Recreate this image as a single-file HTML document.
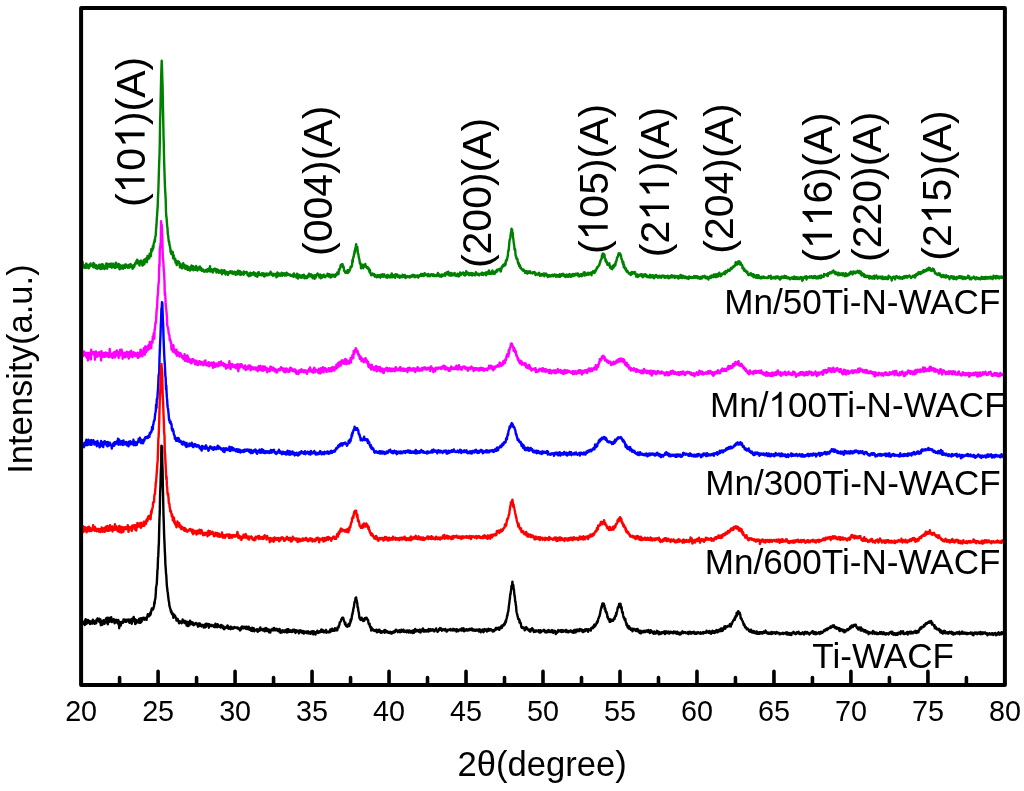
<!DOCTYPE html>
<html lang="en"><head><meta charset="utf-8"><title>XRD patterns</title>
<style>
html,body{margin:0;padding:0;background:#fff;}
body{width:1024px;height:791px;overflow:hidden;}
svg{display:block;will-change:transform;}
text{font-family:"Liberation Sans",sans-serif;fill:#000;}
.tk{font-size:30.4px;text-anchor:middle;}
.ax{font-size:34.6px;}
.lb{font-size:35.1px;}
.pk{font-size:41px;font-kerning:none;}
.cv{fill:none;stroke-width:2.4;stroke-linejoin:round;stroke-linecap:round;}
</style></head><body>
<svg width="1024" height="791" viewBox="0 0 1024 791">
<rect x="0" y="0" width="1024" height="791" fill="#fff"/>
<g>
<path class="cv" stroke="#008000" d="M81.7 267.3L82 264.9L82.3 265.1L82.6 261.9L82.9 266.6L83.2 266.6L83.5 266.6L83.9 267.6L84.2 267.7L84.5 265.4L84.8 265.7L85.1 266.2L85.4 267.7L85.7 266.5L86 263.8L86.3 263.5L86.6 266.6L86.9 267.7L87.2 266L87.5 264.9L87.9 267.7L88.2 265L88.5 267.2L88.8 268.3L89.1 266.8L89.4 265.6L89.7 266.7L90 264.1L90.3 264.9L90.6 263.5L90.9 264.8L91.2 264.6L91.5 264.9L91.9 265.3L92.2 266.1L92.5 266.1L92.8 266L93.1 266.9L93.4 262.9L93.7 267.3L94 264.9L94.3 263.8L94.6 265.7L94.9 265.7L95.2 267.6L95.5 265.4L95.9 268.1L96.2 268.4L96.5 265.3L96.8 265.7L97.1 267.7L97.4 267.4L97.7 268.7L98 267.9L98.3 267.2L98.6 267L98.9 268.1L99.2 264.6L99.5 265.9L99.9 267.4L100.2 265.1L100.5 269.1L100.8 265.8L101.1 266.3L101.4 268.9L101.7 264.1L102 265.5L102.3 268.6L102.6 264.5L102.9 264.5L103.2 266.1L103.5 266.2L103.8 267.1L104.2 267.2L104.5 269.1L104.8 268.3L105.1 267.8L105.4 266L105.7 266L106 263.8L106.3 267.4L106.6 263.5L106.9 267.5L107.2 268.7L107.5 264L107.8 264.6L108.2 264.6L108.5 266.6L108.8 264.3L109.1 265L109.4 264.6L109.7 264.5L110 266.9L110.3 263.8L110.6 265L110.9 265.2L111.2 266.3L111.5 263.7L111.8 267.7L112.2 266.4L112.5 267.1L112.8 266.5L113.1 263.6L113.4 264.6L113.7 267.1L114 265.9L114.3 265L114.6 267.6L114.9 267.9L115.2 265.3L115.5 267.7L115.8 262.6L116.2 263.1L116.5 267.3L116.8 264.9L117.1 266.6L117.4 266.5L117.7 266.3L118 267.1L118.3 266.5L118.6 264L118.9 266.3L119.2 266.4L119.5 269.3L119.8 264.7L120.2 266.3L120.5 265.6L120.8 266.2L121.1 268.5L121.4 267L121.7 265.8L122 266.1L122.3 267.5L122.6 265.5L122.9 266.8L123.2 268.7L123.5 267.9L123.8 266.3L124.2 265.5L124.5 265.8L124.8 264.6L125.1 267.9L125.4 266.7L125.7 266.2L126 264.5L126.3 264.7L126.6 266.9L126.9 266.7L127.2 265.7L127.5 267L127.8 267.8L128.2 265.5L128.5 265.6L128.8 265.4L129.1 264.8L129.4 267.6L129.7 267.3L130 267.1L130.3 264.6L130.6 264.1L130.9 266L131.2 265.2L131.5 265.9L131.8 265.3L132.2 267.1L132.5 268.8L132.8 268.4L133.1 268.4L133.4 266L133.7 266.5L134 264.9L134.3 266.7L134.6 264.9L134.9 264L135.2 263.1L135.5 264L135.8 263.3L136.2 262.8L136.5 260.6L136.8 261.9L137.1 259.8L137.4 263.3L137.7 261.5L138 262.6L138.3 263L138.6 261L138.9 261.6L139.2 263.8L139.5 265.6L139.8 261.7L140.2 262.7L140.5 263.7L140.8 260.8L141.1 260.6L141.4 261.8L141.7 262.7L142 262.5L142.3 265.6L142.6 263.2L142.9 263.7L143.2 265L143.5 265L143.8 259.9L144.2 261.7L144.5 263.8L144.8 259.8L145.1 260.1L145.4 258.9L145.7 258.7L146 258.5L146.3 260L146.6 261.7L146.9 262.2L147.2 259.3L147.5 255.9L147.8 258.6L148.1 258L148.5 259L148.8 258.3L149.1 255.5L149.4 257.8L149.7 253.6L150 255.3L150.3 255.9L150.6 254.9L150.9 256.2L151.2 249.1L151.5 251.6L151.8 251.3L152.1 249.2L152.5 250.1L152.8 246.3L153.1 248.5L153.4 247.4L153.7 243.7L154 242.6L154.3 242.4L154.6 240L154.9 241.5L155.2 236.9L155.5 236.7L155.8 234.3L156.1 228.9L156.5 224.7L156.8 218.8L157.1 215L157.4 210.1L157.7 206.2L158 197L158.3 191.3L158.6 182.3L158.9 171.8L159.2 161.9L159.5 155.3L159.8 143L160.1 121.4L160.5 108.4L160.8 93.1L161.1 78.2L161.4 69.4L161.7 60.6L162 66.8L162.3 78.4L162.6 87.1L162.9 103.2L163.2 118.4L163.5 134.5L163.8 144.9L164.1 160.4L164.5 172.6L164.8 181.9L165.1 189.6L165.4 194.3L165.7 199.4L166 211.7L166.3 216.5L166.6 218.1L166.9 222.4L167.2 226.4L167.5 227.7L167.8 234.4L168.1 235.1L168.5 238.8L168.8 241.9L169.1 241.5L169.4 244.3L169.7 245.9L170 246.7L170.3 248.6L170.6 252.2L170.9 250.4L171.2 254L171.5 251L171.8 254.2L172.1 254.3L172.5 254L172.8 252.1L173.1 258.4L173.4 255.1L173.7 255.4L174 257.3L174.3 258.5L174.6 259.8L174.9 260.1L175.2 258.7L175.5 262.6L175.8 260.5L176.1 263.1L176.5 264L176.8 265.1L177.1 262.8L177.4 262.5L177.7 262.7L178 261.1L178.3 262.3L178.6 262.3L178.9 261.8L179.2 263.8L179.5 263.8L179.8 266.8L180.1 267.5L180.5 263.7L180.8 266.3L181.1 265.3L181.4 267.5L181.7 267.6L182 268.4L182.3 267.1L182.6 267.5L182.9 265.8L183.2 263.2L183.5 264.8L183.8 265.4L184.1 265.7L184.5 264.9L184.8 268.5L185.1 266.8L185.4 268.5L185.7 266.9L186 268.9L186.3 265.6L186.6 268.2L186.9 266L187.2 268.1L187.5 269.8L187.8 266.4L188.1 267.8L188.4 269L188.8 269.1L189.1 267.8L189.4 270.3L189.7 269.1L190 270.5L190.3 269L190.6 266.6L190.9 267.1L191.2 269.6L191.5 265.5L191.8 266.7L192.1 268.3L192.4 268.9L192.8 268.8L193.1 266.1L193.4 270.4L193.7 268.2L194 268.6L194.3 269.2L194.6 268.5L194.9 267.3L195.2 267.7L195.5 269.8L195.8 267.1L196.1 266L196.4 269.2L196.8 268.3L197.1 268.7L197.4 270.5L197.7 267.7L198 268.8L198.3 268.7L198.6 269.4L198.9 269.2L199.2 266.8L199.5 266.7L199.8 267.8L200.1 266.6L200.4 269.9L200.8 268.5L201.1 268.5L201.4 268.3L201.7 270.9L202 269.9L202.3 269.4L202.6 270.8L202.9 269.5L203.2 270.7L203.5 271.4L203.8 270.2L204.1 270.8L204.4 270.5L204.8 271.7L205.1 270.9L205.4 270.6L205.7 270.2L206 271L206.3 269.7L206.6 271.4L206.9 270.8L207.2 271.7L207.5 269.8L207.8 269.5L208.1 268.9L208.4 271L208.8 269.3L209.1 269.5L209.4 268.1L209.7 269.9L210 266.3L210.3 271.6L210.6 269.6L210.9 270.3L211.2 269.1L211.5 269.7L211.8 271.4L212.1 270.5L212.4 271.7L212.8 272.4L213.1 271.9L213.4 269.3L213.7 270.2L214 269.9L214.3 270L214.6 268.9L214.9 268.6L215.2 269.7L215.5 269.8L215.8 271.2L216.1 270.4L216.4 272.5L216.8 269.3L217.1 269.4L217.4 270.9L217.7 270.8L218 269.8L218.3 271.9L218.6 272.3L218.9 272.8L219.2 270.7L219.5 270.9L219.8 271.6L220.1 271.6L220.4 272.4L220.8 271L221.1 272L221.4 269.9L221.7 273L222 274.2L222.3 272.4L222.6 273.4L222.9 270.8L223.2 272.2L223.5 270.8L223.8 272.9L224.1 272.5L224.4 270.2L224.8 271.2L225.1 271.3L225.4 274.5L225.7 271.5L226 272L226.3 272.6L226.6 272.9L226.9 272.8L227.2 272L227.5 272.1L227.8 275L228.1 273.6L228.4 273.4L228.7 272.1L229.1 273.4L229.4 272.7L229.7 271.7L230 272.9L230.3 271.1L230.6 271.7L230.9 272.8L231.2 271.9L231.5 273.3L231.8 271.4L232.1 271.5L232.4 272.3L232.7 272.5L233.1 273.9L233.4 272.8L233.7 272.2L234 272.8L234.3 273L234.6 271.6L234.9 273.1L235.2 273.2L235.5 274.7L235.8 272.6L236.1 274.1L236.4 272L236.7 273.3L237.1 274.4L237.4 273.2L237.7 274.1L238 270.8L238.3 273.1L238.6 273.6L238.9 273.7L239.2 272.1L239.5 274.4L239.8 271L240.1 274.7L240.4 274.1L240.7 274.9L241.1 273.4L241.4 272.2L241.7 272.8L242 272.9L242.3 274L242.6 273.3L242.9 273.6L243.2 273.7L243.5 274.8L243.8 271.5L244.1 273L244.4 273.5L244.7 273.4L245.1 272.2L245.4 272.6L245.7 272.6L246 272.9L246.3 271.9L246.6 272L246.9 272.1L247.2 273.1L247.5 275.1L247.8 273.2L248.1 274.7L248.4 275.7L248.7 273.9L249.1 276.4L249.4 273.7L249.7 275.2L250 273.9L250.3 272.6L250.6 274L250.9 275.5L251.2 273.4L251.5 274.7L251.8 273.3L252.1 273.3L252.4 274.5L252.7 273.4L253.1 274.4L253.4 274.6L253.7 272.3L254 272.5L254.3 273.2L254.6 275.3L254.9 273.1L255.2 273.1L255.5 274.7L255.8 276.1L256.1 273.8L256.4 273.9L256.7 274.6L257.1 275L257.4 276.7L257.7 273.1L258 272.4L258.3 274.1L258.6 274.8L258.9 272.1L259.2 274L259.5 275L259.8 273.8L260.1 274.5L260.4 274.4L260.7 275.1L261.1 274.7L261.4 274.2L261.7 275.2L262 273.3L262.3 274.3L262.6 275.3L262.9 273.8L263.2 273.9L263.5 273.5L263.8 273.3L264.1 276.5L264.4 274.9L264.7 276.3L265.1 275L265.4 274.3L265.7 273.8L266 274.5L266.3 274.1L266.6 275.3L266.9 273.5L267.2 274.8L267.5 275.2L267.8 274.9L268.1 274.2L268.4 274.9L268.7 275L269.1 274.4L269.4 274L269.7 272.9L270 273.8L270.3 273.3L270.6 271.7L270.9 273.6L271.2 274.6L271.5 274.4L271.8 273.4L272.1 275.1L272.4 275.2L272.7 275.2L273 275.9L273.4 274L273.7 274.7L274 273.9L274.3 275.3L274.6 275.1L274.9 274.7L275.2 275.1L275.5 274.1L275.8 275.5L276.1 273.8L276.4 277.3L276.7 276.4L277 273.7L277.4 272.5L277.7 276.4L278 274.4L278.3 275.4L278.6 273.5L278.9 275.3L279.2 273.8L279.5 275L279.8 273.8L280.1 275.9L280.4 273.9L280.7 275.6L281 274.3L281.4 274.7L281.7 272.6L282 273L282.3 275.8L282.6 274.2L282.9 274.7L283.2 274.1L283.5 273.6L283.8 274.7L284.1 273.3L284.4 273.5L284.7 275.5L285 273.4L285.4 274.5L285.7 274.7L286 275.6L286.3 274.7L286.6 272.6L286.9 274L287.2 273.8L287.5 275L287.8 274.6L288.1 273.8L288.4 274.8L288.7 274.3L289 274.9L289.4 274.4L289.7 275.2L290 274.8L290.3 275.7L290.6 274.8L290.9 275.8L291.2 275L291.5 275.9L291.8 276L292.1 275.9L292.4 275.6L292.7 275.5L293 276.4L293.4 273.9L293.7 276.9L294 273.5L294.3 275.6L294.6 275L294.9 276.1L295.2 275.9L295.5 275.8L295.8 275.6L296.1 276.1L296.4 277.5L296.7 275.8L297 273.6L297.4 275.2L297.7 275.7L298 278.6L298.3 274.8L298.6 275.4L298.9 276.7L299.2 276.3L299.5 274.9L299.8 277L300.1 275.4L300.4 276.6L300.7 277.6L301 275.7L301.4 276.3L301.7 277.8L302 276.1L302.3 275.3L302.6 275.9L302.9 277L303.2 274.9L303.5 275.8L303.8 274.7L304.1 275.6L304.4 278.3L304.7 277L305 277.2L305.4 277.9L305.7 276.9L306 276.3L306.3 278.1L306.6 278.2L306.9 276.2L307.2 277.2L307.5 277.8L307.8 276.6L308.1 276.5L308.4 274.6L308.7 275.3L309 273.8L309.4 276.2L309.7 275L310 276.4L310.3 275L310.6 276.4L310.9 274.2L311.2 275.5L311.5 276.7L311.8 276.7L312.1 276.6L312.4 275.2L312.7 278.2L313 277.2L313.3 277.3L313.7 277.3L314 275.8L314.3 276.8L314.6 278.8L314.9 275.3L315.2 276.3L315.5 275.2L315.8 277.4L316.1 276.1L316.4 274.9L316.7 275.3L317 274.3L317.3 273.7L317.7 273.4L318 275L318.3 274.5L318.6 275.8L318.9 275L319.2 275.9L319.5 277.4L319.8 275.1L320.1 274.6L320.4 276.6L320.7 278.3L321 275.9L321.3 275.2L321.7 276.6L322 276.5L322.3 277.5L322.6 275.6L322.9 276.5L323.2 276.6L323.5 275L323.8 274.6L324.1 276.5L324.4 276.6L324.7 275.3L325 277.2L325.3 276.5L325.7 276.2L326 276L326.3 275.8L326.6 276.2L326.9 276.1L327.2 275.3L327.5 273.7L327.8 275.5L328.1 275L328.4 274.7L328.7 276.5L329 274.3L329.3 276.4L329.7 275L330 274.6L330.3 274.9L330.6 277.5L330.9 276.8L331.2 274.9L331.5 276L331.8 276.9L332.1 274.7L332.4 275.2L332.7 275.9L333 275.3L333.3 274.8L333.7 276.3L334 275.4L334.3 275.3L334.6 276.7L334.9 274.7L335.2 276.7L335.5 274.4L335.8 274.2L336.1 274.4L336.4 275.3L336.7 274.9L337 274.7L337.3 272.5L337.7 272.9L338 273.2L338.3 274.1L338.6 273.8L338.9 269.4L339.2 270.6L339.5 269.2L339.8 268.9L340.1 268.3L340.4 266.4L340.7 265L341 266.5L341.3 265.9L341.7 264.1L342 264.6L342.3 264.7L342.6 264.3L342.9 267.1L343.2 266L343.5 266.4L343.8 267.8L344.1 270.8L344.4 270.6L344.7 271.1L345 271.6L345.3 272.6L345.7 272.8L346 271.6L346.3 272.4L346.6 272.1L346.9 272.8L347.2 272.4L347.5 270.3L347.8 273L348.1 271.8L348.4 270L348.7 272.2L349 271L349.3 271.1L349.7 270.3L350 269.7L350.3 268.5L350.6 266.8L350.9 267.5L351.2 267.3L351.5 266.2L351.8 266.3L352.1 264L352.4 260L352.7 262.4L353 259.4L353.3 257.2L353.7 256.8L354 253.9L354.3 254.3L354.6 250.7L354.9 252.6L355.2 249.3L355.5 247.5L355.8 246.5L356.1 244.1L356.4 245.6L356.7 246.5L357 248.1L357.3 246.8L357.6 251L358 253.9L358.3 253.8L358.6 255.9L358.9 258.1L359.2 258.6L359.5 260.2L359.8 263L360.1 263.7L360.4 263.2L360.7 263.7L361 268.3L361.3 267L361.6 265.5L362 266.9L362.3 267.5L362.6 266.7L362.9 264.7L363.2 268.3L363.5 267L363.8 265.7L364.1 266.6L364.4 265.8L364.7 265.5L365 266.5L365.3 263.9L365.6 266.6L366 266.3L366.3 266.3L366.6 267.2L366.9 268L367.2 267.9L367.5 267.9L367.8 267.3L368.1 268.7L368.4 268.4L368.7 268.2L369 270.6L369.3 271L369.6 272.3L370 270L370.3 273.2L370.6 273.9L370.9 273.8L371.2 275.4L371.5 273.6L371.8 274.6L372.1 274.1L372.4 274.5L372.7 273.6L373 274.6L373.3 275L373.6 274.7L374 274.8L374.3 274.1L374.6 276.5L374.9 274.9L375.2 275.4L375.5 276.3L375.8 275.4L376.1 276.7L376.4 276L376.7 277.3L377 276.3L377.3 276.3L377.6 275.1L378 276.6L378.3 276.9L378.6 276.7L378.9 275.3L379.2 275.8L379.5 276.2L379.8 276.5L380.1 275L380.4 277.7L380.7 275.6L381 275.5L381.3 274.8L381.6 275L382 276.5L382.3 274.4L382.6 274.6L382.9 274.3L383.2 274.9L383.5 276.8L383.8 275.4L384.1 275.7L384.4 274.5L384.7 276L385 276.4L385.3 276.4L385.6 276.6L386 277.3L386.3 277.4L386.6 276.5L386.9 275.9L387.2 275.1L387.5 277.7L387.8 274.9L388.1 276.6L388.4 275.9L388.7 275.5L389 276.8L389.3 275.8L389.6 277.4L390 275.8L390.3 277L390.6 277.3L390.9 274.8L391.2 277.2L391.5 276.2L391.8 273.5L392.1 276.7L392.4 277.3L392.7 275.8L393 275.9L393.3 276.7L393.6 275.1L394 276.5L394.3 277.2L394.6 276L394.9 277.1L395.2 277.8L395.5 274.1L395.8 274.2L396.1 274.8L396.4 275.9L396.7 275.9L397 274.8L397.3 274.6L397.6 274.9L397.9 277L398.3 275.3L398.6 275.6L398.9 277L399.2 276.3L399.5 275.8L399.8 277.8L400.1 277.2L400.4 276L400.7 276.3L401 276.9L401.3 275.9L401.6 276.6L401.9 277L402.3 277.1L402.6 274.8L402.9 275.5L403.2 276.1L403.5 276.4L403.8 276.9L404.1 277L404.4 275.6L404.7 274.9L405 276L405.3 275.9L405.6 278L405.9 276.6L406.3 276.5L406.6 277.1L406.9 276L407.2 276.2L407.5 276.7L407.8 277.1L408.1 277.2L408.4 276.9L408.7 276.9L409 276.2L409.3 276.8L409.6 276.2L409.9 277.6L410.3 276L410.6 276.5L410.9 276.6L411.2 276.7L411.5 275.7L411.8 276L412.1 275.4L412.4 274.9L412.7 276.6L413 276.2L413.3 274.8L413.6 275.3L413.9 276.5L414.3 275.7L414.6 275.2L414.9 277.2L415.2 275.8L415.5 276.1L415.8 276.7L416.1 275.7L416.4 276.2L416.7 276.4L417 276.6L417.3 275.5L417.6 277.1L417.9 276.6L418.3 277.7L418.6 276.1L418.9 275.4L419.2 275.5L419.5 275.2L419.8 276L420.1 275.6L420.4 276L420.7 275.1L421 274L421.3 275.7L421.6 274.7L421.9 275L422.3 275.7L422.6 275.5L422.9 273.9L423.2 274.8L423.5 275.9L423.8 276L424.1 275.6L424.4 275.5L424.7 273.1L425 274.6L425.3 273.6L425.6 274.2L425.9 274.4L426.3 275.2L426.6 275.2L426.9 275L427.2 274.9L427.5 274.5L427.8 276.3L428.1 275.4L428.4 273.9L428.7 275.3L429 275.4L429.3 274.8L429.6 275.5L429.9 276.3L430.3 275.1L430.6 274.9L430.9 275L431.2 274.2L431.5 274.3L431.8 274.5L432.1 274.7L432.4 274.4L432.7 275.9L433 275L433.3 275.7L433.6 274.3L433.9 275.4L434.3 276.1L434.6 275.9L434.9 275.3L435.2 276L435.5 275.9L435.8 275.3L436.1 275.4L436.4 276.1L436.7 274.8L437 274.4L437.3 275.4L437.6 275.6L437.9 273L438.2 276L438.6 275.1L438.9 275.4L439.2 274.4L439.5 274.9L439.8 276.4L440.1 276.2L440.4 275.6L440.7 275.1L441 275.5L441.3 276.8L441.6 274.9L441.9 274.6L442.2 275.1L442.6 275.9L442.9 274.5L443.2 275.5L443.5 275.3L443.8 275L444.1 274.4L444.4 275.4L444.7 274.8L445 273.3L445.3 275.7L445.6 274.9L445.9 274.4L446.2 273.9L446.6 273.9L446.9 272.2L447.2 273.7L447.5 274.4L447.8 274.2L448.1 273.2L448.4 271.7L448.7 272.9L449 273.9L449.3 275.4L449.6 273.2L449.9 274.8L450.2 275.6L450.6 275.7L450.9 275.3L451.2 273L451.5 275.6L451.8 275L452.1 275.1L452.4 273.8L452.7 273.8L453 275.2L453.3 274.1L453.6 273.9L453.9 273.6L454.2 275.3L454.6 273L454.9 273.8L455.2 274.6L455.5 274.7L455.8 275.6L456.1 275L456.4 275.9L456.7 274.5L457 274.6L457.3 275.1L457.6 273.6L457.9 276.2L458.2 274.3L458.6 276.1L458.9 276.4L459.2 276L459.5 275L459.8 273.9L460.1 272.5L460.4 274.6L460.7 273.9L461 275.1L461.3 273.5L461.6 274.1L461.9 273.2L462.2 274.1L462.6 273.8L462.9 273.8L463.2 272.5L463.5 273.5L463.8 274.1L464.1 275L464.4 274.3L464.7 273.1L465 275.5L465.3 274.4L465.6 275L465.9 273.3L466.2 271.3L466.6 273.3L466.9 273L467.2 274.3L467.5 272.8L467.8 273.3L468.1 272.8L468.4 273.9L468.7 273.1L469 275.2L469.3 274.6L469.6 274.9L469.9 273.6L470.2 274.2L470.6 274.5L470.9 273L471.2 274.7L471.5 273.5L471.8 274.4L472.1 275.5L472.4 274.9L472.7 273.2L473 275L473.3 273.8L473.6 274.2L473.9 274.7L474.2 273.9L474.6 275L474.9 274.1L475.2 275.4L475.5 274.4L475.8 272.2L476.1 273.3L476.4 273.4L476.7 273.5L477 273.5L477.3 274.4L477.6 274.2L477.9 273.6L478.2 275L478.6 275.1L478.9 274.6L479.2 275.4L479.5 274.7L479.8 273.9L480.1 273.8L480.4 273.7L480.7 273.8L481 273.5L481.3 274.2L481.6 274.7L481.9 272.6L482.2 272.7L482.5 273.7L482.9 274.4L483.2 275.1L483.5 274.6L483.8 274.3L484.1 273.2L484.4 273.8L484.7 273.3L485 273.7L485.3 274.1L485.6 272.5L485.9 272.9L486.2 275.4L486.5 272.7L486.9 272.8L487.2 272.5L487.5 272L487.8 273.9L488.1 272.4L488.4 272.4L488.7 272.1L489 270.4L489.3 273.7L489.6 272.8L489.9 272.9L490.2 273.8L490.5 272.9L490.9 273.3L491.2 273.2L491.5 274L491.8 271.4L492.1 271.9L492.4 270.4L492.7 272.2L493 272.9L493.3 272L493.6 273.9L493.9 273L494.2 273.8L494.5 272.4L494.9 273.5L495.2 271.4L495.5 271.9L495.8 271.3L496.1 270.8L496.4 272L496.7 271.8L497 269.6L497.3 270.8L497.6 269.8L497.9 269.7L498.2 270.2L498.5 269.6L498.9 270L499.2 269.9L499.5 268.8L499.8 269.2L500.1 270.1L500.4 269.5L500.7 271.5L501 271.1L501.3 268L501.6 268.6L501.9 266.5L502.2 267.3L502.5 266.5L502.9 266.2L503.2 264.7L503.5 266.3L503.8 265.8L504.1 264.5L504.4 264.8L504.7 265.1L505 265.4L505.3 262.8L505.6 264.6L505.9 260.5L506.2 260.5L506.5 259.7L506.9 260.4L507.2 258.4L507.5 256.9L507.8 255.9L508.1 252.6L508.4 250.2L508.7 250.4L509 246.3L509.3 243L509.6 240L509.9 239.6L510.2 238.9L510.5 235.8L510.9 232.6L511.2 232.6L511.5 228.7L511.8 230.5L512.1 229.6L512.4 233.6L512.7 232.6L513 237.1L513.3 238.9L513.6 241.3L513.9 244.1L514.2 245.4L514.5 249.5L514.9 250L515.2 249.2L515.5 254.8L515.8 255.9L516.1 256.5L516.4 258.2L516.7 259L517 258.6L517.3 258.7L517.6 260.3L517.9 262.4L518.2 263.8L518.5 262.7L518.9 263.4L519.2 266.4L519.5 264.9L519.8 265.5L520.1 265.4L520.4 268.1L520.7 267.5L521 267.9L521.3 268.9L521.6 268.8L521.9 269.6L522.2 269.2L522.5 269.8L522.8 270.2L523.2 270.8L523.5 269.5L523.8 270.4L524.1 270.7L524.4 270.6L524.7 271.2L525 272.9L525.3 272.4L525.6 271.7L525.9 271.8L526.2 272.7L526.5 270.9L526.8 272.4L527.2 273.4L527.5 273.7L527.8 272.9L528.1 272.9L528.4 271.4L528.7 272.3L529 272.9L529.3 272.8L529.6 272.9L529.9 271.1L530.2 272.6L530.5 273.1L530.8 272.3L531.2 272.5L531.5 273.1L531.8 273L532.1 273.1L532.4 273.4L532.7 273.2L533 272.2L533.3 272.2L533.6 272.2L533.9 272.6L534.2 273.1L534.5 271.9L534.8 272.9L535.2 273.3L535.5 275L535.8 274.3L536.1 273.5L536.4 274.4L536.7 273.8L537 273.9L537.3 274.7L537.6 273.7L537.9 274L538.2 274.5L538.5 273.7L538.8 274.3L539.2 272.8L539.5 274.3L539.8 275.8L540.1 274.4L540.4 274.9L540.7 274.6L541 274.5L541.3 275.5L541.6 274.6L541.9 275.6L542.2 273.9L542.5 274.5L542.8 274.2L543.2 274.1L543.5 275.3L543.8 273.5L544.1 273.5L544.4 276.3L544.7 274.2L545 274.3L545.3 275L545.6 273.7L545.9 274.9L546.2 273.6L546.5 274.3L546.8 274.7L547.2 276.2L547.5 275.9L547.8 277L548.1 276.6L548.4 275.3L548.7 275.8L549 275.4L549.3 275.1L549.6 276.3L549.9 276.6L550.2 275.5L550.5 275.7L550.8 275.9L551.2 275.5L551.5 275.9L551.8 275L552.1 276.2L552.4 275.1L552.7 274.7L553 275.6L553.3 276L553.6 276.2L553.9 276L554.2 275.7L554.5 274.5L554.8 275.6L555.2 275.7L555.5 275.8L555.8 274.7L556.1 276.7L556.4 276.3L556.7 276.2L557 276L557.3 275.8L557.6 276.6L557.9 275L558.2 275.7L558.5 276L558.8 276.6L559.2 275.6L559.5 276.8L559.8 274.2L560.1 276.9L560.4 275.9L560.7 276.2L561 274.8L561.3 275.9L561.6 274.5L561.9 275L562.2 273.9L562.5 275.6L562.8 275.3L563.2 273.8L563.5 275L563.8 275L564.1 275.9L564.4 274.9L564.7 275.6L565 276.6L565.3 274.9L565.6 277L565.9 275.9L566.2 275.6L566.5 274.8L566.8 274.6L567.1 276.6L567.5 275.7L567.8 275.6L568.1 276.9L568.4 276.6L568.7 276.1L569 274.5L569.3 274L569.6 276.1L569.9 275.4L570.2 275.1L570.5 276.7L570.8 274.8L571.1 275.6L571.5 276.6L571.8 275.7L572.1 275L572.4 274.3L572.7 276.1L573 273.9L573.3 275.2L573.6 276L573.9 274.3L574.2 275.2L574.5 274.6L574.8 275.5L575.1 274.8L575.5 273.8L575.8 274.8L576.1 274.8L576.4 274L576.7 274.6L577 273.8L577.3 274.3L577.6 275.4L577.9 273.4L578.2 275.4L578.5 275.1L578.8 274.8L579.1 276.5L579.5 275.8L579.8 274.8L580.1 275.2L580.4 276L580.7 274.2L581 275.2L581.3 274.9L581.6 275.1L581.9 276.2L582.2 273.9L582.5 274.3L582.8 273.9L583.1 274.8L583.5 275.1L583.8 272.5L584.1 275.4L584.4 275.6L584.7 272.3L585 273.3L585.3 274.7L585.6 274.2L585.9 274.9L586.2 274L586.5 275.1L586.8 273.4L587.1 274.5L587.5 273.7L587.8 273.9L588.1 272.7L588.4 273.6L588.7 274.8L589 273.3L589.3 273.7L589.6 273.9L589.9 273L590.2 273.9L590.5 274.1L590.8 273.8L591.1 272.4L591.5 275.2L591.8 273.6L592.1 273.1L592.4 272.6L592.7 272L593 271.2L593.3 272L593.6 271.9L593.9 272.7L594.2 273.1L594.5 271L594.8 272.8L595.1 271.6L595.5 271.6L595.8 269.7L596.1 270.2L596.4 268.9L596.7 269.2L597 267.1L597.3 268L597.6 267.2L597.9 266.7L598.2 266.5L598.5 266.1L598.8 265.3L599.1 265.3L599.5 264.6L599.8 262.7L600.1 262.9L600.4 260.6L600.7 260.7L601 259.7L601.3 259L601.6 259L601.9 255.6L602.2 257.8L602.5 253.8L602.8 256.2L603.1 256L603.5 253.8L603.8 255.7L604.1 255L604.4 254.3L604.7 257.6L605 258.4L605.3 258.9L605.6 261.4L605.9 260L606.2 260.6L606.5 262.5L606.8 261.8L607.1 264L607.4 264.7L607.8 264.3L608.1 264.6L608.4 265.1L608.7 265.3L609 264.9L609.3 263.2L609.6 265.9L609.9 265.3L610.2 267.9L610.5 267.1L610.8 268L611.1 268.5L611.4 268.7L611.8 266.7L612.1 269.2L612.4 268L612.7 267.4L613 265.6L613.3 267.9L613.6 266.5L613.9 266.1L614.2 264.8L614.5 266.3L614.8 265.5L615.1 263.6L615.4 265L615.8 261.6L616.1 262.2L616.4 260.7L616.7 259.9L617 257.7L617.3 257.1L617.6 257.2L617.9 256.6L618.2 254.8L618.5 254L618.8 253.2L619.1 255.2L619.4 254.1L619.8 253.8L620.1 253.4L620.4 254.3L620.7 255.5L621 255.5L621.3 257.9L621.6 259.3L621.9 259.3L622.2 261L622.5 262.4L622.8 261.3L623.1 264.5L623.4 262.2L623.8 267.3L624.1 264.9L624.4 267.1L624.7 267.5L625 268.6L625.3 267.9L625.6 269.6L625.9 268.4L626.2 270.9L626.5 270.5L626.8 271.4L627.1 272L627.4 270.6L627.8 271.8L628.1 272L628.4 272.9L628.7 273.4L629 273.7L629.3 273.2L629.6 273.2L629.9 273.9L630.2 274.5L630.5 274.3L630.8 275.1L631.1 272.8L631.4 273.3L631.8 271.9L632.1 272.2L632.4 273.3L632.7 273.8L633 272.1L633.3 272.8L633.6 272.7L633.9 273.1L634.2 273.3L634.5 273.3L634.8 271.9L635.1 272.7L635.4 274.4L635.8 274.6L636.1 276.5L636.4 275.1L636.7 276.1L637 274.5L637.3 274.4L637.6 276.1L637.9 277L638.2 276L638.5 275.1L638.8 275.6L639.1 276.1L639.4 275.7L639.8 275.2L640.1 274.4L640.4 274.4L640.7 274.8L641 275L641.3 274.2L641.6 276.4L641.9 275.1L642.2 274.5L642.5 275.7L642.8 277.3L643.1 275.7L643.4 275.7L643.8 276.3L644.1 274.5L644.4 275L644.7 275L645 276.1L645.3 274.1L645.6 275.4L645.9 274.7L646.2 275.2L646.5 275.2L646.8 277L647.1 276L647.4 275.8L647.8 277L648.1 276.5L648.4 277.3L648.7 277L649 276.9L649.3 276.8L649.6 275.6L649.9 274.8L650.2 277.6L650.5 275.3L650.8 276.5L651.1 275.3L651.4 276L651.7 276L652.1 277.3L652.4 275.9L652.7 275.2L653 275.6L653.3 276.8L653.6 277.2L653.9 278.2L654.2 278.2L654.5 275.7L654.8 276.6L655.1 275.8L655.4 276.5L655.7 276.9L656.1 274.9L656.4 276.8L656.7 276.6L657 276.2L657.3 276L657.6 277.6L657.9 276.4L658.2 276L658.5 277L658.8 277.6L659.1 277.5L659.4 275.8L659.7 276L660.1 276.5L660.4 277.3L660.7 277.1L661 276.2L661.3 277.7L661.6 277.3L661.9 275.8L662.2 275.9L662.5 276.5L662.8 275.6L663.1 276.3L663.4 276.3L663.7 275.7L664.1 276.5L664.4 277.7L664.7 276L665 277.1L665.3 276.2L665.6 277.7L665.9 277.7L666.2 276.9L666.5 276.5L666.8 277.3L667.1 276.6L667.4 275.6L667.7 275.6L668.1 276.5L668.4 278.3L668.7 277.5L669 277.7L669.3 277.5L669.6 278L669.9 277.9L670.2 276L670.5 277.4L670.8 277.4L671.1 277.1L671.4 277.2L671.7 275.1L672.1 277L672.4 275.7L672.7 277.4L673 276.4L673.3 276.8L673.6 276.9L673.9 275.6L674.2 276.9L674.5 276.1L674.8 278L675.1 276.7L675.4 276.1L675.7 277.6L676.1 276.6L676.4 276.3L676.7 277L677 276.9L677.3 277.1L677.6 275.9L677.9 278L678.2 277.5L678.5 278.6L678.8 277.7L679.1 276.5L679.4 277.6L679.7 276.5L680.1 276.6L680.4 275L680.7 275.7L681 277.8L681.3 277.7L681.6 275.4L681.9 277L682.2 277.2L682.5 278.1L682.8 276.6L683.1 275.8L683.4 277.4L683.7 276.5L684.1 276.5L684.4 276.6L684.7 278.1L685 276.5L685.3 277.6L685.6 277.4L685.9 276.8L686.2 278L686.5 278.3L686.8 277.5L687.1 277L687.4 277.8L687.7 277.2L688.1 278.4L688.4 279L688.7 277.1L689 276.4L689.3 278.2L689.6 277.3L689.9 277.5L690.2 277.8L690.5 277L690.8 277.7L691.1 276.9L691.4 277.2L691.7 277.7L692 278.1L692.4 277.1L692.7 277.6L693 277.6L693.3 277.4L693.6 276.9L693.9 277.9L694.2 275.9L694.5 277.3L694.8 277.4L695.1 277.3L695.4 276.3L695.7 277.9L696 277.5L696.4 276.2L696.7 276.6L697 276.2L697.3 277.5L697.6 278.2L697.9 278.3L698.2 276.9L698.5 276.7L698.8 277.3L699.1 277.4L699.4 278L699.7 277.4L700 278.7L700.4 277.5L700.7 278.7L701 276.8L701.3 277.4L701.6 277.6L701.9 278.2L702.2 278.2L702.5 276.8L702.8 276.3L703.1 277.1L703.4 276.5L703.7 276.2L704 276.6L704.4 275.8L704.7 277.1L705 277.6L705.3 276.5L705.6 276.6L705.9 278.4L706.2 278.4L706.5 277L706.8 277.2L707.1 276.7L707.4 278.4L707.7 278.2L708 277.9L708.4 279.5L708.7 277.5L709 277.4L709.3 277.5L709.6 276.9L709.9 277.4L710.2 276.3L710.5 276.5L710.8 278L711.1 275.8L711.4 275.4L711.7 276.6L712 276.1L712.4 275.9L712.7 276.7L713 277.2L713.3 275.1L713.6 275.8L713.9 274.4L714.2 276.4L714.5 274.7L714.8 276L715.1 277L715.4 276.5L715.7 275.9L716 274.1L716.4 277.1L716.7 275.3L717 276.2L717.3 275.3L717.6 275.3L717.9 276.6L718.2 273.7L718.5 273.8L718.8 274.6L719.1 275.6L719.4 272.8L719.7 275.6L720 273.9L720.4 274.7L720.7 276.3L721 274.8L721.3 275.1L721.6 275.4L721.9 273.8L722.2 273.9L722.5 273.5L722.8 274L723.1 273.4L723.4 273.4L723.7 273.1L724 274.1L724.4 272L724.7 272.8L725 274L725.3 271.8L725.6 271.1L725.9 272.9L726.2 271.3L726.5 271.4L726.8 272.3L727.1 271.8L727.4 271L727.7 271.1L728 269.7L728.4 270.5L728.7 270.6L729 270.8L729.3 270.1L729.6 270.8L729.9 269.4L730.2 270.2L730.5 269.4L730.8 268L731.1 268.8L731.4 268.5L731.7 268.8L732 268.5L732.3 268.3L732.7 266.8L733 266.9L733.3 266.4L733.6 267L733.9 266.6L734.2 265.8L734.5 265.5L734.8 266.1L735.1 264.3L735.4 263.6L735.7 262.2L736 263.9L736.3 263.8L736.7 263L737 264.7L737.3 262.3L737.6 262.2L737.9 262.6L738.2 261.4L738.5 263.8L738.8 262.2L739.1 261.8L739.4 261.3L739.7 263.8L740 264.4L740.3 262.8L740.7 262.8L741 264L741.3 264.6L741.6 264.5L741.9 265.7L742.2 265L742.5 268.3L742.8 267.3L743.1 268.2L743.4 267.6L743.7 269.3L744 270.4L744.3 268.9L744.7 269.9L745 271.1L745.3 271.2L745.6 270.6L745.9 270.9L746.2 272L746.5 272.2L746.8 271.7L747.1 272.9L747.4 271.7L747.7 273.6L748 274.4L748.3 274.9L748.7 274.5L749 275L749.3 274.8L749.6 274.5L749.9 273.7L750.2 273.5L750.5 274.4L750.8 273.8L751.1 273.2L751.4 275.6L751.7 274L752 274.9L752.3 275.2L752.7 274.6L753 275.9L753.3 274.3L753.6 277.3L753.9 274.7L754.2 275.4L754.5 275.7L754.8 276L755.1 276.1L755.4 276.8L755.7 277.1L756 277.9L756.3 275.2L756.7 277.1L757 276.6L757.3 276.3L757.6 275.3L757.9 278.1L758.2 277.4L758.5 275.2L758.8 277.9L759.1 277.2L759.4 277.1L759.7 278.1L760 277.1L760.3 277.6L760.7 278.3L761 277L761.3 277.1L761.6 276.7L761.9 278.3L762.2 276.9L762.5 276.9L762.8 276.8L763.1 277.6L763.4 277.6L763.7 276.6L764 278L764.3 277.4L764.7 277.7L765 277.4L765.3 277.6L765.6 277.5L765.9 277.8L766.2 277.9L766.5 278L766.8 277.5L767.1 277.6L767.4 277.9L767.7 278L768 278L768.3 277.1L768.7 276.1L769 277.4L769.3 277.4L769.6 277.2L769.9 277.4L770.2 277.1L770.5 277.6L770.8 275.8L771.1 278.8L771.4 277.6L771.7 277.3L772 277.8L772.3 277.5L772.7 277.4L773 278.3L773.3 277.6L773.6 277.1L773.9 278.1L774.2 277.5L774.5 277.8L774.8 277.4L775.1 278.5L775.4 276.7L775.7 278L776 278.4L776.3 276.6L776.6 277.5L777 276.5L777.3 277.6L777.6 276.4L777.9 276.5L778.2 277.6L778.5 278.4L778.8 278.3L779.1 277.8L779.4 277.5L779.7 277.9L780 279.6L780.3 279.1L780.6 276.9L781 277.6L781.3 277.1L781.6 278.3L781.9 277.7L782.2 276.6L782.5 277.7L782.8 277.3L783.1 276.8L783.4 277.5L783.7 278L784 276.4L784.3 276.8L784.6 275.8L785 276.7L785.3 277.8L785.6 277.4L785.9 276.1L786.2 276.1L786.5 277.8L786.8 277.3L787.1 277.2L787.4 278.4L787.7 277.4L788 277.4L788.3 278.4L788.6 277.3L789 278.1L789.3 277.7L789.6 278L789.9 277.9L790.2 279.4L790.5 278.7L790.8 278L791.1 278.3L791.4 277.6L791.7 277.8L792 278.3L792.3 278.3L792.6 278.7L793 278.1L793.3 277L793.6 277.8L793.9 276.7L794.2 279.1L794.5 276.6L794.8 278.1L795.1 278.4L795.4 277.6L795.7 277.9L796 279L796.3 277.3L796.6 278.9L797 278.1L797.3 277.5L797.6 279.1L797.9 278.5L798.2 278.3L798.5 277.6L798.8 278.1L799.1 277.8L799.4 279L799.7 277.8L800 277.5L800.3 277.8L800.6 278.5L801 277.1L801.3 278L801.6 277.4L801.9 277.2L802.2 280.9L802.5 279.1L802.8 280.1L803.1 278.9L803.4 278.5L803.7 277.6L804 278.1L804.3 277.9L804.6 276.6L805 277.6L805.3 277.8L805.6 277.5L805.9 277.6L806.2 276.2L806.5 279.6L806.8 278.2L807.1 276.9L807.4 277L807.7 277.3L808 277.2L808.3 277.6L808.6 276.9L809 277.6L809.3 277L809.6 277.1L809.9 276.3L810.2 277.3L810.5 277.6L810.8 276.9L811.1 276.4L811.4 277.5L811.7 276.2L812 276.7L812.3 277.6L812.6 278.1L813 276.9L813.3 277.4L813.6 278L813.9 276.2L814.2 276.5L814.5 277.1L814.8 277.8L815.1 276L815.4 276.3L815.7 278L816 278.2L816.3 276.8L816.6 277.7L816.9 278.4L817.3 277.5L817.6 276.6L817.9 278L818.2 278.3L818.5 276.5L818.8 278.2L819.1 276.9L819.4 275.9L819.7 277.1L820 275.8L820.3 277.6L820.6 277L820.9 278.1L821.3 275.4L821.6 276.3L821.9 277.4L822.2 277L822.5 276.7L822.8 276.2L823.1 276.4L823.4 276.6L823.7 276.8L824 273.9L824.3 274.5L824.6 274.7L824.9 274.9L825.3 274.9L825.6 274.4L825.9 274.9L826.2 275.1L826.5 275.5L826.8 274.1L827.1 274.4L827.4 274.3L827.7 276.1L828 273.2L828.3 273.6L828.6 273.3L828.9 272.9L829.3 273.9L829.6 272.9L829.9 272.3L830.2 273L830.5 273L830.8 272.4L831.1 272.2L831.4 273.2L831.7 271.8L832 272.7L832.3 272.1L832.6 271.6L832.9 271.2L833.3 270.6L833.6 272.4L833.9 272.6L834.2 271.8L834.5 271.4L834.8 272.1L835.1 272.9L835.4 274.1L835.7 273.1L836 272.3L836.3 274.1L836.6 273.8L836.9 273.5L837.3 272.8L837.6 274.7L837.9 275.3L838.2 273.4L838.5 272.8L838.8 274.3L839.1 274.5L839.4 275L839.7 274.9L840 273.5L840.3 274.9L840.6 274.8L840.9 274.4L841.3 274.9L841.6 273.5L841.9 274.1L842.2 273.4L842.5 274.6L842.8 275.4L843.1 273.3L843.4 274.7L843.7 275L844 274.6L844.3 275.5L844.6 274.8L844.9 276.4L845.3 274.3L845.6 273.1L845.9 274.1L846.2 273.8L846.5 275.2L846.8 276L847.1 275.7L847.4 274.6L847.7 274.4L848 274.3L848.3 273.9L848.6 275.2L848.9 273.5L849.3 274.2L849.6 274.2L849.9 274.2L850.2 272.3L850.5 272L850.8 271.7L851.1 273.2L851.4 271.8L851.7 272L852 273L852.3 273.4L852.6 274.4L852.9 273L853.3 273.7L853.6 271.5L853.9 273.1L854.2 273L854.5 272.7L854.8 271.9L855.1 273.2L855.4 273.2L855.7 272L856 271.7L856.3 271.9L856.6 272.1L856.9 272.4L857.3 271.4L857.6 270.8L857.9 271.8L858.2 271.6L858.5 272.8L858.8 272.3L859.1 271.7L859.4 270.9L859.7 271.8L860 271.5L860.3 271.4L860.6 274.4L860.9 271.6L861.2 274.2L861.6 275.5L861.9 273.2L862.2 273.2L862.5 274.7L862.8 273.8L863.1 274.7L863.4 275.2L863.7 273.9L864 276.6L864.3 275.6L864.6 275.9L864.9 277L865.2 275.3L865.6 275.4L865.9 276.7L866.2 276.9L866.5 276.2L866.8 276.8L867.1 276.9L867.4 276.2L867.7 275.7L868 275.9L868.3 276.7L868.6 277.2L868.9 276L869.2 278.6L869.6 278.6L869.9 276.8L870.2 276.3L870.5 276.9L870.8 277.7L871.1 277L871.4 278.3L871.7 276.7L872 277.7L872.3 277.3L872.6 278.6L872.9 277.5L873.2 277.4L873.6 276.1L873.9 276.7L874.2 275.7L874.5 278.8L874.8 276.2L875.1 276.2L875.4 276.6L875.7 276.6L876 277L876.3 275.5L876.6 277.5L876.9 277.1L877.2 277.5L877.6 278.7L877.9 277.6L878.2 276.7L878.5 276.9L878.8 278L879.1 277.4L879.4 277.9L879.7 276.7L880 277.4L880.3 276.8L880.6 276.7L880.9 278.4L881.2 277.7L881.6 277.2L881.9 278.4L882.2 278.9L882.5 276.5L882.8 278.6L883.1 278.1L883.4 277.8L883.7 279L884 278.3L884.3 277.6L884.6 278.8L884.9 277.6L885.2 277.8L885.6 276.9L885.9 278.3L886.2 278.9L886.5 278L886.8 278.4L887.1 279.1L887.4 278L887.7 277.6L888 279.1L888.3 277.3L888.6 275.8L888.9 276.4L889.2 277.3L889.6 276.6L889.9 276.7L890.2 277.1L890.5 277.7L890.8 277.6L891.1 277.7L891.4 278.5L891.7 280.5L892 278.8L892.3 278.1L892.6 277.2L892.9 277.6L893.2 276.8L893.6 277.6L893.9 276.8L894.2 278L894.5 278.5L894.8 277.9L895.1 279.4L895.4 276.6L895.7 277.8L896 276.8L896.3 276.8L896.6 276.1L896.9 277.1L897.2 277.2L897.6 276.7L897.9 277.9L898.2 277.5L898.5 278.2L898.8 277L899.1 277.2L899.4 276.8L899.7 278.2L900 278.6L900.3 277.6L900.6 277.3L900.9 278L901.2 278.6L901.5 278.4L901.9 277.6L902.2 278.6L902.5 278.8L902.8 276.9L903.1 277.8L903.4 277.4L903.7 276.4L904 276.6L904.3 277.3L904.6 277.9L904.9 276.3L905.2 276.6L905.5 276.6L905.9 276.5L906.2 275.9L906.5 277.5L906.8 276.7L907.1 277.3L907.4 277.5L907.7 276.6L908 276.1L908.3 276.3L908.6 276.3L908.9 276.1L909.2 276.4L909.5 275.5L909.9 276.5L910.2 276.4L910.5 277L910.8 277.1L911.1 278L911.4 277.7L911.7 277.1L912 276.7L912.3 276.8L912.6 276.7L912.9 275.8L913.2 276.2L913.5 275.7L913.9 276.7L914.2 275.4L914.5 275.5L914.8 275.2L915.1 277.6L915.4 275.5L915.7 276.3L916 274.3L916.3 275.2L916.6 274.1L916.9 275.2L917.2 274.3L917.5 273.4L917.9 274.6L918.2 273.8L918.5 272.3L918.8 273L919.1 272.4L919.4 273.9L919.7 272.9L920 273.2L920.3 272.1L920.6 274L920.9 272.8L921.2 273.6L921.5 273.2L921.9 272.8L922.2 271.4L922.5 272.2L922.8 272.1L923.1 270.8L923.4 272.3L923.7 270.3L924 270.5L924.3 270.3L924.6 271.8L924.9 270.4L925.2 270.3L925.5 270.6L925.9 270.3L926.2 270.9L926.5 269.6L926.8 269L927.1 268.8L927.4 269.2L927.7 270.3L928 270.2L928.3 269.5L928.6 269.6L928.9 267.6L929.2 270L929.5 269.9L929.9 268.1L930.2 269.3L930.5 269.6L930.8 270.6L931.1 270L931.4 270.5L931.7 270.9L932 270.5L932.3 269.3L932.6 268.6L932.9 269.3L933.2 270.5L933.5 270.6L933.9 269.4L934.2 271.6L934.5 271L934.8 271.9L935.1 273.4L935.4 273.2L935.7 273L936 273.3L936.3 274.2L936.6 274.5L936.9 274.1L937.2 273.9L937.5 274.8L937.9 275L938.2 273.4L938.5 274.8L938.8 273.5L939.1 273.9L939.4 274.9L939.7 273.4L940 274.2L940.3 275.8L940.6 276L940.9 275L941.2 275.2L941.5 277.1L941.8 276.5L942.2 276.6L942.5 275.3L942.8 276.4L943.1 275L943.4 275.7L943.7 277.1L944 276.4L944.3 276.5L944.6 275.4L944.9 275.9L945.2 275.7L945.5 277.5L945.8 275.8L946.2 275.3L946.5 276.2L946.8 277.3L947.1 276.4L947.4 276.8L947.7 276L948 276.7L948.3 276.2L948.6 276.6L948.9 277.3L949.2 278L949.5 279.3L949.8 278.1L950.2 276.9L950.5 276.6L950.8 276.3L951.1 277.3L951.4 276.5L951.7 277.1L952 276.3L952.3 278.2L952.6 277.2L952.9 278L953.2 277.4L953.5 279.1L953.8 276.5L954.2 278.1L954.5 278.7L954.8 277.9L955.1 278.4L955.4 277.5L955.7 278.4L956 277.7L956.3 279.3L956.6 276.9L956.9 278.6L957.2 277.8L957.5 277.7L957.8 278.2L958.2 277.3L958.5 277.3L958.8 277.8L959.1 276.2L959.4 276.9L959.7 277.7L960 276.3L960.3 278L960.6 276.4L960.9 277.3L961.2 277.4L961.5 276.5L961.8 278.3L962.2 276.6L962.5 278.9L962.8 279L963.1 277.4L963.4 278.1L963.7 278.2L964 276.9L964.3 277.3L964.6 277.7L964.9 278L965.2 278.9L965.5 277.5L965.8 277.4L966.2 278.2L966.5 278.2L966.8 277.6L967.1 277.8L967.4 277.1L967.7 277.4L968 275.7L968.3 275.8L968.6 277.8L968.9 276.9L969.2 276.4L969.5 278L969.8 279.2L970.2 278.5L970.5 278.1L970.8 277.9L971.1 279.3L971.4 279.3L971.7 278L972 277.6L972.3 277.9L972.6 278.1L972.9 277.6L973.2 277.5L973.5 277.3L973.8 276.6L974.2 277.8L974.5 278.3L974.8 277.6L975.1 277.7L975.4 279.4L975.7 278L976 278.5L976.3 277.8L976.6 277.2L976.9 278.4L977.2 278.6L977.5 278L977.8 278L978.2 279.1L978.5 278L978.8 278L979.1 278.5L979.4 278.8L979.7 278.6L980 279.2L980.3 279.5L980.6 277.6L980.9 278L981.2 277.9L981.5 278.2L981.8 276.8L982.2 278.9L982.5 277.1L982.8 278.5L983.1 277.9L983.4 277.8L983.7 278.7L984 277.2L984.3 278.7L984.6 277.9L984.9 277.2L985.2 279L985.5 277L985.8 278.3L986.1 277.4L986.5 277L986.8 278.5L987.1 277.8L987.4 277.4L987.7 278L988 277.1L988.3 278.6L988.6 277.2L988.9 278L989.2 277.6L989.5 278.2L989.8 276.9L990.1 277.6L990.5 278.4L990.8 276.8L991.1 277.5L991.4 278.1L991.7 277.7L992 277.8L992.3 279L992.6 279.1L992.9 277.2L993.2 277.3L993.5 275.8L993.8 277.9L994.1 277.9L994.5 276.8L994.8 276.4L995.1 277.3L995.4 276.5L995.7 278.5L996 278.3L996.3 276L996.6 277.5L996.9 277.6L997.2 277.9L997.5 277.3L997.8 276.1L998.1 277L998.5 276.7L998.8 278.3L999.1 277.5L999.4 278.4L999.7 276.7L1000 277.5L1000.3 277.4L1000.6 276.9L1000.9 277.6L1001.2 276.4L1001.5 277.8L1001.8 277L1002.1 277.5L1002.5 277.9L1002.8 277L1003.1 276.7L1003.4 277.8L1003.7 277.7L1004 277.2L1004.3 278.1"/>
<path class="cv" stroke="#ff00ff" d="M81.7 355.4L82 351.8L82.3 356.6L82.6 354.2L82.9 353.4L83.2 352L83.5 355.8L83.9 351.5L84.2 355.2L84.5 352.8L84.8 354.5L85.1 353L85.4 354.8L85.7 355.2L86 352.7L86.3 356.8L86.6 356.2L86.9 357.4L87.2 358L87.5 353L87.9 360.5L88.2 352.9L88.5 355.3L88.8 356.2L89.1 358.2L89.4 357.7L89.7 356.3L90 357L90.3 352.4L90.6 354.1L90.9 359.5L91.2 349.8L91.5 353.8L91.9 353.7L92.2 352.1L92.5 353.6L92.8 353.6L93.1 353.6L93.4 354.1L93.7 352L94 355L94.3 353.6L94.6 353.2L94.9 359.8L95.2 354.7L95.5 355L95.9 351.5L96.2 356.2L96.5 353.6L96.8 353.9L97.1 356.8L97.4 356.4L97.7 352.7L98 355.3L98.3 355.2L98.6 354.6L98.9 353.3L99.2 355.6L99.5 352.1L99.9 355.9L100.2 355.2L100.5 353.9L100.8 353.9L101.1 360.5L101.4 351.2L101.7 355L102 355.4L102.3 356.7L102.6 356.1L102.9 356.7L103.2 355.9L103.5 355.3L103.8 352.9L104.2 355.8L104.5 356.8L104.8 355.4L105.1 356.7L105.4 353.9L105.7 352.5L106 353.8L106.3 354.1L106.6 356.2L106.9 355.9L107.2 356.1L107.5 353.3L107.8 354.8L108.2 356.9L108.5 356.2L108.8 357.2L109.1 353.6L109.4 355.4L109.7 349L110 353.2L110.3 354.2L110.6 354.3L110.9 356.5L111.2 355L111.5 354.6L111.8 355.9L112.2 353.8L112.5 358.1L112.8 354L113.1 355.4L113.4 354.1L113.7 352.5L114 353L114.3 354.3L114.6 352.7L114.9 357.5L115.2 351.7L115.5 353.3L115.8 355.5L116.2 353.8L116.5 355.3L116.8 350.4L117.1 352.6L117.4 353.8L117.7 355.7L118 351.9L118.3 353.9L118.6 358L118.9 355.4L119.2 355L119.5 354L119.8 355.6L120.2 349.6L120.5 351.4L120.8 352.2L121.1 353.4L121.4 352.8L121.7 349.8L122 353.7L122.3 351.9L122.6 358.8L122.9 353.6L123.2 356.3L123.5 353.5L123.8 353.9L124.2 353.3L124.5 356.1L124.8 357.3L125.1 352.8L125.4 356.1L125.7 356.3L126 357L126.3 353.6L126.6 356.6L126.9 351.8L127.2 354L127.5 352.4L127.8 352.8L128.2 355L128.5 354.4L128.8 358.6L129.1 353.3L129.4 352L129.7 355.1L130 354.3L130.3 353.3L130.6 356L130.9 356.3L131.2 350.7L131.5 352.8L131.8 355.2L132.2 352.5L132.5 357.3L132.8 353.1L133.1 354.7L133.4 354.7L133.7 352.3L134 354.1L134.3 353.4L134.6 354.4L134.9 355.9L135.2 354.7L135.5 353.2L135.8 353.7L136.2 356L136.5 354.2L136.8 353.5L137.1 355.7L137.4 352.8L137.7 352.7L138 358L138.3 352.9L138.6 354.9L138.9 354.7L139.2 353.1L139.5 356.8L139.8 356.2L140.2 353.6L140.5 349.8L140.8 354L141.1 349.9L141.4 354.2L141.7 355.6L142 354.1L142.3 356.2L142.6 354.5L142.9 352.3L143.2 352.8L143.5 354.4L143.8 348.3L144.2 351.8L144.5 348.1L144.8 354.8L145.1 347.4L145.4 346.3L145.7 352.4L146 352.4L146.3 348.9L146.6 349.3L146.9 347L147.2 348.9L147.5 350.5L147.8 349.4L148.1 346.9L148.5 345.1L148.8 347.9L149.1 349.2L149.4 348.1L149.7 342L150 344.9L150.3 342.3L150.6 342.8L150.9 344.5L151.2 348.1L151.5 342.6L151.8 342L152.1 341L152.5 342.6L152.8 336.5L153.1 339.9L153.4 338.8L153.7 333.2L154 338.4L154.3 338.6L154.6 329.5L154.9 329.6L155.2 325.1L155.5 322.5L155.8 323.2L156.1 319.9L156.5 312.9L156.8 308.1L157.1 308.5L157.4 299.1L157.7 295.7L158 292.9L158.3 286.5L158.6 283.3L158.9 281.4L159.2 264.9L159.5 266.6L159.8 249.6L160.1 248.1L160.5 244.5L160.8 241.7L161.1 221.2L161.4 231.1L161.7 224.8L162 229.8L162.3 237.9L162.6 250.2L162.9 259L163.2 259.7L163.5 265L163.8 270.5L164.1 273.4L164.5 281.8L164.8 295L165.1 292.8L165.4 297.9L165.7 304.7L166 307.4L166.3 309.8L166.6 313.3L166.9 316.7L167.2 325.3L167.5 326L167.8 327.1L168.1 328L168.5 331.3L168.8 334.2L169.1 334.3L169.4 335.1L169.7 340.1L170 339L170.3 339.6L170.6 341.8L170.9 343.2L171.2 343.2L171.5 349.5L171.8 347.2L172.1 348.1L172.5 350.3L172.8 351.5L173.1 349.9L173.4 345.3L173.7 348L174 349.7L174.3 350.2L174.6 352.6L174.9 351.1L175.2 349.8L175.5 352.2L175.8 350.2L176.1 354.1L176.5 349.6L176.8 355.7L177.1 352.8L177.4 355.3L177.7 353.9L178 352.1L178.3 354.3L178.6 354.9L178.9 355.6L179.2 356L179.5 356.5L179.8 354.8L180.1 352.9L180.5 354.8L180.8 353.7L181.1 356.1L181.4 356.3L181.7 357L182 355.9L182.3 357.6L182.6 357.8L182.9 358.5L183.2 358.3L183.5 359L183.8 359.3L184.1 357.7L184.5 354.2L184.8 357.2L185.1 360.9L185.4 355.5L185.7 359L186 357.4L186.3 360.7L186.6 358.6L186.9 358.2L187.2 358.5L187.5 355.5L187.8 361.7L188.1 359.5L188.4 357.5L188.8 358.8L189.1 360.7L189.4 359.7L189.7 359.3L190 362.3L190.3 361.4L190.6 362.4L190.9 363L191.2 360L191.5 363.4L191.8 362.4L192.1 359.3L192.4 359L192.8 360.4L193.1 360.9L193.4 359.4L193.7 360.2L194 360.6L194.3 360.6L194.6 362L194.9 363.5L195.2 364.3L195.5 360.6L195.8 361.6L196.1 360.7L196.4 361.9L196.8 361.8L197.1 364.6L197.4 363.8L197.7 361.8L198 365.1L198.3 362.2L198.6 363.2L198.9 363.7L199.2 362.2L199.5 361.2L199.8 362.6L200.1 363.2L200.4 361.9L200.8 364.6L201.1 363L201.4 361.8L201.7 363.5L202 362.2L202.3 363L202.6 363.4L202.9 363.6L203.2 365.2L203.5 363.6L203.8 364.4L204.1 363.1L204.4 361.3L204.8 363.3L205.1 364.2L205.4 360.5L205.7 364.7L206 364.9L206.3 365.3L206.6 363.9L206.9 365.3L207.2 364L207.5 363.2L207.8 365L208.1 362.7L208.4 365.9L208.8 362.3L209.1 366.3L209.4 364.3L209.7 363.9L210 363.3L210.3 364.9L210.6 365.1L210.9 363L211.2 363L211.5 365.1L211.8 362.9L212.1 365.7L212.4 365.8L212.8 363.8L213.1 367.9L213.4 363.6L213.7 362.3L214 366.1L214.3 364.6L214.6 364L214.9 363.7L215.2 366.8L215.5 366.7L215.8 364.8L216.1 363.4L216.4 363.9L216.8 365.7L217.1 364.3L217.4 364.1L217.7 364.9L218 366.4L218.3 364.3L218.6 364.7L218.9 362.1L219.2 365L219.5 362.8L219.8 364.3L220.1 365.4L220.4 364.3L220.8 365.1L221.1 361.4L221.4 363.7L221.7 364.6L222 364L222.3 364.4L222.6 363.1L222.9 365L223.2 363.3L223.5 363.7L223.8 365.8L224.1 366.3L224.4 366.2L224.8 364L225.1 365.4L225.4 365.1L225.7 366L226 368.6L226.3 368.1L226.6 365L226.9 367.2L227.2 366.7L227.5 365.2L227.8 364.9L228.1 367.5L228.4 366.2L228.7 365.5L229.1 364.5L229.4 361.1L229.7 365.9L230 366.8L230.3 368.4L230.6 369.1L230.9 364.3L231.2 365.4L231.5 364.7L231.8 366.2L232.1 364L232.4 366L232.7 366.8L233.1 366.7L233.4 366.4L233.7 367L234 365.1L234.3 365.7L234.6 366.1L234.9 366L235.2 367L235.5 367.9L235.8 366.3L236.1 364.6L236.4 365L236.7 368.3L237.1 368.1L237.4 368.3L237.7 364.1L238 368.8L238.3 371.2L238.6 367.2L238.9 366.9L239.2 368.5L239.5 365.1L239.8 364.4L240.1 367.1L240.4 364.4L240.7 366.5L241.1 365L241.4 365.5L241.7 364.3L242 366.5L242.3 366.5L242.6 366.7L242.9 366.8L243.2 366.7L243.5 368.3L243.8 368.1L244.1 368.4L244.4 366.2L244.7 368.4L245.1 365.4L245.4 369.3L245.7 369.9L246 369.4L246.3 368.9L246.6 368.7L246.9 367.8L247.2 367.1L247.5 369L247.8 369L248.1 367.2L248.4 365.7L248.7 366.7L249.1 366.8L249.4 366.7L249.7 365.5L250 365.7L250.3 367.7L250.6 370.4L250.9 366.2L251.2 367.8L251.5 367.3L251.8 367.8L252.1 367.8L252.4 369L252.7 367.7L253.1 367.2L253.4 368.1L253.7 368L254 369.3L254.3 369L254.6 369.1L254.9 367.9L255.2 367.6L255.5 367.5L255.8 367.8L256.1 369.6L256.4 370.1L256.7 367.6L257.1 368.4L257.4 368.9L257.7 371.2L258 368.2L258.3 369.5L258.6 366.1L258.9 369.8L259.2 367.9L259.5 369.1L259.8 369.8L260.1 366.6L260.4 365.8L260.7 368.8L261.1 368L261.4 369.8L261.7 370.6L262 367.3L262.3 367L262.6 367.8L262.9 366.5L263.2 368L263.5 370.7L263.8 367.6L264.1 366.6L264.4 368.7L264.7 369.9L265.1 366.6L265.4 369.3L265.7 369.5L266 369.9L266.3 368.3L266.6 369L266.9 368.2L267.2 372.3L267.5 370.3L267.8 370.5L268.1 370.4L268.4 369.1L268.7 370.2L269.1 369.4L269.4 371.3L269.7 369.4L270 370.8L270.3 366.8L270.6 367.9L270.9 367.8L271.2 366.8L271.5 368.6L271.8 368.4L272.1 368.1L272.4 370.2L272.7 368.4L273 369.6L273.4 367.7L273.7 369.5L274 368.6L274.3 368.9L274.6 371.4L274.9 370.8L275.2 369.2L275.5 369.5L275.8 371.6L276.1 369.6L276.4 370.7L276.7 372.6L277 372.1L277.4 370.2L277.7 370L278 370.3L278.3 369.3L278.6 369.3L278.9 370.5L279.2 369.5L279.5 369.3L279.8 369L280.1 370.3L280.4 368.3L280.7 369.2L281 367.3L281.4 368.3L281.7 368.9L282 368.3L282.3 369.4L282.6 368.8L282.9 368.3L283.2 370.8L283.5 370.7L283.8 370L284.1 371L284.4 372.2L284.7 369.2L285 368.8L285.4 372.2L285.7 370.5L286 370.7L286.3 368.4L286.6 370.7L286.9 371.1L287.2 369.2L287.5 371.5L287.8 369.9L288.1 370.3L288.4 371.7L288.7 371.4L289 369.8L289.4 371.7L289.7 369.1L290 370.8L290.3 367.7L290.6 369.7L290.9 369L291.2 368.1L291.5 369.6L291.8 369.7L292.1 370L292.4 371L292.7 369.5L293 369.9L293.4 371L293.7 370.1L294 371L294.3 369.5L294.6 371.6L294.9 369.5L295.2 371.8L295.5 372.1L295.8 370.3L296.1 372.2L296.4 373.7L296.7 371.6L297 372.5L297.4 371.4L297.7 373.5L298 372.8L298.3 374L298.6 373.2L298.9 371.6L299.2 370.4L299.5 372L299.8 372.4L300.1 370.3L300.4 371.6L300.7 370.7L301 369.9L301.4 369.3L301.7 370.5L302 371.9L302.3 370L302.6 370.5L302.9 371.1L303.2 371.1L303.5 370.6L303.8 371.6L304.1 372.4L304.4 371.5L304.7 370.3L305 371.8L305.4 371.7L305.7 372.2L306 370.5L306.3 372.9L306.6 371.9L306.9 373.7L307.2 371.7L307.5 371L307.8 370.9L308.1 371.4L308.4 371.1L308.7 371.6L309 368.9L309.4 369.3L309.7 369.9L310 367.5L310.3 369.8L310.6 371.4L310.9 370.5L311.2 371.4L311.5 370.7L311.8 371L312.1 369.7L312.4 372L312.7 371.9L313 371.5L313.3 372.7L313.7 371.6L314 370.4L314.3 367.8L314.6 369L314.9 371.5L315.2 372.1L315.5 370.2L315.8 371.3L316.1 369.9L316.4 370.2L316.7 370L317 371L317.3 370.9L317.7 371.4L318 370.2L318.3 372.9L318.6 371.6L318.9 368.7L319.2 369L319.5 373.4L319.8 369.2L320.1 371.1L320.4 369.1L320.7 373.2L321 368.3L321.3 371.9L321.7 370.5L322 369.3L322.3 369.1L322.6 368.6L322.9 367.2L323.2 370.7L323.5 372.4L323.8 369.4L324.1 370.2L324.4 370.5L324.7 368.1L325 369.2L325.3 368.1L325.7 370.9L326 368.9L326.3 371.7L326.6 371.3L326.9 369.6L327.2 371.5L327.5 370.8L327.8 370.1L328.1 370.5L328.4 370.8L328.7 368.2L329 371.3L329.3 369.3L329.7 368.8L330 370.3L330.3 368.3L330.6 371.2L330.9 370.3L331.2 369L331.5 370.7L331.8 371.2L332.1 368.8L332.4 366.9L332.7 366.9L333 368.1L333.3 369.5L333.7 369.1L334 368.1L334.3 370.6L334.6 367.7L334.9 369.1L335.2 367L335.5 367.7L335.8 368.3L336.1 368.6L336.4 364.7L336.7 368.6L337 365.1L337.3 367.5L337.7 365.3L338 363.2L338.3 363.6L338.6 366.6L338.9 364.6L339.2 363.7L339.5 361.9L339.8 362.2L340.1 364.5L340.4 364.6L340.7 365.5L341 363.1L341.3 361.9L341.7 360.4L342 363.5L342.3 361.5L342.6 360.3L342.9 361.5L343.2 361.5L343.5 363.1L343.8 361.7L344.1 363.8L344.4 363.2L344.7 362.6L345 359.3L345.3 359.1L345.7 362.2L346 363L346.3 364.1L346.6 359.8L346.9 362.9L347.2 363.1L347.5 362.8L347.8 361.8L348.1 361.6L348.4 361.8L348.7 362.5L349 363.5L349.3 360.7L349.7 361L350 360.3L350.3 361.7L350.6 358L350.9 362.6L351.2 359.8L351.5 357.7L351.8 358.3L352.1 357.1L352.4 355.3L352.7 354.8L353 358.3L353.3 358.3L353.7 350.9L354 353.8L354.3 353.3L354.6 350.1L354.9 351.1L355.2 350.7L355.5 351.2L355.8 348.3L356.1 348.4L356.4 351.4L356.7 351.3L357 351.7L357.3 352.4L357.6 351L358 354.1L358.3 353.4L358.6 355.5L358.9 354.4L359.2 356.5L359.5 355.6L359.8 358.9L360.1 357.1L360.4 358.1L360.7 356.7L361 359.9L361.3 359.8L361.6 361.2L362 358.4L362.3 360.3L362.6 360L362.9 360.1L363.2 360.8L363.5 359.9L363.8 362.3L364.1 359.3L364.4 359.8L364.7 359.7L365 361.1L365.3 359L365.6 358.2L366 360.6L366.3 362.2L366.6 360L366.9 361.9L367.2 361.6L367.5 362.7L367.8 363.9L368.1 361.7L368.4 366.7L368.7 364.9L369 366.7L369.3 366.9L369.6 364.8L370 367.9L370.3 365.9L370.6 366L370.9 367.5L371.2 369.5L371.5 369.3L371.8 364.8L372.1 367.2L372.4 367.8L372.7 367.2L373 367.1L373.3 367.5L373.6 367.1L374 370.4L374.3 368.8L374.6 367.5L374.9 368.7L375.2 370.1L375.5 367.9L375.8 369.2L376.1 366L376.4 367.9L376.7 371.4L377 368.5L377.3 367L377.6 370.5L378 368.4L378.3 369.9L378.6 368.9L378.9 367.1L379.2 370.5L379.5 368.5L379.8 367L380.1 369.9L380.4 368.7L380.7 371.6L381 370.6L381.3 370.2L381.6 368.6L382 368.5L382.3 370.3L382.6 368.8L382.9 371.2L383.2 372.8L383.5 371.8L383.8 372.9L384.1 371.6L384.4 370.6L384.7 369.3L385 368.9L385.3 369.1L385.6 368.6L386 369.9L386.3 368.5L386.6 367.8L386.9 367.9L387.2 368L387.5 368.3L387.8 371.3L388.1 370.9L388.4 370.3L388.7 370.5L389 369.5L389.3 368.8L389.6 368.3L390 369.9L390.3 370.7L390.6 371.3L390.9 369.4L391.2 370.7L391.5 368.8L391.8 370.6L392.1 370L392.4 371L392.7 368.6L393 370.4L393.3 369.9L393.6 369L394 370.5L394.3 370.4L394.6 370.6L394.9 371.2L395.2 368.1L395.5 370L395.8 367.2L396.1 369.2L396.4 368.3L396.7 369L397 369.8L397.3 370.2L397.6 370.1L397.9 370.3L398.3 370.3L398.6 369.2L398.9 369.7L399.2 368.9L399.5 367.8L399.8 370L400.1 368.8L400.4 367.3L400.7 368L401 370.7L401.3 370L401.6 369.8L401.9 370.1L402.3 369.5L402.6 369.7L402.9 368.7L403.2 370.4L403.5 371.1L403.8 368.5L404.1 369L404.4 369.9L404.7 370.2L405 370.7L405.3 369.4L405.6 370.1L405.9 369.4L406.3 370.6L406.6 368.9L406.9 370.1L407.2 368.7L407.5 372.2L407.8 368.3L408.1 369.5L408.4 370.3L408.7 368.9L409 369.4L409.3 367.8L409.6 370L409.9 370.4L410.3 370L410.6 368.5L410.9 370.2L411.2 369.8L411.5 369.5L411.8 368.9L412.1 370.5L412.4 370.2L412.7 368.8L413 368.6L413.3 369.3L413.6 368.1L413.9 370.5L414.3 370.1L414.6 370.5L414.9 368.8L415.2 372L415.5 369.6L415.8 370.8L416.1 370L416.4 370.6L416.7 368.4L417 370.6L417.3 368.3L417.6 367.2L417.9 368.9L418.3 370.3L418.6 370L418.9 369.7L419.2 368.6L419.5 370.9L419.8 370L420.1 369.4L420.4 370.6L420.7 369.2L421 369.2L421.3 369.9L421.6 370L421.9 368L422.3 370.6L422.6 368L422.9 368.9L423.2 368.2L423.5 368L423.8 368L424.1 367.4L424.4 368L424.7 368.7L425 367.4L425.3 369.4L425.6 369.4L425.9 368.3L426.3 369.1L426.6 369.1L426.9 369.6L427.2 368.6L427.5 367.9L427.8 367.8L428.1 368.3L428.4 368.1L428.7 368.8L429 367.8L429.3 367.9L429.6 368.3L429.9 370.2L430.3 371.1L430.6 367L430.9 366.4L431.2 366.6L431.5 368.1L431.8 368.4L432.1 368.8L432.4 368L432.7 368.6L433 369.2L433.3 372L433.6 369.3L433.9 369.8L434.3 369L434.6 369L434.9 368.7L435.2 371.4L435.5 368L435.8 368.7L436.1 368.1L436.4 369.2L436.7 368.9L437 367.6L437.3 369.1L437.6 369.1L437.9 368.3L438.2 367.7L438.6 368.5L438.9 367.9L439.2 368.1L439.5 368.1L439.8 367.5L440.1 367.9L440.4 368.2L440.7 367.6L441 369L441.3 367.3L441.6 368.8L441.9 367.1L442.2 366.7L442.6 367.1L442.9 367L443.2 367.5L443.5 365.8L443.8 365.9L444.1 367L444.4 368.7L444.7 366L445 368.5L445.3 369.5L445.6 366.8L445.9 369.3L446.2 368L446.6 367.5L446.9 367.8L447.2 368L447.5 368L447.8 368.8L448.1 368.5L448.4 370.7L448.7 369.8L449 368.4L449.3 368.3L449.6 369.2L449.9 370.9L450.2 369.3L450.6 368.4L450.9 369.3L451.2 366.5L451.5 366.8L451.8 368.9L452.1 367.6L452.4 368.6L452.7 367.9L453 368.5L453.3 369L453.6 368.4L453.9 367.8L454.2 369L454.6 367.9L454.9 368L455.2 367.6L455.5 367.3L455.8 366.8L456.1 369.1L456.4 365.8L456.7 367.1L457 366.6L457.3 366.5L457.6 367.1L457.9 369.6L458.2 368.5L458.6 366.8L458.9 365.3L459.2 367.3L459.5 367.4L459.8 367.1L460.1 368.8L460.4 367.5L460.7 367.2L461 369.5L461.3 368.5L461.6 367.5L461.9 369.5L462.2 368.1L462.6 367.1L462.9 367.4L463.2 367.3L463.5 367.2L463.8 366.5L464.1 367.4L464.4 366.7L464.7 366.5L465 368.4L465.3 368.7L465.6 367.8L465.9 367.3L466.2 368.7L466.6 367.9L466.9 367.7L467.2 367.9L467.5 369.1L467.8 370.8L468.1 369.3L468.4 368.3L468.7 367.7L469 368.7L469.3 369.2L469.6 367.8L469.9 369.1L470.2 369.2L470.6 368L470.9 368.2L471.2 367.1L471.5 366.5L471.8 368L472.1 368.1L472.4 367.8L472.7 367.8L473 369.5L473.3 368.4L473.6 371L473.9 369.3L474.2 369.8L474.6 368.3L474.9 368.5L475.2 368.3L475.5 368.1L475.8 370L476.1 369.7L476.4 368.3L476.7 369.1L477 369.1L477.3 368.4L477.6 369.3L477.9 368.4L478.2 369.5L478.6 370.4L478.9 369.5L479.2 370.6L479.5 370.1L479.8 368.3L480.1 369.7L480.4 369.2L480.7 368.7L481 367.8L481.3 369.7L481.6 368L481.9 369.5L482.2 369.6L482.5 369.9L482.9 368.5L483.2 370.2L483.5 368.4L483.8 370.8L484.1 369.5L484.4 369.2L484.7 369.9L485 370.1L485.3 368.9L485.6 369.9L485.9 369.3L486.2 369.6L486.5 368.7L486.9 369.6L487.2 370.2L487.5 368.4L487.8 368.8L488.1 369.1L488.4 368.3L488.7 368.5L489 365.8L489.3 365.9L489.6 366.6L489.9 367.5L490.2 365.7L490.5 367.5L490.9 366L491.2 368.6L491.5 366L491.8 368.6L492.1 366.9L492.4 367.3L492.7 367.1L493 367.8L493.3 370.3L493.6 368.6L493.9 367.5L494.2 367.6L494.5 368.8L494.9 366.4L495.2 367.6L495.5 367.5L495.8 366.8L496.1 366.9L496.4 366.5L496.7 366.6L497 365.9L497.3 366.7L497.6 365.2L497.9 366L498.2 365.6L498.5 364.8L498.9 364.9L499.2 366.5L499.5 363.2L499.8 362.5L500.1 365.3L500.4 365.5L500.7 365.7L501 365.8L501.3 364.3L501.6 364.3L501.9 363.6L502.2 364L502.5 365.4L502.9 363.9L503.2 362L503.5 360.9L503.8 363.5L504.1 360.7L504.4 360.6L504.7 360.3L505 362.9L505.3 359.9L505.6 359.1L505.9 360.3L506.2 359.2L506.5 356L506.9 356.9L507.2 354.1L507.5 356L507.8 356.3L508.1 354.8L508.4 356.5L508.7 350L509 353.8L509.3 350.2L509.6 349.9L509.9 347.9L510.2 347.6L510.5 346.8L510.9 343.8L511.2 344.3L511.5 343.8L511.8 343.6L512.1 345.6L512.4 345.2L512.7 346.7L513 346.4L513.3 347.6L513.6 350.9L513.9 349.8L514.2 348L514.5 348.7L514.9 351.1L515.2 352.4L515.5 351.1L515.8 351.2L516.1 353.3L516.4 355.8L516.7 355.6L517 355.7L517.3 357.4L517.6 357.8L517.9 359.9L518.2 358.2L518.5 360.1L518.9 361.6L519.2 361.1L519.5 362.3L519.8 362.8L520.1 363.6L520.4 361.4L520.7 360.7L521 361.2L521.3 363.1L521.6 361.5L521.9 364.7L522.2 363.3L522.5 362.8L522.8 363.2L523.2 364.3L523.5 363.6L523.8 364.4L524.1 363.6L524.4 364.5L524.7 365.3L525 363.2L525.3 364.7L525.6 363.4L525.9 365.2L526.2 367.3L526.5 366.6L526.8 367.6L527.2 366.3L527.5 365.5L527.8 367L528.1 368.3L528.4 366.5L528.7 365.9L529 365L529.3 367.1L529.6 368.5L529.9 366.2L530.2 367.2L530.5 367.9L530.8 369.6L531.2 368.5L531.5 370.5L531.8 368.8L532.1 369.4L532.4 369.6L532.7 369.3L533 369.4L533.3 368.9L533.6 369.2L533.9 368.7L534.2 368.8L534.5 368.6L534.8 369.7L535.2 370.2L535.5 368.2L535.8 370.9L536.1 372.1L536.4 370L536.7 370.7L537 371.6L537.3 370.9L537.6 370.6L537.9 371.7L538.2 370.1L538.5 370.6L538.8 371L539.2 369.2L539.5 370.2L539.8 368.6L540.1 369.2L540.4 370.1L540.7 369.6L541 369.2L541.3 369.1L541.6 368.8L541.9 370.2L542.2 371.4L542.5 369.6L542.8 368.2L543.2 369.6L543.5 369.6L543.8 371.2L544.1 371.1L544.4 369.8L544.7 370.9L545 369.3L545.3 370.9L545.6 371.8L545.9 369.3L546.2 371.1L546.5 370.1L546.8 369.9L547.2 370.9L547.5 371.3L547.8 370.2L548.1 370.4L548.4 370.6L548.7 371.7L549 373.1L549.3 372.5L549.6 369.9L549.9 372.1L550.2 369.9L550.5 373.1L550.8 372.7L551.2 373.2L551.5 372.7L551.8 371.9L552.1 371L552.4 372.4L552.7 370.9L553 371.8L553.3 370.4L553.6 370.8L553.9 372.3L554.2 371.6L554.5 371.7L554.8 373.1L555.2 370.2L555.5 370.8L555.8 371.8L556.1 373L556.4 372.1L556.7 371.6L557 370.7L557.3 371.4L557.6 370.2L557.9 369.1L558.2 369.8L558.5 372.4L558.8 370.6L559.2 370.7L559.5 371.2L559.8 371.5L560.1 370.9L560.4 371.1L560.7 370.1L561 372.9L561.3 371.5L561.6 371.6L561.9 371.6L562.2 371L562.5 372.9L562.8 373.7L563.2 370.9L563.5 371.9L563.8 373.7L564.1 372L564.4 370.4L564.7 370L565 372.5L565.3 371.7L565.6 373.1L565.9 370.8L566.2 372.7L566.5 371.8L566.8 370.4L567.1 372.8L567.5 372.2L567.8 370.5L568.1 372L568.4 371L568.7 371.5L569 371.7L569.3 371.3L569.6 372.1L569.9 371.4L570.2 371.5L570.5 372L570.8 372.7L571.1 373L571.5 371.9L571.8 372.3L572.1 371.8L572.4 371.2L572.7 372.9L573 374.2L573.3 372.7L573.6 372.6L573.9 371.2L574.2 372.2L574.5 373.7L574.8 372L575.1 371.8L575.5 371.3L575.8 373.4L576.1 373.1L576.4 372.9L576.7 373.9L577 372L577.3 371.6L577.6 372.1L577.9 372.6L578.2 373L578.5 370.5L578.8 370.2L579.1 372.8L579.5 372.2L579.8 372.6L580.1 372.9L580.4 370.1L580.7 372.3L581 371.9L581.3 371.6L581.6 371.4L581.9 374.5L582.2 371.8L582.5 370.9L582.8 372.7L583.1 372.1L583.5 372.7L583.8 371.2L584.1 372.4L584.4 370.4L584.7 372.3L585 370.5L585.3 371.2L585.6 370.2L585.9 370.2L586.2 371.1L586.5 370.7L586.8 370.1L587.1 373.1L587.5 371.4L587.8 370.4L588.1 369.4L588.4 371L588.7 371.1L589 368.5L589.3 370L589.6 370.4L589.9 369.7L590.2 369.7L590.5 371.2L590.8 369L591.1 368.4L591.5 369.4L591.8 370.1L592.1 370.9L592.4 370.9L592.7 368.6L593 369.6L593.3 368.7L593.6 368.5L593.9 369.6L594.2 367.7L594.5 368.6L594.8 368.1L595.1 368.6L595.5 366.6L595.8 365.1L596.1 368.6L596.4 369.6L596.7 368.5L597 367L597.3 366.4L597.6 365.4L597.9 364.9L598.2 366.7L598.5 364.1L598.8 364.2L599.1 362.1L599.5 362.4L599.8 359.3L600.1 359.5L600.4 359L600.7 360.1L601 360.2L601.3 358.4L601.6 358.6L601.9 357.2L602.2 356.8L602.5 355.9L602.8 358.3L603.1 355.9L603.5 355.8L603.8 356.9L604.1 357.1L604.4 357.5L604.7 357.2L605 360.6L605.3 359.2L605.6 360.2L605.9 360.1L606.2 359.6L606.5 360.8L606.8 360.6L607.1 361.9L607.4 362.2L607.8 360.7L608.1 362.2L608.4 361.4L608.7 363L609 361.8L609.3 362.2L609.6 361.9L609.9 361.5L610.2 362.3L610.5 362.6L610.8 362.9L611.1 365.1L611.4 364.1L611.8 362.9L612.1 364.4L612.4 363.3L612.7 362.4L613 362.5L613.3 364.3L613.6 361.8L613.9 362.5L614.2 362.3L614.5 362.4L614.8 363.8L615.1 362.9L615.4 363.4L615.8 361.9L616.1 362.8L616.4 360.8L616.7 362.2L617 360.9L617.3 362.2L617.6 362.5L617.9 359.7L618.2 360.2L618.5 361.4L618.8 361.1L619.1 359L619.4 359.5L619.8 360.1L620.1 361.4L620.4 358.8L620.7 358.6L621 359.9L621.3 359.1L621.6 358.8L621.9 360L622.2 359.7L622.5 361.5L622.8 358.9L623.1 361.1L623.4 361.8L623.8 362.2L624.1 359.7L624.4 362.7L624.7 361.4L625 364.6L625.3 364.8L625.6 364.1L625.9 363.6L626.2 365.5L626.5 365.3L626.8 362.9L627.1 366.4L627.4 365.5L627.8 364.7L628.1 366.9L628.4 364.9L628.7 367.1L629 368.6L629.3 368.9L629.6 368.2L629.9 367.4L630.2 369.2L630.5 369.2L630.8 370.6L631.1 368.3L631.4 369.7L631.8 369.4L632.1 369.5L632.4 369.8L632.7 370L633 369L633.3 370L633.6 370.5L633.9 368.3L634.2 370L634.5 369.6L634.8 369.9L635.1 370.7L635.4 369.6L635.8 369.2L636.1 371.8L636.4 370.5L636.7 369.2L637 371.5L637.3 371.4L637.6 370.2L637.9 371.4L638.2 371.6L638.5 370.1L638.8 371.5L639.1 371.1L639.4 371.2L639.8 372.1L640.1 371L640.4 370.8L640.7 372.3L641 371.9L641.3 373.2L641.6 370.9L641.9 370.5L642.2 373.1L642.5 371.7L642.8 371.5L643.1 372L643.4 373.2L643.8 370.1L644.1 368.9L644.4 370.3L644.7 370L645 372L645.3 371L645.6 371.8L645.9 371.7L646.2 370.7L646.5 373.1L646.8 372.4L647.1 373.2L647.4 372L647.8 370.8L648.1 372.1L648.4 372.8L648.7 371.6L649 370.9L649.3 371.5L649.6 373.2L649.9 373.8L650.2 371.7L650.5 372.1L650.8 370.6L651.1 372.6L651.4 372.7L651.7 375.5L652.1 372.3L652.4 373.5L652.7 371.9L653 371.1L653.3 372.5L653.6 373.4L653.9 370.9L654.2 372L654.5 372.9L654.8 371.5L655.1 372.6L655.4 372.2L655.7 372.7L656.1 374.2L656.4 372L656.7 372.1L657 373.6L657.3 372.9L657.6 372.3L657.9 371L658.2 372.7L658.5 372.6L658.8 372.6L659.1 372.1L659.4 371.9L659.7 372.2L660.1 373.6L660.4 372.9L660.7 373.1L661 373.1L661.3 373.2L661.6 371.4L661.9 373.2L662.2 372.8L662.5 373.1L662.8 372.4L663.1 373L663.4 373L663.7 372.8L664.1 372.7L664.4 374.2L664.7 375.2L665 374.5L665.3 372.9L665.6 374L665.9 374.4L666.2 374.1L666.5 372.9L666.8 372.1L667.1 373.8L667.4 373.1L667.7 375.2L668.1 373.3L668.4 373.6L668.7 372.5L669 373.9L669.3 375.1L669.6 373.6L669.9 373.4L670.2 372.4L670.5 373.7L670.8 371.2L671.1 373.6L671.4 373.8L671.7 371.9L672.1 372.3L672.4 372.6L672.7 370.6L673 371.1L673.3 372L673.6 371.7L673.9 373.8L674.2 373.7L674.5 372.8L674.8 373.5L675.1 371.9L675.4 373.8L675.7 373.6L676.1 373.8L676.4 373L676.7 373.5L677 374.5L677.3 373.4L677.6 372.4L677.9 373.2L678.2 372.7L678.5 372.3L678.8 374.1L679.1 375L679.4 374.6L679.7 373.8L680.1 373.8L680.4 372.1L680.7 372.6L681 374.4L681.3 372L681.6 372.5L681.9 374L682.2 371.8L682.5 373.1L682.8 373.7L683.1 372.2L683.4 371.5L683.7 372.2L684.1 373.4L684.4 373.3L684.7 374.8L685 375L685.3 373.2L685.6 374.2L685.9 373.5L686.2 373.3L686.5 372.1L686.8 371.9L687.1 371.9L687.4 372.9L687.7 371.8L688.1 372.2L688.4 372.8L688.7 372.5L689 372.2L689.3 371.9L689.6 373.2L689.9 373.8L690.2 373.5L690.5 373L690.8 374.4L691.1 372.7L691.4 374.3L691.7 374.9L692 374.5L692.4 374.7L692.7 374.6L693 373.8L693.3 373.3L693.6 375.2L693.9 375.5L694.2 373.4L694.5 376.3L694.8 374.9L695.1 374.5L695.4 373.8L695.7 373.8L696 374.1L696.4 373.5L696.7 372.1L697 373.5L697.3 374.1L697.6 373.3L697.9 375L698.2 374.3L698.5 373.8L698.8 373.6L699.1 374.3L699.4 370.7L699.7 371.4L700 372.5L700.4 371.9L700.7 372L701 372L701.3 371.4L701.6 373.9L701.9 374.1L702.2 373.2L702.5 371.8L702.8 372.4L703.1 374.6L703.4 372.9L703.7 374.2L704 373.5L704.4 373.8L704.7 373.2L705 372.8L705.3 373.1L705.6 372.4L705.9 372.5L706.2 373.3L706.5 372.5L706.8 373.7L707.1 372.7L707.4 373.4L707.7 373.6L708 371.3L708.4 373.2L708.7 372.7L709 373.6L709.3 372.6L709.6 372.3L709.9 371.6L710.2 370.8L710.5 372.6L710.8 372.3L711.1 371.7L711.4 373.6L711.7 372L712 372.3L712.4 374.8L712.7 372.8L713 372.3L713.3 375.8L713.6 374.3L713.9 375.2L714.2 372.8L714.5 373.5L714.8 374.2L715.1 372L715.4 372.1L715.7 371.9L716 373.3L716.4 371.8L716.7 371.8L717 371.2L717.3 371.7L717.6 373.2L717.9 370.3L718.2 372.2L718.5 372.3L718.8 371.7L719.1 371.2L719.4 371.7L719.7 373.4L720 373.1L720.4 372.1L720.7 371.8L721 370.7L721.3 369.7L721.6 370.7L721.9 370.8L722.2 370.4L722.5 368.5L722.8 368.8L723.1 369.1L723.4 371L723.7 370.2L724 370L724.4 368.9L724.7 370.9L725 370.1L725.3 369.3L725.6 369.1L725.9 369.3L726.2 371L726.5 369.2L726.8 368.5L727.1 369.2L727.4 369.4L727.7 367.9L728 369.3L728.4 366L728.7 369.1L729 368.9L729.3 366.3L729.6 367.2L729.9 367.6L730.2 368.3L730.5 367.3L730.8 366L731.1 367.1L731.4 366.3L731.7 366.1L732 367.9L732.3 367.3L732.7 366.6L733 363.9L733.3 364.1L733.6 363.7L733.9 366.2L734.2 365.2L734.5 364.8L734.8 365.3L735.1 363.4L735.4 361.9L735.7 363.1L736 364.3L736.3 363.7L736.7 363.4L737 364.2L737.3 362.5L737.6 364.6L737.9 361.6L738.2 362.3L738.5 361.2L738.8 363.4L739.1 365.3L739.4 364.5L739.7 364.3L740 365.9L740.3 365.1L740.7 364.8L741 364.5L741.3 363.8L741.6 366.1L741.9 364.5L742.2 365.4L742.5 366.3L742.8 366.4L743.1 367.7L743.4 366.4L743.7 366.9L744 368.9L744.3 368.2L744.7 368.6L745 369.8L745.3 369.1L745.6 368.6L745.9 371.1L746.2 370L746.5 370.9L746.8 370.7L747.1 371.7L747.4 372.7L747.7 372.9L748 371.9L748.3 372.6L748.7 372.1L749 374.3L749.3 373.3L749.6 373.9L749.9 370.4L750.2 372.9L750.5 372.6L750.8 373.1L751.1 371.9L751.4 372L751.7 372.3L752 372.3L752.3 372.3L752.7 373.3L753 373L753.3 374.1L753.6 371.1L753.9 371.3L754.2 372.9L754.5 371.5L754.8 371.3L755.1 372.1L755.4 372.3L755.7 370.8L756 373L756.3 371.1L756.7 372.9L757 372.9L757.3 371.2L757.6 371.9L757.9 371.9L758.2 372L758.5 371.2L758.8 371.3L759.1 372.9L759.4 372.2L759.7 370.8L760 371.9L760.3 371.9L760.7 372.6L761 373.1L761.3 370.5L761.6 373.4L761.9 372.7L762.2 373.1L762.5 373.5L762.8 372.4L763.1 372.7L763.4 374.5L763.7 374.2L764 374.2L764.3 374.4L764.7 373.1L765 372.9L765.3 373.9L765.6 374.3L765.9 375.7L766.2 372.9L766.5 371.9L766.8 373.6L767.1 374.5L767.4 373.1L767.7 375.7L768 374.8L768.3 372.9L768.7 373.8L769 373.3L769.3 374.7L769.6 374.3L769.9 375.9L770.2 374.6L770.5 373.5L770.8 374.7L771.1 375.2L771.4 376L771.7 374.7L772 373.3L772.3 372.5L772.7 375.9L773 373.4L773.3 373L773.6 373.6L773.9 374.4L774.2 374.8L774.5 375.1L774.8 373.9L775.1 372.7L775.4 374.8L775.7 372.3L776 374L776.3 375L776.6 374L777 371.5L777.3 373.7L777.6 373L777.9 370.5L778.2 372.3L778.5 372.7L778.8 372.5L779.1 372.7L779.4 374.5L779.7 373.9L780 374.1L780.3 372.2L780.6 374.2L781 375.8L781.3 374L781.6 373.3L781.9 373.1L782.2 374.2L782.5 372.6L782.8 374.5L783.1 373.7L783.4 374.3L783.7 373.8L784 373.6L784.3 372.6L784.6 374L785 371.8L785.3 373.3L785.6 373.5L785.9 374.9L786.2 375.2L786.5 373.7L786.8 374.8L787.1 373L787.4 372.8L787.7 372.7L788 373.6L788.3 373.3L788.6 371.7L789 374.3L789.3 373.9L789.6 373.8L789.9 374L790.2 373.2L790.5 374.6L790.8 373.9L791.1 374L791.4 373.7L791.7 375.1L792 373.8L792.3 375L792.6 373.9L793 371.7L793.3 373.5L793.6 374.1L793.9 373.1L794.2 372L794.5 374L794.8 373.4L795.1 372.8L795.4 374.9L795.7 375.2L796 376.7L796.3 374.6L796.6 375L797 374.6L797.3 375.6L797.6 374.5L797.9 374L798.2 374.3L798.5 373.7L798.8 375.2L799.1 374.6L799.4 374.9L799.7 372.7L800 374.5L800.3 373.5L800.6 372.2L801 374.6L801.3 372.9L801.6 373.9L801.9 374.7L802.2 372.2L802.5 372.1L802.8 374.3L803.1 372.4L803.4 374.6L803.7 372.8L804 373.1L804.3 375.6L804.6 375.5L805 374.2L805.3 374.6L805.6 372.8L805.9 373.6L806.2 371.9L806.5 374.9L806.8 373.8L807.1 372.1L807.4 373L807.7 375.1L808 373.8L808.3 374.2L808.6 373.6L809 372.6L809.3 371.4L809.6 373.5L809.9 373.1L810.2 373.3L810.5 372.6L810.8 372.7L811.1 371.9L811.4 372.1L811.7 373.2L812 375.3L812.3 372.7L812.6 374.1L813 375.1L813.3 372.9L813.6 373.9L813.9 373.8L814.2 373.7L814.5 374L814.8 373.5L815.1 373.8L815.4 371.5L815.7 373.7L816 374.8L816.3 374.4L816.6 375.4L816.9 376.2L817.3 375.1L817.6 372.6L817.9 374.5L818.2 374.8L818.5 372.8L818.8 372.4L819.1 373.2L819.4 374.6L819.7 373.1L820 373.6L820.3 372.4L820.6 372.4L820.9 372.4L821.3 373.3L821.6 372.3L821.9 371.8L822.2 371.6L822.5 373.1L822.8 374.8L823.1 373.9L823.4 372.4L823.7 370.1L824 372.5L824.3 370.7L824.6 370.2L824.9 370.1L825.3 371.4L825.6 370L825.9 371L826.2 372.7L826.5 373L826.8 371.3L827.1 370.2L827.4 370.5L827.7 371.9L828 371L828.3 371L828.6 368.1L828.9 370.4L829.3 371L829.6 370.1L829.9 369.1L830.2 369.9L830.5 369.5L830.8 368.4L831.1 372L831.4 369.3L831.7 370.8L832 369.5L832.3 369L832.6 371.6L832.9 369.2L833.3 367.7L833.6 370.8L833.9 371.5L834.2 371.7L834.5 371L834.8 371.8L835.1 369.8L835.4 370.9L835.7 370.4L836 368.7L836.3 370.5L836.6 370.5L836.9 369.1L837.3 368.1L837.6 370L837.9 370.1L838.2 369.6L838.5 370.7L838.8 370.9L839.1 371.7L839.4 371.5L839.7 372L840 369.1L840.3 371.2L840.6 370.5L840.9 369.1L841.3 371.7L841.6 371.4L841.9 371.3L842.2 373.5L842.5 373.9L842.8 374.3L843.1 373.8L843.4 372.4L843.7 372.6L844 369.8L844.3 372.1L844.6 371.3L844.9 373.9L845.3 370.3L845.6 371.9L845.9 371.7L846.2 374.5L846.5 371.3L846.8 371.8L847.1 370.9L847.4 371.6L847.7 370.8L848 372L848.3 370.8L848.6 373.7L848.9 372.7L849.3 373.3L849.6 373.3L849.9 372.9L850.2 372.2L850.5 371.6L850.8 372.4L851.1 370.9L851.4 372.4L851.7 371L852 370.5L852.3 370.4L852.6 370.4L852.9 373.2L853.3 370.7L853.6 371.5L853.9 371.7L854.2 371.9L854.5 372.3L854.8 370.4L855.1 370.5L855.4 371.2L855.7 371.6L856 370.6L856.3 372L856.6 372.3L856.9 371.9L857.3 370.8L857.6 371.9L857.9 371.4L858.2 368.6L858.5 372.2L858.8 370L859.1 372.2L859.4 369.9L859.7 369.8L860 368.4L860.3 370.9L860.6 370.3L860.9 370.7L861.2 369.6L861.6 369.9L861.9 370L862.2 369.6L862.5 370.9L862.8 372L863.1 372L863.4 370.4L863.7 371.2L864 371.4L864.3 370.3L864.6 372.4L864.9 371.8L865.2 370.4L865.6 372.5L865.9 369.9L866.2 372.3L866.5 372L866.8 370.3L867.1 372.4L867.4 373.2L867.7 371.2L868 372L868.3 372.4L868.6 371.9L868.9 372.9L869.2 372L869.6 372.7L869.9 372.9L870.2 371.2L870.5 372.8L870.8 372L871.1 371.6L871.4 373.3L871.7 372.2L872 372L872.3 372.9L872.6 373.4L872.9 374L873.2 372.8L873.6 373.5L873.9 374L874.2 372.2L874.5 376.4L874.8 374.3L875.1 376.4L875.4 374.7L875.7 372.5L876 374.1L876.3 375.3L876.6 373.7L876.9 373.8L877.2 373.6L877.6 374.1L877.9 373.7L878.2 375.4L878.5 373.4L878.8 372.8L879.1 373.1L879.4 372.9L879.7 373.9L880 374.3L880.3 373.6L880.6 374.6L880.9 374.2L881.2 374L881.6 375.3L881.9 373.2L882.2 373.9L882.5 374.4L882.8 374L883.1 375.4L883.4 375.7L883.7 374.6L884 373.2L884.3 374.4L884.6 372.9L884.9 373.3L885.2 372.9L885.6 372.2L885.9 372.6L886.2 374.8L886.5 374.6L886.8 372.9L887.1 374.4L887.4 374.4L887.7 375.1L888 374.7L888.3 374.9L888.6 374L888.9 375L889.2 374.7L889.6 372.3L889.9 372.5L890.2 373.9L890.5 374.3L890.8 373.5L891.1 372.9L891.4 374.2L891.7 372.5L892 373.4L892.3 372.9L892.6 373.4L892.9 371.4L893.2 372.8L893.6 373.6L893.9 372.8L894.2 372L894.5 375.2L894.8 372L895.1 370.9L895.4 371.1L895.7 371.7L896 372.4L896.3 370.9L896.6 373.1L896.9 374.6L897.2 373.1L897.6 374.7L897.9 375.3L898.2 374.3L898.5 374.5L898.8 375.3L899.1 373.8L899.4 374.1L899.7 375.2L900 372.3L900.3 373.4L900.6 373.3L900.9 374.9L901.2 374L901.5 372.9L901.9 373.3L902.2 371.5L902.5 373.4L902.8 372.5L903.1 373.8L903.4 373L903.7 374.8L904 376.1L904.3 375.6L904.6 374.3L904.9 372.8L905.2 375.5L905.5 374L905.9 372.6L906.2 372.9L906.5 374L906.8 374.1L907.1 372.6L907.4 371.8L907.7 371.9L908 371.8L908.3 370.4L908.6 370.8L908.9 371.2L909.2 372.1L909.5 373.2L909.9 371.1L910.2 373L910.5 373.7L910.8 371L911.1 372.6L911.4 371.9L911.7 372.8L912 372.4L912.3 371.7L912.6 374.2L912.9 371.5L913.2 372.2L913.5 372.8L913.9 373.1L914.2 371.5L914.5 374.3L914.8 373.1L915.1 371L915.4 370L915.7 373.9L916 371.9L916.3 372.1L916.6 372.4L916.9 371L917.2 372.4L917.5 369.8L917.9 371.3L918.2 369.9L918.5 370.1L918.8 371.3L919.1 370L919.4 371.6L919.7 370L920 372.1L920.3 369.4L920.6 369.9L920.9 371.7L921.2 370.7L921.5 369.9L921.9 370.7L922.2 369.7L922.5 369.8L922.8 369.6L923.1 367.5L923.4 369.8L923.7 371.7L924 370.3L924.3 368.9L924.6 371L924.9 367.7L925.2 368.3L925.5 371L925.9 370.7L926.2 370.4L926.5 370.7L926.8 370.9L927.1 369.5L927.4 369.2L927.7 369.1L928 370.2L928.3 370.6L928.6 370.1L928.9 368.3L929.2 369.9L929.5 371.1L929.9 366.8L930.2 369.5L930.5 370L930.8 369.9L931.1 367.1L931.4 370.3L931.7 369.4L932 368.4L932.3 369.6L932.6 369.8L932.9 368.8L933.2 368.3L933.5 369.2L933.9 371.3L934.2 369.5L934.5 368.7L934.8 369.5L935.1 368.9L935.4 370.3L935.7 371.7L936 370.7L936.3 370.3L936.6 371.1L936.9 369.7L937.2 370.3L937.5 370.3L937.9 371.8L938.2 371.2L938.5 371.2L938.8 373.6L939.1 371.7L939.4 372.3L939.7 371.5L940 369.4L940.3 372.2L940.6 369.4L940.9 371.5L941.2 369.5L941.5 371.3L941.8 372L942.2 374.5L942.5 371.2L942.8 372.6L943.1 371L943.4 371.7L943.7 370.3L944 371.5L944.3 370.9L944.6 371.3L944.9 371.9L945.2 372.4L945.5 373.7L945.8 374.3L946.2 372.4L946.5 372.1L946.8 373.9L947.1 373.7L947.4 372.6L947.7 373.3L948 373.3L948.3 372.1L948.6 371.3L948.9 374L949.2 373.9L949.5 371.6L949.8 373.1L950.2 372.7L950.5 372.7L950.8 372.2L951.1 371.3L951.4 372L951.7 374L952 372.7L952.3 371.8L952.6 374.3L952.9 371.8L953.2 373.3L953.5 371.2L953.8 373.2L954.2 373.7L954.5 372.3L954.8 373.1L955.1 371.6L955.4 373.9L955.7 374.4L956 373.8L956.3 373.4L956.6 374.3L956.9 373.9L957.2 374.5L957.5 373.9L957.8 374.7L958.2 371.9L958.5 373.2L958.8 371.4L959.1 373.3L959.4 374.1L959.7 374.5L960 373.7L960.3 374.2L960.6 373.7L960.9 374L961.2 375.6L961.5 375L961.8 374.6L962.2 375.1L962.5 374.3L962.8 372.2L963.1 373.5L963.4 374L963.7 373.2L964 374.2L964.3 373.5L964.6 375L964.9 373.1L965.2 375.2L965.5 374.8L965.8 374.1L966.2 374.9L966.5 375L966.8 373.1L967.1 374.2L967.4 374.7L967.7 373.5L968 374.6L968.3 374.4L968.6 373L968.9 374.2L969.2 376.7L969.5 374.1L969.8 375.2L970.2 373.2L970.5 375.5L970.8 374.1L971.1 374.6L971.4 374L971.7 375L972 373.6L972.3 374.6L972.6 374.5L972.9 374.8L973.2 373L973.5 374.3L973.8 373.5L974.2 375.2L974.5 374.6L974.8 373.2L975.1 372.7L975.4 373.4L975.7 372.4L976 373.3L976.3 373.4L976.6 373.2L976.9 376.1L977.2 372.8L977.5 373.9L977.8 376.6L978.2 374L978.5 374.6L978.8 375L979.1 372.6L979.4 374.4L979.7 375.3L980 372.4L980.3 376.1L980.6 375.9L980.9 374L981.2 374.2L981.5 375.1L981.8 374.1L982.2 373.8L982.5 373.9L982.8 372.1L983.1 374.7L983.4 374.4L983.7 373.3L984 372.9L984.3 374.2L984.6 372.5L984.9 373.5L985.2 373.3L985.5 371.7L985.8 373.9L986.1 373.9L986.5 374.5L986.8 375L987.1 374.1L987.4 373.6L987.7 374.3L988 374.8L988.3 373.2L988.6 374.2L988.9 372.3L989.2 372.3L989.5 372.9L989.8 372.2L990.1 373.2L990.5 371.7L990.8 373.6L991.1 373.2L991.4 374.9L991.7 374.1L992 375.7L992.3 374.1L992.6 375.8L992.9 374.5L993.2 375.6L993.5 375L993.8 374.5L994.1 374.3L994.5 372.9L994.8 374L995.1 374L995.4 373.4L995.7 375.5L996 373.2L996.3 374.6L996.6 373.3L996.9 374.7L997.2 373.3L997.5 375.9L997.8 375.7L998.1 374.2L998.5 376.3L998.8 376L999.1 375.9L999.4 375.6L999.7 374.2L1000 376L1000.3 372.9L1000.6 375L1000.9 374.2L1001.2 374.7L1001.5 374.3L1001.8 374.4L1002.1 375.1L1002.5 375.1L1002.8 374.9L1003.1 375.3L1003.4 375.5L1003.7 373.1L1004 373.4L1004.3 376"/>
<path class="cv" stroke="#0000ff" d="M81.7 444.1L82 442.4L82.3 442.7L82.6 443.9L82.9 443.8L83.2 444.4L83.5 444.1L83.9 447.2L84.2 443.6L84.5 444.7L84.8 443.4L85.1 442.4L85.4 443.4L85.7 445.4L86 441.6L86.3 439.8L86.6 442.2L86.9 445L87.2 441.6L87.5 442.8L87.9 445L88.2 443.7L88.5 439.7L88.8 443.7L89.1 442.2L89.4 442.6L89.7 440.9L90 443.3L90.3 444.9L90.6 442.4L90.9 440.5L91.2 440L91.5 444.8L91.9 441.9L92.2 441.1L92.5 443.1L92.8 441L93.1 442L93.4 440.3L93.7 443L94 442.8L94.3 444.5L94.6 442.5L94.9 442.1L95.2 441.8L95.5 444.4L95.9 442.3L96.2 443.8L96.5 443.2L96.8 446.2L97.1 442.1L97.4 441L97.7 443.2L98 442.7L98.3 442.7L98.6 444.2L98.9 444.9L99.2 444.9L99.5 447.3L99.9 444L100.2 446.5L100.5 444.5L100.8 445.3L101.1 440.9L101.4 444.1L101.7 445.3L102 446L102.3 444.6L102.6 443L102.9 446.4L103.2 447.1L103.5 442L103.8 444.6L104.2 444.4L104.5 444.1L104.8 441.1L105.1 443.5L105.4 443.4L105.7 442.5L106 444.1L106.3 444.5L106.6 442.2L106.9 445.8L107.2 442.2L107.5 446.3L107.8 442L108.2 445.9L108.5 442.4L108.8 444.7L109.1 445.5L109.4 443L109.7 445.1L110 442.8L110.3 444.2L110.6 445.1L110.9 444.8L111.2 445.6L111.5 445.9L111.8 448.5L112.2 446.3L112.5 445.1L112.8 444.7L113.1 443.8L113.4 443.7L113.7 443L114 445.8L114.3 443.4L114.6 442.1L114.9 442.2L115.2 444.6L115.5 444.2L115.8 442.6L116.2 442L116.5 441.5L116.8 443.5L117.1 442.6L117.4 440.6L117.7 443.4L118 438.8L118.3 441L118.6 444.9L118.9 443.9L119.2 439.6L119.5 441.4L119.8 441L120.2 443.3L120.5 442.6L120.8 444.5L121.1 444L121.4 443.4L121.7 441.1L122 441.7L122.3 441.7L122.6 440.9L122.9 445.1L123.2 443.8L123.5 440.4L123.8 444.3L124.2 442.1L124.5 444.2L124.8 442.7L125.1 442.3L125.4 442.5L125.7 442.2L126 443.2L126.3 442L126.6 445.2L126.9 443L127.2 444.1L127.5 445.3L127.8 443.2L128.2 442.7L128.5 446.3L128.8 441.6L129.1 442.8L129.4 444.3L129.7 444.4L130 443L130.3 441.1L130.6 444.2L130.9 442.5L131.2 442.1L131.5 442.1L131.8 443.5L132.2 444L132.5 442.3L132.8 442.8L133.1 444L133.4 439.8L133.7 445.2L134 441.2L134.3 442.5L134.6 443.5L134.9 442L135.2 444.5L135.5 445.2L135.8 442.5L136.2 443L136.5 444.1L136.8 444.9L137.1 442.3L137.4 441.9L137.7 441.6L138 441.1L138.3 442.4L138.6 438.9L138.9 441.5L139.2 439.5L139.5 439L139.8 437.7L140.2 438.7L140.5 441.7L140.8 440.1L141.1 443.2L141.4 440.2L141.7 440L142 442.3L142.3 440.4L142.6 442.5L142.9 443.3L143.2 442.9L143.5 441.6L143.8 439.5L144.2 440.8L144.5 440L144.8 438.2L145.1 438.3L145.4 437.1L145.7 438L146 437.2L146.3 437L146.6 437.6L146.9 438.1L147.2 438.1L147.5 436.9L147.8 436.2L148.1 437.8L148.5 436.6L148.8 436.9L149.1 435.3L149.4 436.8L149.7 433.5L150 432.8L150.3 433.7L150.6 433L150.9 432.2L151.2 431.3L151.5 431.8L151.8 430.1L152.1 426.9L152.5 427.2L152.8 429.4L153.1 424.9L153.4 424.3L153.7 422.2L154 420.9L154.3 420.1L154.6 420.2L154.9 416.9L155.2 413.7L155.5 412.4L155.8 410.8L156.1 404.6L156.5 407.9L156.8 399.3L157.1 399.3L157.4 397.7L157.7 392.9L158 389.3L158.3 383.3L158.6 375.2L158.9 374.8L159.2 372L159.5 358.6L159.8 350.8L160.1 343.2L160.5 335L160.8 325.7L161.1 319.6L161.4 308.5L161.7 309.1L162 302.1L162.3 303L162.6 311.2L162.9 320L163.2 325.9L163.5 336.7L163.8 344.4L164.1 352.5L164.5 359.8L164.8 364.1L165.1 370.6L165.4 376.1L165.7 377.9L166 389.5L166.3 385.5L166.6 393.1L166.9 397.7L167.2 400.6L167.5 406L167.8 407.7L168.1 409.2L168.5 413.1L168.8 416.5L169.1 420.1L169.4 419.2L169.7 422.1L170 422.8L170.3 421.6L170.6 421.4L170.9 423.8L171.2 424.3L171.5 423.9L171.8 428.5L172.1 429.9L172.5 430.9L172.8 428.9L173.1 430.8L173.4 430.6L173.7 433.4L174 434.4L174.3 435.5L174.6 435.5L174.9 438.8L175.2 437.4L175.5 438L175.8 438.2L176.1 440.8L176.5 439.1L176.8 440.1L177.1 438.1L177.4 440.8L177.7 440.1L178 437.9L178.3 441.1L178.6 438.1L178.9 438.9L179.2 440.8L179.5 441.8L179.8 441.5L180.1 441.4L180.5 440.8L180.8 441.5L181.1 441.5L181.4 441.5L181.7 443.8L182 442.2L182.3 444.1L182.6 444.5L182.9 443.8L183.2 443.5L183.5 441.7L183.8 442L184.1 442.2L184.5 443.2L184.8 444.8L185.1 442.7L185.4 445.4L185.7 446L186 445.9L186.3 446.9L186.6 443L186.9 446.2L187.2 446.4L187.5 446.3L187.8 446.2L188.1 445.3L188.4 444.8L188.8 445.1L189.1 446.2L189.4 443.5L189.7 444.5L190 445.7L190.3 444.1L190.6 444.3L190.9 443.7L191.2 444.7L191.5 445.6L191.8 442.8L192.1 444.8L192.4 446.3L192.8 446.2L193.1 447L193.4 447.1L193.7 444.5L194 444.5L194.3 445.6L194.6 444.6L194.9 444L195.2 445.3L195.5 446.1L195.8 446.2L196.1 445.5L196.4 444.9L196.8 446.7L197.1 445.1L197.4 445.4L197.7 445.3L198 446.1L198.3 446L198.6 446.5L198.9 445.6L199.2 446.9L199.5 448L199.8 448.2L200.1 447.4L200.4 447.1L200.8 449.2L201.1 447.8L201.4 449.8L201.7 450.6L202 446L202.3 449.1L202.6 448L202.9 446.5L203.2 448.2L203.5 448L203.8 447.3L204.1 447.7L204.4 446.8L204.8 447.2L205.1 448.8L205.4 447.3L205.7 446.4L206 445.3L206.3 447L206.6 446.6L206.9 447.4L207.2 448.8L207.5 448L207.8 448L208.1 448.6L208.4 450.8L208.8 450.3L209.1 449.2L209.4 448L209.7 448.6L210 446.6L210.3 446.5L210.6 447.6L210.9 447.1L211.2 446.9L211.5 447.7L211.8 447.7L212.1 449L212.4 447.6L212.8 448.6L213.1 448.8L213.4 449.8L213.7 449L214 448.2L214.3 447.1L214.6 449.1L214.9 447.5L215.2 448.6L215.5 448.9L215.8 448L216.1 449.1L216.4 449.2L216.8 447.3L217.1 447.8L217.4 447.4L217.7 445.8L218 447.4L218.3 448.4L218.6 447.8L218.9 448.7L219.2 446.6L219.5 447.6L219.8 447.5L220.1 447.6L220.4 447.6L220.8 448.8L221.1 449.6L221.4 449.4L221.7 448.7L222 449.7L222.3 448.7L222.6 449.4L222.9 451L223.2 451.5L223.5 450.1L223.8 448.3L224.1 450.7L224.4 452L224.8 450.9L225.1 450.3L225.4 450L225.7 449.8L226 448.3L226.3 449L226.6 448.7L226.9 449.7L227.2 450.1L227.5 449.2L227.8 448.7L228.1 448.6L228.4 449.1L228.7 450.1L229.1 449.6L229.4 446.7L229.7 448.9L230 451.1L230.3 449.2L230.6 449.4L230.9 449.4L231.2 448.4L231.5 447.3L231.8 450.4L232.1 447.5L232.4 449.8L232.7 449.2L233.1 449.4L233.4 448.2L233.7 450.3L234 449.2L234.3 449.2L234.6 449.3L234.9 449.7L235.2 449.8L235.5 450.5L235.8 451.3L236.1 450.9L236.4 449.2L236.7 450.8L237.1 449.3L237.4 449.4L237.7 451.9L238 450.4L238.3 449.5L238.6 451.9L238.9 451.2L239.2 451.8L239.5 451.9L239.8 449.7L240.1 450.6L240.4 452.5L240.7 450.6L241.1 450.9L241.4 450.6L241.7 450.7L242 451.8L242.3 451.4L242.6 451.5L242.9 451.2L243.2 450.2L243.5 451.4L243.8 451.9L244.1 451.6L244.4 449.8L244.7 451.6L245.1 451.1L245.4 450.6L245.7 449.7L246 450.5L246.3 450.8L246.6 450L246.9 449.6L247.2 450.5L247.5 450.2L247.8 449.5L248.1 450.7L248.4 450.9L248.7 450.8L249.1 449.7L249.4 452.1L249.7 452L250 449.9L250.3 451.1L250.6 452.9L250.9 453.2L251.2 450L251.5 451.3L251.8 451.2L252.1 452L252.4 452.3L252.7 453L253.1 451.7L253.4 451.6L253.7 450.4L254 451.5L254.3 451.2L254.6 450.1L254.9 450.6L255.2 450L255.5 449.5L255.8 450.1L256.1 452.5L256.4 451.6L256.7 451.8L257.1 453.9L257.4 451.1L257.7 451.7L258 451.1L258.3 450.7L258.6 451.7L258.9 451.6L259.2 452.1L259.5 449.8L259.8 452.6L260.1 452.3L260.4 452.8L260.7 451.5L261.1 451.7L261.4 450.6L261.7 449.2L262 452.6L262.3 450.9L262.6 451L262.9 452.4L263.2 449.9L263.5 450.5L263.8 452.9L264.1 451.7L264.4 453L264.7 451.9L265.1 453L265.4 451.1L265.7 451.6L266 451.5L266.3 452.5L266.6 451.7L266.9 451.3L267.2 452L267.5 452.7L267.8 451.6L268.1 452.5L268.4 451.6L268.7 452.5L269.1 451.7L269.4 453L269.7 452.1L270 452.1L270.3 450.8L270.6 452.5L270.9 449.9L271.2 452.4L271.5 451.6L271.8 452.7L272.1 450.4L272.4 451.5L272.7 450.1L273 451L273.4 450.4L273.7 450.2L274 449.7L274.3 452.2L274.6 452.5L274.9 451.9L275.2 453.3L275.5 452.6L275.8 452.8L276.1 452.6L276.4 454.1L276.7 452.4L277 452.9L277.4 452.3L277.7 451.5L278 452.7L278.3 451.2L278.6 452.3L278.9 449.7L279.2 451L279.5 451.7L279.8 452.4L280.1 453.1L280.4 451.4L280.7 452.2L281 451.7L281.4 452.7L281.7 453.6L282 454.2L282.3 453.4L282.6 453.6L282.9 451.6L283.2 453.2L283.5 452.2L283.8 452.4L284.1 453.8L284.4 453.1L284.7 452.9L285 452.2L285.4 452.8L285.7 453.2L286 454.5L286.3 452.2L286.6 453.6L286.9 454.3L287.2 452.2L287.5 450.6L287.8 452L288.1 453.9L288.4 452.4L288.7 453L289 454.5L289.4 453.7L289.7 451.2L290 454.7L290.3 452.7L290.6 454.2L290.9 454.2L291.2 453.8L291.5 451.9L291.8 454L292.1 453.3L292.4 451.5L292.7 453.4L293 452.9L293.4 454.1L293.7 452.4L294 452.7L294.3 454.6L294.6 455.4L294.9 454.1L295.2 453.4L295.5 453.3L295.8 453.8L296.1 454.2L296.4 454.8L296.7 452.7L297 454.5L297.4 454.9L297.7 454L298 455.5L298.3 453.8L298.6 453.4L298.9 454.8L299.2 452.4L299.5 454.6L299.8 452.4L300.1 453.1L300.4 453.2L300.7 452.2L301 452.4L301.4 451.2L301.7 452.2L302 453.2L302.3 452.7L302.6 453.1L302.9 452.3L303.2 453L303.5 452.2L303.8 453.9L304.1 452.3L304.4 453L304.7 453.3L305 451.3L305.4 454.2L305.7 453L306 452.9L306.3 453.3L306.6 453.3L306.9 452.4L307.2 452.7L307.5 451.7L307.8 452.7L308.1 453.4L308.4 453L308.7 454L309 451.9L309.4 452.2L309.7 453L310 452.5L310.3 454.6L310.6 454L310.9 451L311.2 453.4L311.5 452.9L311.8 453.3L312.1 452.5L312.4 453.4L312.7 452.9L313 453.2L313.3 452.1L313.7 451.7L314 452.2L314.3 451L314.6 451.6L314.9 453.6L315.2 452.6L315.5 453.1L315.8 454.6L316.1 454.3L316.4 452.7L316.7 452.9L317 453.4L317.3 453.1L317.7 454.3L318 453.3L318.3 453.1L318.6 453.3L318.9 452.9L319.2 453.9L319.5 451.9L319.8 452.5L320.1 451.1L320.4 451.2L320.7 451.9L321 453.2L321.3 452.5L321.7 454.4L322 453.2L322.3 453L322.6 452.8L322.9 452.2L323.2 453.6L323.5 453.9L323.8 453.7L324.1 454.3L324.4 452.2L324.7 451.7L325 452.9L325.3 452.9L325.7 453L326 453.2L326.3 453.1L326.6 453.2L326.9 452.7L327.2 451.5L327.5 453.2L327.8 452.4L328.1 452.9L328.4 452.4L328.7 453.8L329 451.7L329.3 452.4L329.7 452.3L330 453.2L330.3 453L330.6 452.9L330.9 451.2L331.2 450.8L331.5 452.4L331.8 451.8L332.1 452.8L332.4 452.4L332.7 451.5L333 451.2L333.3 452L333.7 451.1L334 451.6L334.3 450.4L334.6 450.6L334.9 451.5L335.2 450.2L335.5 450.3L335.8 449.2L336.1 448.2L336.4 448.9L336.7 447.9L337 448.7L337.3 447.3L337.7 447.1L338 447.3L338.3 445.5L338.6 446.8L338.9 446L339.2 445.1L339.5 445.7L339.8 446.2L340.1 443.9L340.4 444.2L340.7 444.6L341 443.6L341.3 443.3L341.7 443.8L342 444.5L342.3 445.7L342.6 443.5L342.9 443.3L343.2 444.3L343.5 443.1L343.8 444.2L344.1 443.7L344.4 443.1L344.7 443.3L345 443.1L345.3 442.5L345.7 443L346 443.8L346.3 444.5L346.6 444.4L346.9 445.8L347.2 445.3L347.5 444.9L347.8 443.9L348.1 443.3L348.4 442.8L348.7 440.8L349 441.1L349.3 442.9L349.7 442.5L350 439.6L350.3 439.4L350.6 441.1L350.9 438.7L351.2 438.7L351.5 436.4L351.8 434.2L352.1 435.9L352.4 432.6L352.7 433.5L353 431.5L353.3 431.3L353.7 429.6L354 429.7L354.3 429.6L354.6 426.6L354.9 428.5L355.2 427.7L355.5 429.8L355.8 429.1L356.1 428.5L356.4 428.2L356.7 428.5L357 429.8L357.3 428.3L357.6 429.5L358 430.6L358.3 430.3L358.6 433.6L358.9 434.3L359.2 433.7L359.5 435.8L359.8 435.3L360.1 437.5L360.4 437.8L360.7 440.3L361 438.9L361.3 438.3L361.6 439.6L362 439.7L362.3 439.7L362.6 440.5L362.9 439.9L363.2 439.5L363.5 439.9L363.8 439.8L364.1 436.8L364.4 438.8L364.7 438.6L365 438.9L365.3 440.1L365.6 440L366 439.9L366.3 439.5L366.6 440.3L366.9 439.3L367.2 441L367.5 439.5L367.8 443L368.1 440.4L368.4 442.4L368.7 441.8L369 443.6L369.3 442.5L369.6 444.9L370 445.2L370.3 446.6L370.6 447.3L370.9 445.3L371.2 448.2L371.5 448.7L371.8 447.3L372.1 447.5L372.4 449.4L372.7 448.2L373 448.1L373.3 448.5L373.6 449.8L374 450.3L374.3 452.3L374.6 451.4L374.9 452.7L375.2 451.4L375.5 451.4L375.8 452.3L376.1 452.1L376.4 451.3L376.7 451.8L377 452.2L377.3 452.8L377.6 452.3L378 452.7L378.3 451.9L378.6 451.6L378.9 453L379.2 452.6L379.5 453.2L379.8 451.3L380.1 453.6L380.4 453.3L380.7 451.5L381 452.8L381.3 451.4L381.6 453.2L382 451.8L382.3 453.6L382.6 451.5L382.9 452.9L383.2 451.9L383.5 453.2L383.8 453L384.1 452L384.4 453.5L384.7 454L385 453.2L385.3 453.4L385.6 453L386 453.5L386.3 452.5L386.6 451.5L386.9 452.6L387.2 451.9L387.5 452.3L387.8 452.9L388.1 452.3L388.4 451.6L388.7 450.5L389 450.8L389.3 451.3L389.6 450.5L390 451.3L390.3 449.8L390.6 452.1L390.9 451.2L391.2 452L391.5 452L391.8 452.8L392.1 451.6L392.4 452.7L392.7 451.1L393 453.3L393.3 451.9L393.6 452.6L394 452.3L394.3 450.7L394.6 452.6L394.9 451.4L395.2 451.5L395.5 452.3L395.8 453.1L396.1 451.3L396.4 453.5L396.7 454.2L397 452.3L397.3 453.3L397.6 453.4L397.9 451.8L398.3 452.9L398.6 452.3L398.9 452.6L399.2 451.6L399.5 452.2L399.8 452.7L400.1 453.4L400.4 452.5L400.7 451.5L401 452.9L401.3 451.8L401.6 452L401.9 453.3L402.3 453.2L402.6 452.5L402.9 451.7L403.2 451.8L403.5 452.3L403.8 451.1L404.1 452.2L404.4 451.9L404.7 452L405 451.5L405.3 453L405.6 452L405.9 450.9L406.3 451.3L406.6 452.1L406.9 452.2L407.2 451.2L407.5 452L407.8 451.2L408.1 450.3L408.4 451.4L408.7 451.9L409 452.5L409.3 450.9L409.6 450.8L409.9 452.7L410.3 450.8L410.6 451.8L410.9 452.5L411.2 451.7L411.5 452.8L411.8 451.6L412.1 452.1L412.4 452.6L412.7 452L413 451.5L413.3 452.7L413.6 451.9L413.9 452.8L414.3 452.4L414.6 451.3L414.9 452.6L415.2 452.2L415.5 453.4L415.8 450L416.1 451.5L416.4 452.6L416.7 451.2L417 453.2L417.3 451.3L417.6 452.1L417.9 452.4L418.3 452.4L418.6 452.7L418.9 451.7L419.2 451.3L419.5 452.7L419.8 453L420.1 452.4L420.4 452L420.7 451.9L421 451.7L421.3 450L421.6 451.7L421.9 450.9L422.3 452.1L422.6 451.2L422.9 452.6L423.2 451.1L423.5 451.7L423.8 451.9L424.1 451.8L424.4 452.8L424.7 452.6L425 452.7L425.3 452.7L425.6 452.7L425.9 452.5L426.3 452L426.6 451.7L426.9 453.6L427.2 451.7L427.5 451.5L427.8 452.4L428.1 453.1L428.4 451.6L428.7 452.8L429 452.2L429.3 452.4L429.6 452.6L429.9 452.3L430.3 451.7L430.6 451.9L430.9 452.4L431.2 451.5L431.5 450.9L431.8 450.8L432.1 450.1L432.4 452.6L432.7 450.6L433 452.1L433.3 450.5L433.6 449.6L433.9 450.5L434.3 451L434.6 451.3L434.9 451.6L435.2 450.8L435.5 450.5L435.8 451.8L436.1 451.1L436.4 450.8L436.7 451.9L437 452.3L437.3 453.3L437.6 450.7L437.9 450.7L438.2 450.2L438.6 450.2L438.9 450.9L439.2 451.8L439.5 451L439.8 452.2L440.1 452.4L440.4 450.8L440.7 450.8L441 451L441.3 451.8L441.6 451.2L441.9 451.2L442.2 452.4L442.6 453L442.9 452.5L443.2 451.7L443.5 451.8L443.8 452.1L444.1 450.6L444.4 451.3L444.7 451.7L445 451.7L445.3 450.8L445.6 451L445.9 451.2L446.2 450.5L446.6 453.6L446.9 451.6L447.2 451.5L447.5 453.5L447.8 451.9L448.1 453.1L448.4 452.3L448.7 450.6L449 451L449.3 452.9L449.6 451.7L449.9 452.3L450.2 451L450.6 451.6L450.9 451.3L451.2 452L451.5 451.3L451.8 450.2L452.1 451.9L452.4 450.4L452.7 451.3L453 450.6L453.3 451.2L453.6 451.4L453.9 449.5L454.2 450.5L454.6 451.2L454.9 451.6L455.2 451.2L455.5 451.8L455.8 452L456.1 451.9L456.4 451.9L456.7 451.7L457 451.9L457.3 451.5L457.6 450.6L457.9 451.7L458.2 451.6L458.6 451.7L458.9 452.5L459.2 452L459.5 451.4L459.8 451.5L460.1 449.8L460.4 450.6L460.7 451.1L461 450.2L461.3 453L461.6 450.8L461.9 451.6L462.2 451.1L462.6 451.3L462.9 451.8L463.2 450.9L463.5 451L463.8 452.1L464.1 451.5L464.4 450.3L464.7 451.5L465 452L465.3 451.3L465.6 452.1L465.9 451.7L466.2 451.6L466.6 450.3L466.9 451.7L467.2 451.9L467.5 453.2L467.8 451.8L468.1 452.9L468.4 453.1L468.7 453.1L469 453L469.3 452.8L469.6 451.5L469.9 452.9L470.2 453.1L470.6 453.2L470.9 451.3L471.2 452L471.5 453.5L471.8 453.5L472.1 453.3L472.4 452.7L472.7 451L473 451.8L473.3 451.6L473.6 451.9L473.9 451.7L474.2 450.8L474.6 452.5L474.9 451.2L475.2 450.3L475.5 450.8L475.8 450.7L476.1 449.8L476.4 451.5L476.7 451L477 452.4L477.3 452.3L477.6 453L477.9 451.2L478.2 451L478.6 451.6L478.9 452.9L479.2 451L479.5 451.1L479.8 451.9L480.1 451.3L480.4 451.2L480.7 450L481 450.3L481.3 450.6L481.6 450L481.9 451.1L482.2 452.3L482.5 450.8L482.9 453.3L483.2 452.2L483.5 452.3L483.8 452.5L484.1 451.3L484.4 451.4L484.7 451.9L485 451.9L485.3 451L485.6 451.4L485.9 452.2L486.2 450.1L486.5 451.9L486.9 452.3L487.2 451.1L487.5 450.5L487.8 452.3L488.1 451.5L488.4 451L488.7 452.1L489 452.3L489.3 450.6L489.6 451.9L489.9 450.7L490.2 451.4L490.5 450.4L490.9 450.5L491.2 450.8L491.5 451.1L491.8 450.9L492.1 450.7L492.4 450.1L492.7 451.5L493 451.5L493.3 450.8L493.6 451.9L493.9 450.9L494.2 450L494.5 451.5L494.9 450.2L495.2 449.2L495.5 449.3L495.8 449.6L496.1 449.4L496.4 450.9L496.7 448L497 450.2L497.3 447.4L497.6 447.8L497.9 450.4L498.2 449.5L498.5 448.2L498.9 447.7L499.2 447.6L499.5 447L499.8 447.5L500.1 447.1L500.4 445.7L500.7 446.3L501 445.4L501.3 447L501.6 446.2L501.9 445.4L502.2 444.9L502.5 443.6L502.9 445.2L503.2 445L503.5 443.6L503.8 443.8L504.1 442.3L504.4 442.3L504.7 442.4L505 442L505.3 442.6L505.6 442.2L505.9 440.1L506.2 438.3L506.5 439.4L506.9 439.4L507.2 436.4L507.5 435.7L507.8 433.9L508.1 434.9L508.4 431.7L508.7 430.5L509 429.5L509.3 429.1L509.6 426.6L509.9 427.9L510.2 427.7L510.5 425.5L510.9 425.1L511.2 424.1L511.5 423.8L511.8 423.1L512.1 423.6L512.4 426.4L512.7 424.3L513 425.7L513.3 427L513.6 426.6L513.9 426.5L514.2 427.2L514.5 427.8L514.9 429.1L515.2 430L515.5 431.3L515.8 433.6L516.1 434.8L516.4 434.2L516.7 435.6L517 437.6L517.3 437.8L517.6 440L517.9 439.5L518.2 440.1L518.5 439.4L518.9 440.8L519.2 441.7L519.5 441.5L519.8 442.2L520.1 441.5L520.4 442.8L520.7 441.8L521 442.3L521.3 444.5L521.6 446L521.9 444.3L522.2 444L522.5 445.6L522.8 446.1L523.2 448L523.5 445.3L523.8 447.1L524.1 448.4L524.4 446.6L524.7 448.7L525 450.1L525.3 450.1L525.6 450.1L525.9 449.1L526.2 448.2L526.5 448.4L526.8 448.8L527.2 450.1L527.5 447.6L527.8 449.1L528.1 449.2L528.4 447.8L528.7 448L529 450.9L529.3 449.2L529.6 448.5L529.9 449.9L530.2 450.1L530.5 449.9L530.8 447.9L531.2 450L531.5 450.3L531.8 449.5L532.1 449.5L532.4 449.3L532.7 450.4L533 451.8L533.3 452.1L533.6 451.9L533.9 452.3L534.2 452.1L534.5 452L534.8 450.8L535.2 452.2L535.5 450.9L535.8 451.3L536.1 452.4L536.4 450.6L536.7 453.3L537 452.4L537.3 450.9L537.6 451.5L537.9 450.9L538.2 451.7L538.5 452.8L538.8 452.4L539.2 451.8L539.5 452.2L539.8 453.2L540.1 452L540.4 452.6L540.7 453.6L541 452L541.3 453L541.6 453.3L541.9 453.9L542.2 452.2L542.5 451.3L542.8 452.1L543.2 451.7L543.5 453.1L543.8 451.8L544.1 451.7L544.4 452.6L544.7 451.9L545 452.2L545.3 453L545.6 452.8L545.9 452.8L546.2 452.8L546.5 452.7L546.8 451.1L547.2 453.4L547.5 451.1L547.8 454.6L548.1 452L548.4 453.8L548.7 453.5L549 454L549.3 454.3L549.6 454.1L549.9 454.2L550.2 454.7L550.5 454L550.8 454.7L551.2 453.5L551.5 454L551.8 453.4L552.1 453.9L552.4 453.8L552.7 453.3L553 453.8L553.3 454.2L553.6 453.9L553.9 455.7L554.2 455L554.5 452.9L554.8 452.9L555.2 453.8L555.5 453.6L555.8 452.9L556.1 452.6L556.4 454.3L556.7 454L557 453.2L557.3 452.7L557.6 454.3L557.9 454.7L558.2 455.4L558.5 453L558.8 453.3L559.2 453.1L559.5 454.1L559.8 452.2L560.1 454L560.4 455.6L560.7 453.7L561 453.4L561.3 454L561.6 453.2L561.9 453.2L562.2 454.1L562.5 454.6L562.8 453.6L563.2 453.9L563.5 454.4L563.8 453.4L564.1 452L564.4 453.9L564.7 453.7L565 453L565.3 453.1L565.6 454.6L565.9 454.5L566.2 454.7L566.5 452.7L566.8 454L567.1 455.6L567.5 454.5L567.8 453.1L568.1 453.6L568.4 454.6L568.7 454.4L569 453.1L569.3 453.2L569.6 451.9L569.9 454.5L570.2 453.5L570.5 453.7L570.8 453.6L571.1 452.1L571.5 455.2L571.8 454L572.1 454.3L572.4 454.2L572.7 454.1L573 453.7L573.3 453.9L573.6 453.2L573.9 454.6L574.2 453.3L574.5 453.7L574.8 452.8L575.1 453.6L575.5 454.3L575.8 453.9L576.1 452.4L576.4 453.1L576.7 454L577 453.7L577.3 454.8L577.6 454.1L577.9 454L578.2 453.6L578.5 453.6L578.8 454L579.1 453.1L579.5 453.4L579.8 455.6L580.1 452.6L580.4 453.5L580.7 452.9L581 454.2L581.3 452.7L581.6 452.8L581.9 453.2L582.2 453.2L582.5 454.3L582.8 453.5L583.1 453.6L583.5 453.1L583.8 452.4L584.1 454.4L584.4 453.6L584.7 453.5L585 454.3L585.3 454.5L585.6 454.5L585.9 453.2L586.2 452.6L586.5 451.5L586.8 452.9L587.1 452.7L587.5 452.6L587.8 451.8L588.1 450.8L588.4 450.6L588.7 450.4L589 451.7L589.3 451.5L589.6 450.9L589.9 450L590.2 450.4L590.5 451.1L590.8 449.6L591.1 451.4L591.5 450.7L591.8 450.6L592.1 449.7L592.4 449.6L592.7 449.6L593 448.5L593.3 448.9L593.6 448.8L593.9 449.1L594.2 447.6L594.5 449.2L594.8 447.2L595.1 444.4L595.5 446.5L595.8 445.8L596.1 446.5L596.4 447L596.7 446.5L597 445.3L597.3 445.9L597.6 443.3L597.9 443.3L598.2 443.1L598.5 442.8L598.8 440.6L599.1 440.2L599.5 441.6L599.8 441.1L600.1 441.2L600.4 439L600.7 440.4L601 438.8L601.3 439.3L601.6 439.2L601.9 437.6L602.2 439.2L602.5 438.2L602.8 438.1L603.1 437.9L603.5 437.3L603.8 438.5L604.1 436.9L604.4 438.4L604.7 437.2L605 438L605.3 437.8L605.6 439.9L605.9 438L606.2 438.3L606.5 439.1L606.8 440.1L607.1 441.3L607.4 441.6L607.8 441.3L608.1 442L608.4 442.2L608.7 441.5L609 442.3L609.3 441.7L609.6 441.4L609.9 441.4L610.2 442.2L610.5 442.2L610.8 442.3L611.1 442.9L611.4 442.3L611.8 443L612.1 444.1L612.4 442.5L612.7 443.3L613 442.5L613.3 443.9L613.6 441.9L613.9 441.4L614.2 441.7L614.5 441.8L614.8 442.7L615.1 439.6L615.4 441.6L615.8 440.3L616.1 440.7L616.4 439.3L616.7 439L617 439.5L617.3 438.3L617.6 438.9L617.9 437.5L618.2 438.7L618.5 438.2L618.8 437.5L619.1 437.6L619.4 437.4L619.8 437.9L620.1 437.7L620.4 437.6L620.7 437.1L621 438.1L621.3 437.6L621.6 438.1L621.9 439.6L622.2 438.9L622.5 439.7L622.8 441.2L623.1 441.4L623.4 440.1L623.8 441.8L624.1 441.3L624.4 442.7L624.7 442.3L625 444L625.3 445.3L625.6 446.8L625.9 445.2L626.2 444.8L626.5 446.6L626.8 448L627.1 446.4L627.4 447.5L627.8 448.8L628.1 448.1L628.4 448.3L628.7 448.9L629 447.3L629.3 447.3L629.6 447.1L629.9 450.4L630.2 447.1L630.5 450.2L630.8 449.2L631.1 448.9L631.4 449.3L631.8 450.1L632.1 451.9L632.4 451.5L632.7 451.3L633 450.4L633.3 450.9L633.6 451.8L633.9 451.6L634.2 452.4L634.5 450.9L634.8 451.6L635.1 453.1L635.4 452.7L635.8 453.1L636.1 453.3L636.4 454.1L636.7 453.6L637 453.7L637.3 454.3L637.6 454.6L637.9 452.5L638.2 454.9L638.5 452.6L638.8 455.1L639.1 453.9L639.4 453.6L639.8 454.5L640.1 452.3L640.4 454.1L640.7 453.5L641 454.4L641.3 453.7L641.6 453.7L641.9 453.5L642.2 454.7L642.5 454.7L642.8 454L643.1 454.8L643.4 454.4L643.8 454.9L644.1 455.3L644.4 454.3L644.7 453.9L645 454.3L645.3 454.4L645.6 454.9L645.9 453.6L646.2 455.6L646.5 453.5L646.8 454.5L647.1 455.6L647.4 456.3L647.8 454.3L648.1 455.9L648.4 454.9L648.7 453.8L649 454.4L649.3 454L649.6 453.6L649.9 455.2L650.2 453.6L650.5 455.1L650.8 453.6L651.1 453.6L651.4 454.5L651.7 453.7L652.1 454L652.4 453.5L652.7 454.6L653 454.2L653.3 453.8L653.6 454.2L653.9 455.1L654.2 453.8L654.5 455.2L654.8 455.3L655.1 455.6L655.4 455L655.7 453.8L656.1 455L656.4 454.1L656.7 454.3L657 454L657.3 452.6L657.6 453.1L657.9 454.6L658.2 454.5L658.5 455.4L658.8 454.2L659.1 454.5L659.4 454.1L659.7 456.2L660.1 455.3L660.4 456.2L660.7 454.6L661 457.2L661.3 456.4L661.6 456.2L661.9 455.9L662.2 455.6L662.5 455.1L662.8 454.9L663.1 456.6L663.4 455.7L663.7 455.2L664.1 455L664.4 454.9L664.7 454.6L665 453.3L665.3 454.9L665.6 454.4L665.9 453.7L666.2 452.2L666.5 454L666.8 454.3L667.1 453L667.4 453.9L667.7 454.8L668.1 453.7L668.4 455.2L668.7 455.9L669 455.7L669.3 453.9L669.6 456L669.9 454.5L670.2 455.2L670.5 456.4L670.8 455.8L671.1 455.3L671.4 454.9L671.7 455.4L672.1 454.8L672.4 455.8L672.7 455.8L673 454.9L673.3 455.2L673.6 455.1L673.9 455.3L674.2 455.7L674.5 454.7L674.8 455.6L675.1 455.1L675.4 456.9L675.7 455L676.1 455.5L676.4 454.6L676.7 456.9L677 455.1L677.3 454.5L677.6 455.3L677.9 455.4L678.2 455L678.5 454.6L678.8 454.9L679.1 456.1L679.4 454.7L679.7 456.3L680.1 455.4L680.4 454.7L680.7 456.1L681 456.9L681.3 455.6L681.6 455.5L681.9 456.5L682.2 456.3L682.5 455.4L682.8 455L683.1 453L683.4 454.8L683.7 453L684.1 453.3L684.4 454.2L684.7 454L685 454.1L685.3 453.7L685.6 454.8L685.9 454.5L686.2 453.7L686.5 453.6L686.8 454.2L687.1 454.5L687.4 454.2L687.7 454.5L688.1 454.7L688.4 455.8L688.7 454.9L689 454L689.3 454.4L689.6 455.7L689.9 453.4L690.2 453.5L690.5 454.7L690.8 455.6L691.1 455.4L691.4 456.1L691.7 454.5L692 455.8L692.4 455.2L692.7 455.8L693 455.7L693.3 456.1L693.6 456.5L693.9 456.5L694.2 454.6L694.5 455.1L694.8 454.9L695.1 455.4L695.4 455.4L695.7 456.4L696 455.9L696.4 454.7L696.7 456L697 456.2L697.3 454.1L697.6 456.2L697.9 455.8L698.2 454.4L698.5 454.5L698.8 453.9L699.1 455L699.4 454.8L699.7 455.1L700 454.7L700.4 454.9L700.7 456.7L701 457.2L701.3 454.6L701.6 454.7L701.9 456.2L702.2 456.1L702.5 456.3L702.8 454.8L703.1 454.2L703.4 453.6L703.7 454.9L704 454.7L704.4 453.8L704.7 454.7L705 453.6L705.3 453.7L705.6 455.3L705.9 456L706.2 455.9L706.5 455.4L706.8 456.1L707.1 453.2L707.4 455.4L707.7 453.9L708 455L708.4 455.2L708.7 455.4L709 455L709.3 455.3L709.6 454.8L709.9 455.1L710.2 454.3L710.5 455.3L710.8 455L711.1 455.1L711.4 454.6L711.7 454.4L712 453.9L712.4 454.5L712.7 455.1L713 454L713.3 454.8L713.6 453.4L713.9 455.7L714.2 454L714.5 453.6L714.8 453.5L715.1 453.2L715.4 453.3L715.7 453.3L716 453.9L716.4 453.9L716.7 453L717 452.2L717.3 454.7L717.6 453.5L717.9 453.6L718.2 453.1L718.5 453.7L718.8 453.3L719.1 452.5L719.4 453.2L719.7 450.8L720 453.1L720.4 451.3L720.7 452L721 451.1L721.3 451.2L721.6 450.6L721.9 451.2L722.2 452.2L722.5 451.2L722.8 450.5L723.1 452.4L723.4 450.6L723.7 451.8L724 450.6L724.4 450.9L724.7 450.2L725 450.8L725.3 449.6L725.6 450.5L725.9 450L726.2 448.6L726.5 448.3L726.8 448.5L727.1 449.5L727.4 449.1L727.7 448.9L728 447.6L728.4 448.9L728.7 447.3L729 448.6L729.3 447.3L729.6 447L729.9 447.6L730.2 448.5L730.5 446.8L730.8 447L731.1 448.2L731.4 446.9L731.7 447.2L732 447.3L732.3 447.9L732.7 447.5L733 447.2L733.3 447.1L733.6 446.5L733.9 445.7L734.2 445.8L734.5 446L734.8 444.7L735.1 445.3L735.4 445.4L735.7 443.6L736 444.7L736.3 444.5L736.7 443L737 443.8L737.3 444.2L737.6 442.4L737.9 442.7L738.2 444.5L738.5 443.1L738.8 444.6L739.1 443.6L739.4 444.1L739.7 443.6L740 442.9L740.3 442.2L740.7 443.5L741 444.6L741.3 443.5L741.6 444.7L741.9 443.2L742.2 445L742.5 445.3L742.8 446.7L743.1 445.9L743.4 446.2L743.7 446L744 447.5L744.3 447.8L744.7 449.3L745 448.2L745.3 448.9L745.6 449.3L745.9 449.8L746.2 448.6L746.5 449.4L746.8 450.6L747.1 449.3L747.4 449.9L747.7 450L748 450.5L748.3 449.9L748.7 448.5L749 451.1L749.3 450.3L749.6 451.7L749.9 452L750.2 451L750.5 451.5L750.8 451.9L751.1 452.8L751.4 452.4L751.7 452.2L752 451.5L752.3 453.5L752.7 453.9L753 453.1L753.3 454.8L753.6 455L753.9 453.1L754.2 455.1L754.5 454.9L754.8 454.5L755.1 452.5L755.4 454.4L755.7 454.2L756 452.6L756.3 453.5L756.7 453.4L757 453.2L757.3 452.5L757.6 454L757.9 453.5L758.2 453L758.5 454.1L758.8 453.1L759.1 454.1L759.4 455.7L759.7 453.6L760 454.4L760.3 455L760.7 454.7L761 453.5L761.3 454.5L761.6 453.7L761.9 454.6L762.2 454.5L762.5 454L762.8 454.6L763.1 454.8L763.4 453.4L763.7 453.4L764 453.9L764.3 454.7L764.7 455.3L765 455.3L765.3 455L765.6 453.9L765.9 454.7L766.2 454.8L766.5 453.3L766.8 453.7L767.1 454.7L767.4 456L767.7 455L768 455.1L768.3 454.3L768.7 453.4L769 456L769.3 454.5L769.6 455.8L769.9 454.5L770.2 456.3L770.5 454.6L770.8 454.4L771.1 453.9L771.4 456L771.7 455L772 455.3L772.3 455L772.7 454.7L773 455.1L773.3 454.3L773.6 455.8L773.9 454.1L774.2 455.3L774.5 456.3L774.8 454.2L775.1 455L775.4 455.4L775.7 452.9L776 454.6L776.3 455.2L776.6 454.4L777 454.8L777.3 454.2L777.6 454.9L777.9 454.1L778.2 455.3L778.5 453.6L778.8 454.8L779.1 454.9L779.4 453.6L779.7 454L780 454L780.3 456.3L780.6 453.9L781 456.1L781.3 454.3L781.6 453.5L781.9 453.6L782.2 454.3L782.5 456L782.8 454.1L783.1 454.9L783.4 454.6L783.7 454.6L784 454.7L784.3 455.8L784.6 454.7L785 454.5L785.3 456.4L785.6 454.6L785.9 455.7L786.2 457.1L786.5 455.8L786.8 456.4L787.1 455.8L787.4 455L787.7 454.8L788 454.3L788.3 457L788.6 455.4L789 455.8L789.3 455.4L789.6 454.9L789.9 455.2L790.2 455.1L790.5 454.9L790.8 455.7L791.1 453.4L791.4 456.2L791.7 455.1L792 454.8L792.3 454.1L792.6 454L793 455.9L793.3 455.6L793.6 455.1L793.9 454.8L794.2 455.5L794.5 455.5L794.8 455.3L795.1 454.6L795.4 455.7L795.7 454.5L796 454.6L796.3 454.7L796.6 453.9L797 455L797.3 455.4L797.6 456.2L797.9 455.7L798.2 455.4L798.5 455L798.8 455.4L799.1 455.3L799.4 454.3L799.7 454.1L800 455.3L800.3 456.1L800.6 455.4L801 455.4L801.3 456.4L801.6 455.3L801.9 456L802.2 454.3L802.5 455.4L802.8 456.5L803.1 455L803.4 455.3L803.7 454.9L804 456.6L804.3 456.3L804.6 455.8L805 456.4L805.3 455.4L805.6 455.2L805.9 455.7L806.2 455.7L806.5 455.2L806.8 454.8L807.1 454.5L807.4 454L807.7 455.6L808 455.5L808.3 454L808.6 456.2L809 455.5L809.3 454.6L809.6 455.4L809.9 455.8L810.2 454.9L810.5 454L810.8 454.4L811.1 454.8L811.4 454.5L811.7 455L812 454.3L812.3 455.7L812.6 453.8L813 455L813.3 453.4L813.6 454.7L813.9 454.8L814.2 454L814.5 454.6L814.8 454L815.1 454.8L815.4 453.9L815.7 453.7L816 456.5L816.3 455.7L816.6 455.6L816.9 454.6L817.3 454.8L817.6 454L817.9 453.9L818.2 454.2L818.5 454.1L818.8 453L819.1 453.8L819.4 453L819.7 455.3L820 455.9L820.3 453.3L820.6 453.8L820.9 453.5L821.3 452.9L821.6 454.5L821.9 455L822.2 453.9L822.5 453.8L822.8 454.1L823.1 453.8L823.4 453.4L823.7 453.1L824 453.3L824.3 453.4L824.6 452.1L824.9 452L825.3 452.7L825.6 452.6L825.9 454.2L826.2 452.9L826.5 452.6L826.8 454.4L827.1 452.6L827.4 453.7L827.7 452.9L828 452.1L828.3 452.9L828.6 453.6L828.9 453.5L829.3 453.6L829.6 452.3L829.9 452.4L830.2 451.2L830.5 450.9L830.8 450.7L831.1 451.2L831.4 450.8L831.7 449.3L832 451.4L832.3 450.6L832.6 450L832.9 450.4L833.3 449.3L833.6 449.6L833.9 451.7L834.2 451.4L834.5 451.8L834.8 449.5L835.1 450L835.4 451.6L835.7 450.2L836 450.8L836.3 451.2L836.6 451.1L836.9 452.1L837.3 452.8L837.6 451L837.9 451.8L838.2 453.1L838.5 451.8L838.8 452L839.1 453.3L839.4 452.2L839.7 452.5L840 452.6L840.3 452.1L840.6 451.6L840.9 453.7L841.3 451.8L841.6 452.2L841.9 452.5L842.2 451.7L842.5 453.3L842.8 453.6L843.1 453L843.4 453L843.7 454.8L844 452.6L844.3 452.9L844.6 451L844.9 453.5L845.3 453L845.6 451.3L845.9 451.7L846.2 451.6L846.5 452.5L846.8 453.2L847.1 452.8L847.4 452.7L847.7 452.2L848 453.2L848.3 451.4L848.6 453.3L848.9 452.1L849.3 451.8L849.6 451.7L849.9 453.6L850.2 453.1L850.5 451.3L850.8 451L851.1 452.3L851.4 452.4L851.7 452.6L852 452.5L852.3 453.3L852.6 453.4L852.9 451.5L853.3 451.2L853.6 452L853.9 452.7L854.2 452.4L854.5 451.6L854.8 451.7L855.1 450.6L855.4 451.8L855.7 452.1L856 450.6L856.3 451L856.6 450.6L856.9 451L857.3 451.4L857.6 451.9L857.9 451.7L858.2 451.3L858.5 453.3L858.8 451.9L859.1 452.3L859.4 452.8L859.7 453L860 452.2L860.3 451.2L860.6 451.8L860.9 451.5L861.2 452.4L861.6 451.9L861.9 451.8L862.2 452.8L862.5 451.3L862.8 452L863.1 452.5L863.4 453.7L863.7 452.9L864 453.5L864.3 454.3L864.6 452.9L864.9 452.3L865.2 452.9L865.6 452.1L865.9 452.4L866.2 452L866.5 452.2L866.8 452.4L867.1 453.6L867.4 454.1L867.7 454.5L868 454.4L868.3 454.1L868.6 455L868.9 454.3L869.2 455.6L869.6 455.4L869.9 455.6L870.2 454.9L870.5 454.5L870.8 454.3L871.1 454.6L871.4 453.3L871.7 453.7L872 453.3L872.3 453.2L872.6 454.9L872.9 453.3L873.2 453.6L873.6 454.6L873.9 453.1L874.2 454.4L874.5 454.4L874.8 454L875.1 455.5L875.4 456.5L875.7 455.4L876 455L876.3 455.3L876.6 456.1L876.9 455.5L877.2 456L877.6 455.2L877.9 454.4L878.2 454.8L878.5 454.3L878.8 455.1L879.1 454.8L879.4 454.7L879.7 455.6L880 454L880.3 454.9L880.6 455.2L880.9 455L881.2 455.8L881.6 454.2L881.9 454.5L882.2 454.6L882.5 455.3L882.8 454.7L883.1 454.4L883.4 454.7L883.7 454.4L884 454.9L884.3 454.2L884.6 454.5L884.9 453.7L885.2 454.2L885.6 455.1L885.9 456L886.2 454.5L886.5 453.8L886.8 456L887.1 454L887.4 454.5L887.7 454.4L888 455.2L888.3 454.7L888.6 454.5L888.9 456.2L889.2 453.1L889.6 454.4L889.9 455.6L890.2 454.4L890.5 456.7L890.8 456.5L891.1 454.7L891.4 455.7L891.7 454.7L892 455.6L892.3 455.3L892.6 455L892.9 455.3L893.2 454L893.6 454.6L893.9 455.2L894.2 455.9L894.5 454.5L894.8 454.5L895.1 455.1L895.4 455L895.7 455.4L896 455.7L896.3 455.4L896.6 455.4L896.9 454.9L897.2 455.2L897.6 455.8L897.9 455.2L898.2 455.9L898.5 455.4L898.8 455.6L899.1 454.9L899.4 456.5L899.7 456.5L900 453.9L900.3 453.3L900.6 455.6L900.9 455.8L901.2 456L901.5 455.7L901.9 454.9L902.2 455.7L902.5 455.9L902.8 455.5L903.1 454.4L903.4 456.1L903.7 454.8L904 454.8L904.3 454.1L904.6 454.6L904.9 455.9L905.2 454.9L905.5 455.4L905.9 454.3L906.2 454.5L906.5 454.8L906.8 454.9L907.1 454.1L907.4 456.1L907.7 454.2L908 453.5L908.3 454.9L908.6 455.5L908.9 454.9L909.2 453.4L909.5 453.7L909.9 454.2L910.2 454.5L910.5 453.9L910.8 454.7L911.1 453.6L911.4 455.6L911.7 453.3L912 453.5L912.3 453.6L912.6 453.4L912.9 454.4L913.2 452.7L913.5 452.3L913.9 451.9L914.2 453.9L914.5 453.1L914.8 453.3L915.1 454.5L915.4 453.4L915.7 452.6L916 452.6L916.3 452.7L916.6 453.8L916.9 452.9L917.2 451.8L917.5 452.4L917.9 451.4L918.2 451.8L918.5 451.4L918.8 451.9L919.1 453.9L919.4 452.1L919.7 452.6L920 453L920.3 452L920.6 453.4L920.9 452.9L921.2 450.2L921.5 451.8L921.9 449.5L922.2 450.2L922.5 450.7L922.8 449.6L923.1 449.7L923.4 450.2L923.7 450.5L924 450.3L924.3 449.6L924.6 450.2L924.9 449.5L925.2 450.3L925.5 449.1L925.9 449.6L926.2 449.4L926.5 449.7L926.8 450.1L927.1 449.4L927.4 449.4L927.7 449.1L928 449.4L928.3 447.9L928.6 448.8L928.9 450L929.2 448.8L929.5 448.6L929.9 448.9L930.2 449.2L930.5 449.5L930.8 449.7L931.1 449.3L931.4 450.2L931.7 450.3L932 450.4L932.3 449.4L932.6 450.6L932.9 450.9L933.2 450.8L933.5 452.1L933.9 451.4L934.2 451.5L934.5 450.8L934.8 451.1L935.1 451.6L935.4 451.6L935.7 452.9L936 452L936.3 452.8L936.6 452.6L936.9 452.5L937.2 452.1L937.5 452.7L937.9 453.3L938.2 451.4L938.5 450.9L938.8 451.7L939.1 452.2L939.4 452.8L939.7 453.2L940 452.1L940.3 453.4L940.6 453.1L940.9 450L941.2 452.6L941.5 453.5L941.8 453.2L942.2 454.8L942.5 451.3L942.8 453.1L943.1 453.9L943.4 454.1L943.7 453.4L944 454.8L944.3 453.5L944.6 454.4L944.9 454.3L945.2 454.2L945.5 453.9L945.8 455.2L946.2 453.7L946.5 454.9L946.8 455.1L947.1 455.2L947.4 455.2L947.7 455.7L948 454.4L948.3 456L948.6 454.4L948.9 454.2L949.2 455.3L949.5 454.8L949.8 455.5L950.2 455.9L950.5 455.9L950.8 455L951.1 456.2L951.4 456.6L951.7 455.6L952 453.9L952.3 455.6L952.6 455.1L952.9 455.8L953.2 454.9L953.5 455.4L953.8 455.2L954.2 454.4L954.5 455.1L954.8 454.5L955.1 455.1L955.4 455.1L955.7 455.3L956 453.9L956.3 453.9L956.6 453.8L956.9 456.5L957.2 456L957.5 456.5L957.8 456.4L958.2 455L958.5 455.2L958.8 455.9L959.1 455.2L959.4 455.5L959.7 454.6L960 455L960.3 455.7L960.6 456.8L960.9 458.3L961.2 456.4L961.5 455.6L961.8 455L962.2 456.6L962.5 457.3L962.8 454.9L963.1 456.5L963.4 456.6L963.7 455.6L964 455.6L964.3 455.6L964.6 455.4L964.9 456L965.2 455.8L965.5 455.6L965.8 455.1L966.2 455.4L966.5 454.4L966.8 455.7L967.1 455.8L967.4 455.9L967.7 455.1L968 454.1L968.3 455L968.6 456L968.9 455.7L969.2 455.6L969.5 455.7L969.8 455.5L970.2 456L970.5 454.5L970.8 454.9L971.1 456.4L971.4 456.4L971.7 456L972 456L972.3 455.6L972.6 455.5L972.9 456.1L973.2 456.7L973.5 456.4L973.8 454.9L974.2 456.5L974.5 455.4L974.8 456.4L975.1 457.8L975.4 457.4L975.7 456.2L976 456.3L976.3 456.6L976.6 457.1L976.9 455.8L977.2 455.7L977.5 455.2L977.8 455.7L978.2 454.4L978.5 455L978.8 455L979.1 455.5L979.4 455.6L979.7 456.9L980 456L980.3 455.4L980.6 455.5L980.9 457.2L981.2 457.9L981.5 456.8L981.8 456.5L982.2 455.8L982.5 456.9L982.8 455.6L983.1 457.1L983.4 456L983.7 456.2L984 456.3L984.3 456.3L984.6 456.4L984.9 455.6L985.2 455.7L985.5 456.1L985.8 457.6L986.1 455.4L986.5 456.4L986.8 456.2L987.1 455.5L987.4 454.5L987.7 455.9L988 456.9L988.3 454.7L988.6 454.5L988.9 456.6L989.2 455.5L989.5 455.9L989.8 456.2L990.1 455.2L990.5 455.4L990.8 455L991.1 454.3L991.4 456L991.7 455.5L992 457.5L992.3 455.1L992.6 456.6L992.9 456.3L993.2 456.7L993.5 455.5L993.8 456.1L994.1 457.2L994.5 455.1L994.8 457.2L995.1 456.1L995.4 455.1L995.7 455.5L996 454.8L996.3 455.7L996.6 455L996.9 455.8L997.2 456.6L997.5 456.6L997.8 456.2L998.1 455.7L998.5 455.9L998.8 455.4L999.1 456.1L999.4 456L999.7 457.1L1000 456.2L1000.3 455.4L1000.6 457.2L1000.9 456.8L1001.2 456.2L1001.5 454.1L1001.8 455.6L1002.1 455.6L1002.5 456.3L1002.8 455.6L1003.1 457L1003.4 455.5L1003.7 455.3L1004 455.9L1004.3 455.6"/>
<path class="cv" stroke="#ff0000" d="M81.7 527.9L82 531.7L82.3 530.9L82.6 526.8L82.9 526.6L83.2 526.3L83.5 532.1L83.9 528.6L84.2 528.4L84.5 530.4L84.8 527.4L85.1 529.2L85.4 527.4L85.7 530.8L86 528.5L86.3 530.9L86.6 532.3L86.9 530.1L87.2 531.1L87.5 528.2L87.9 527.3L88.2 529.1L88.5 528.7L88.8 526.8L89.1 528.6L89.4 531.2L89.7 528.6L90 529.2L90.3 528L90.6 529.9L90.9 530.5L91.2 531.1L91.5 530.7L91.9 530.6L92.2 529.7L92.5 529.3L92.8 528.8L93.1 525.2L93.4 529.5L93.7 528.5L94 528.7L94.3 527.1L94.6 530.9L94.9 527L95.2 529.7L95.5 528.1L95.9 528.5L96.2 529.1L96.5 531.2L96.8 529.6L97.1 529.6L97.4 530.9L97.7 528.9L98 529.7L98.3 528.8L98.6 530.9L98.9 531.7L99.2 530.2L99.5 530.7L99.9 529.1L100.2 532L100.5 529.5L100.8 530.2L101.1 529.2L101.4 530.4L101.7 527.4L102 530.5L102.3 528.8L102.6 531.9L102.9 530.9L103.2 529.3L103.5 528.7L103.8 528.2L104.2 530.5L104.5 528.5L104.8 531.8L105.1 527.5L105.4 527.6L105.7 527.8L106 526.6L106.3 529.2L106.6 527.5L106.9 530.7L107.2 529L107.5 525.9L107.8 527.6L108.2 529L108.5 530.7L108.8 528.5L109.1 528.7L109.4 527L109.7 530.6L110 525.2L110.3 529L110.6 528.7L110.9 529.4L111.2 529.5L111.5 529.9L111.8 528.5L112.2 526.4L112.5 531.5L112.8 528.2L113.1 530.4L113.4 527.8L113.7 529.5L114 528.6L114.3 527.8L114.6 529.9L114.9 524.3L115.2 527.3L115.5 528.2L115.8 529.3L116.2 528.7L116.5 526.5L116.8 530L117.1 527.9L117.4 530.7L117.7 530.6L118 530.3L118.3 531.6L118.6 530.7L118.9 527.6L119.2 526L119.5 530.5L119.8 532L120.2 527.3L120.5 528.7L120.8 526.8L121.1 527.5L121.4 532.6L121.7 529.3L122 528.9L122.3 529.1L122.6 527.3L122.9 529.7L123.2 531.9L123.5 531.2L123.8 528.9L124.2 527.6L124.5 529.2L124.8 528.3L125.1 528.1L125.4 527.1L125.7 529L126 527.7L126.3 527.4L126.6 527.5L126.9 529.1L127.2 527.3L127.5 527.4L127.8 525.1L128.2 528.8L128.5 531.9L128.8 530.3L129.1 528.8L129.4 527.3L129.7 527.9L130 528.1L130.3 529.4L130.6 528.6L130.9 529.4L131.2 527.8L131.5 526.6L131.8 530.8L132.2 525.7L132.5 525.6L132.8 525.4L133.1 525.5L133.4 527.2L133.7 526.8L134 525.2L134.3 526.9L134.6 529.2L134.9 526.8L135.2 527L135.5 527.6L135.8 525.3L136.2 530.6L136.5 528.4L136.8 525.8L137.1 527L137.4 523L137.7 526.5L138 525.7L138.3 525.8L138.6 524.2L138.9 526.5L139.2 523.8L139.5 526.6L139.8 524.6L140.2 522.9L140.5 524.6L140.8 527.9L141.1 523L141.4 524.2L141.7 526.7L142 524.2L142.3 524.6L142.6 523.6L142.9 525.1L143.2 524.1L143.5 525.9L143.8 521.6L144.2 525.7L144.5 523.8L144.8 523.2L145.1 523.9L145.4 522L145.7 521.2L146 524L146.3 521L146.6 519.5L146.9 521.2L147.2 521.2L147.5 521L147.8 518.2L148.1 517.1L148.5 516.2L148.8 516.7L149.1 518.6L149.4 518.1L149.7 518.4L150 516.8L150.3 515.1L150.6 519.2L150.9 514.5L151.2 511.1L151.5 513.4L151.8 510.8L152.1 509.2L152.5 507.9L152.8 506.7L153.1 502.5L153.4 502.4L153.7 501.7L154 502.3L154.3 496.5L154.6 494.3L154.9 494.3L155.2 490.5L155.5 487.4L155.8 482.4L156.1 481.7L156.5 476L156.8 472.1L157.1 468.2L157.4 463.2L157.7 460.4L158 451.2L158.3 439.7L158.6 437L158.9 430.4L159.2 421.8L159.5 409.5L159.8 398.7L160.1 394.7L160.5 386.5L160.8 370.9L161.1 368.5L161.4 363.9L161.7 367.8L162 370.8L162.3 375.8L162.6 391.8L162.9 398.2L163.2 405L163.5 414L163.8 420.6L164.1 432.2L164.5 435.6L164.8 452.1L165.1 453.7L165.4 461.1L165.7 465.7L166 473.1L166.3 479.3L166.6 476.7L166.9 485.9L167.2 487.6L167.5 493.2L167.8 494.9L168.1 493.6L168.5 497.9L168.8 503.2L169.1 503.2L169.4 504.2L169.7 507.7L170 507.9L170.3 511.6L170.6 510.7L170.9 510.8L171.2 513.2L171.5 513.4L171.8 516.4L172.1 514.8L172.5 516.1L172.8 520.5L173.1 518.9L173.4 517.9L173.7 519.4L174 517.8L174.3 522.7L174.6 521L174.9 523.5L175.2 524.2L175.5 524.3L175.8 525L176.1 525.2L176.5 527.2L176.8 525L177.1 525.1L177.4 521.4L177.7 523.3L178 522.6L178.3 525.1L178.6 525.7L178.9 525.9L179.2 523.2L179.5 527.2L179.8 526.9L180.1 526.6L180.5 525.4L180.8 527.4L181.1 528L181.4 529.1L181.7 526.6L182 527.2L182.3 526.9L182.6 528.6L182.9 528.6L183.2 528.8L183.5 528L183.8 530.2L184.1 530.5L184.5 530.7L184.8 528L185.1 530.4L185.4 530.3L185.7 529L186 530.2L186.3 531.2L186.6 530.6L186.9 531.2L187.2 531.8L187.5 530.9L187.8 530.4L188.1 530.4L188.4 530.6L188.8 530.7L189.1 530L189.4 530.3L189.7 529.2L190 528.9L190.3 530.3L190.6 529.2L190.9 529.3L191.2 530L191.5 530.9L191.8 530L192.1 532.7L192.4 530.4L192.8 529.7L193.1 534.2L193.4 530.5L193.7 533.3L194 531.9L194.3 531.7L194.6 530.9L194.9 532L195.2 531.4L195.5 532.8L195.8 531.9L196.1 532.2L196.4 534.6L196.8 531.1L197.1 530.6L197.4 530.7L197.7 532.1L198 533.5L198.3 531.1L198.6 532.6L198.9 531L199.2 531.6L199.5 529.8L199.8 530.6L200.1 533.5L200.4 533.5L200.8 533.2L201.1 533.2L201.4 529.9L201.7 532L202 531.2L202.3 533.1L202.6 532.8L202.9 534.5L203.2 535.2L203.5 534.3L203.8 533.5L204.1 535.1L204.4 533L204.8 534.9L205.1 532.6L205.4 533.7L205.7 534.2L206 533.9L206.3 532.6L206.6 533.7L206.9 534.5L207.2 534.6L207.5 536.2L207.8 533.8L208.1 533.2L208.4 530.8L208.8 532.4L209.1 531.5L209.4 535.1L209.7 532.9L210 531.2L210.3 532.9L210.6 532.8L210.9 533.8L211.2 533.9L211.5 533.8L211.8 533.5L212.1 533.7L212.4 531.7L212.8 532.2L213.1 534L213.4 534.6L213.7 533.4L214 536.4L214.3 535.5L214.6 534.6L214.9 535L215.2 535.6L215.5 532.8L215.8 535.3L216.1 534.4L216.4 535.5L216.8 535L217.1 533L217.4 535.9L217.7 535.8L218 536.4L218.3 533.8L218.6 535.8L218.9 534.2L219.2 533.7L219.5 536.8L219.8 534.6L220.1 535.8L220.4 535.3L220.8 536.4L221.1 535.2L221.4 536.2L221.7 536.5L222 532.5L222.3 535.4L222.6 534.3L222.9 537.7L223.2 536.6L223.5 536L223.8 537.1L224.1 536.3L224.4 535.2L224.8 537.5L225.1 537.7L225.4 536.8L225.7 536.5L226 535.6L226.3 534.7L226.6 535.7L226.9 534.7L227.2 535.4L227.5 535.1L227.8 534.4L228.1 536.1L228.4 535.5L228.7 535.4L229.1 538L229.4 535.7L229.7 534.5L230 535L230.3 536.6L230.6 537.6L230.9 536.7L231.2 535.8L231.5 535.2L231.8 536.1L232.1 537.8L232.4 536.5L232.7 535.3L233.1 536.2L233.4 535.1L233.7 535.4L234 536.4L234.3 536.5L234.6 536.6L234.9 535.3L235.2 536.7L235.5 535.8L235.8 535.3L236.1 534.8L236.4 535.5L236.7 535.7L237.1 535.3L237.4 532L237.7 534.4L238 537.6L238.3 534.5L238.6 536.8L238.9 536.8L239.2 536.4L239.5 538.3L239.8 536.1L240.1 536.7L240.4 537.2L240.7 537.9L241.1 537.8L241.4 540L241.7 536.6L242 537.6L242.3 538.3L242.6 536.5L242.9 536.6L243.2 537.8L243.5 534.8L243.8 537.3L244.1 535.4L244.4 536L244.7 536L245.1 537.5L245.4 535L245.7 534.1L246 535.9L246.3 535.4L246.6 537.1L246.9 537.9L247.2 538.2L247.5 536.5L247.8 536.7L248.1 538.8L248.4 537L248.7 536.4L249.1 539.5L249.4 537.3L249.7 537.7L250 537.5L250.3 537.1L250.6 536.9L250.9 537.2L251.2 536.4L251.5 537.5L251.8 537L252.1 538.9L252.4 538.3L252.7 538.6L253.1 539.1L253.4 540L253.7 539.6L254 539.4L254.3 538.4L254.6 540.4L254.9 537.7L255.2 537.9L255.5 539.6L255.8 536.8L256.1 538.2L256.4 538.1L256.7 537.4L257.1 537.4L257.4 537.3L257.7 536.7L258 536.2L258.3 536L258.6 537.9L258.9 538.9L259.2 536L259.5 538.1L259.8 537.7L260.1 538.4L260.4 538.7L260.7 538.6L261.1 537.2L261.4 538.1L261.7 538.1L262 537.3L262.3 538.6L262.6 537.3L262.9 539.1L263.2 538.2L263.5 536.5L263.8 538.7L264.1 537.7L264.4 537.7L264.7 535.1L265.1 537.4L265.4 537.2L265.7 537.3L266 537.3L266.3 536.8L266.6 539.6L266.9 537.9L267.2 536L267.5 537.6L267.8 537.6L268.1 538.3L268.4 538.2L268.7 538.8L269.1 538.4L269.4 539.2L269.7 542.2L270 538.9L270.3 538L270.6 540.5L270.9 539.6L271.2 539.3L271.5 538.7L271.8 541.1L272.1 538.5L272.4 541L272.7 540.7L273 540.1L273.4 538.9L273.7 541.7L274 537.8L274.3 538.7L274.6 537.5L274.9 539.1L275.2 539.6L275.5 540L275.8 539L276.1 539.6L276.4 538.8L276.7 539L277 538.1L277.4 539.8L277.7 539.9L278 538.7L278.3 538.9L278.6 538L278.9 540.8L279.2 541.2L279.5 539.7L279.8 540.7L280.1 539.5L280.4 538.6L280.7 537.9L281 539.4L281.4 537.4L281.7 538L282 538.5L282.3 537.3L282.6 537.4L282.9 538L283.2 539L283.5 538.2L283.8 539.3L284.1 540.9L284.4 538.6L284.7 540.9L285 540.2L285.4 538.9L285.7 538.8L286 538.3L286.3 539.3L286.6 537.5L286.9 536.8L287.2 538.4L287.5 538.9L287.8 538.2L288.1 538L288.4 538.7L288.7 540L289 538.3L289.4 539.7L289.7 539.2L290 537.8L290.3 540.1L290.6 538.9L290.9 541.6L291.2 538.7L291.5 539L291.8 541.2L292.1 540.2L292.4 539.2L292.7 536.8L293 539.6L293.4 537.4L293.7 539.1L294 538.7L294.3 539.2L294.6 538.8L294.9 538.6L295.2 538.8L295.5 539.4L295.8 538.6L296.1 539.2L296.4 540.4L296.7 538.5L297 540.8L297.4 540.3L297.7 542.1L298 540.3L298.3 540L298.6 540.7L298.9 538.6L299.2 541L299.5 539.2L299.8 541.4L300.1 539.9L300.4 540.6L300.7 539.5L301 539.8L301.4 539.8L301.7 540.4L302 540.7L302.3 539.4L302.6 538.5L302.9 538.5L303.2 540.5L303.5 539.9L303.8 539.4L304.1 539.2L304.4 539.5L304.7 538.9L305 539.9L305.4 538.7L305.7 538L306 538.8L306.3 538L306.6 540.2L306.9 539.1L307.2 539.2L307.5 539.1L307.8 539.7L308.1 541.2L308.4 540.2L308.7 539.8L309 540.6L309.4 540.4L309.7 538.7L310 539.9L310.3 538.1L310.6 540.2L310.9 539.3L311.2 539.9L311.5 540.1L311.8 540L312.1 538.8L312.4 541.6L312.7 539.8L313 539.6L313.3 540.5L313.7 540.7L314 539.9L314.3 539.6L314.6 540.6L314.9 541.3L315.2 540.1L315.5 539.6L315.8 540.5L316.1 539.1L316.4 538.1L316.7 538.3L317 539L317.3 539.3L317.7 537.7L318 539.7L318.3 540L318.6 539L318.9 539.9L319.2 542.3L319.5 539.5L319.8 538.6L320.1 539.1L320.4 539.1L320.7 539.2L321 539.3L321.3 539.8L321.7 538.8L322 540.1L322.3 539.7L322.6 540L322.9 537.9L323.2 540.8L323.5 541.6L323.8 539.5L324.1 539.2L324.4 539.4L324.7 541L325 537.9L325.3 540.4L325.7 538.2L326 540.5L326.3 539.4L326.6 539.3L326.9 538.3L327.2 537.1L327.5 537.2L327.8 538.3L328.1 539.9L328.4 537.9L328.7 537.1L329 538.6L329.3 538.1L329.7 538.8L330 538.3L330.3 538L330.6 538.4L330.9 538.7L331.2 540.7L331.5 539.3L331.8 539.4L332.1 538L332.4 538.5L332.7 537.4L333 538.2L333.3 536.7L333.7 537.4L334 536.7L334.3 538.2L334.6 538.8L334.9 537.7L335.2 538.8L335.5 538.3L335.8 538.3L336.1 538.7L336.4 537L336.7 536.4L337 534.3L337.3 534.9L337.7 535.2L338 536.6L338.3 534.1L338.6 532.3L338.9 532.6L339.2 533.8L339.5 531.4L339.8 532.1L340.1 531.1L340.4 529.4L340.7 529.4L341 528.6L341.3 530.7L341.7 531.3L342 529.3L342.3 530.6L342.6 529.9L342.9 530.1L343.2 530L343.5 530.2L343.8 530L344.1 530.8L344.4 531.3L344.7 531L345 531.6L345.3 529.9L345.7 531.1L346 530.3L346.3 531.5L346.6 531.8L346.9 529.5L347.2 531.3L347.5 531.9L347.8 531.1L348.1 528.7L348.4 532.4L348.7 528.9L349 528.8L349.3 530.3L349.7 526.9L350 526.6L350.3 527.4L350.6 525.2L350.9 524.2L351.2 522.7L351.5 522L351.8 521.8L352.1 518.3L352.4 518.3L352.7 517.7L353 516.2L353.3 518.1L353.7 514.7L354 513.6L354.3 511.6L354.6 513.1L354.9 511.7L355.2 510.7L355.5 510.9L355.8 510.8L356.1 510.8L356.4 513.2L356.7 515.3L357 516.9L357.3 514.4L357.6 517.2L358 521.2L358.3 520.3L358.6 520.3L358.9 522.3L359.2 522.6L359.5 525.3L359.8 525.9L360.1 525.7L360.4 527L360.7 527.3L361 527.9L361.3 527.2L361.6 526.7L362 525.5L362.3 527.9L362.6 525.7L362.9 524.6L363.2 524.7L363.5 527.3L363.8 525.7L364.1 523.5L364.4 525.9L364.7 525L365 525.3L365.3 524.5L365.6 525.9L366 526.6L366.3 523.4L366.6 524.4L366.9 524.5L367.2 525L367.5 525.1L367.8 525.8L368.1 526.8L368.4 529.1L368.7 526.9L369 529.3L369.3 530.9L369.6 530.1L370 532.9L370.3 532.7L370.6 532.8L370.9 534.7L371.2 534.5L371.5 535.3L371.8 533.5L372.1 535.5L372.4 534.6L372.7 534.4L373 536L373.3 536.8L373.6 536.3L374 537.4L374.3 538.4L374.6 537L374.9 537.2L375.2 537.8L375.5 537.8L375.8 538.9L376.1 535.9L376.4 538.4L376.7 537.5L377 537.1L377.3 539.7L377.6 538.3L378 538.5L378.3 540.9L378.6 539.3L378.9 538.4L379.2 539.5L379.5 539.6L379.8 538L380.1 538.9L380.4 538.6L380.7 538.4L381 538.9L381.3 538L381.6 538.1L382 539.2L382.3 539.2L382.6 537.9L382.9 538.2L383.2 539.4L383.5 540.6L383.8 539.4L384.1 539.4L384.4 538.8L384.7 538.8L385 536.9L385.3 539.6L385.6 538.9L386 539.3L386.3 537.2L386.6 537.4L386.9 539L387.2 538.5L387.5 538.6L387.8 540.6L388.1 538.2L388.4 538.8L388.7 538.5L389 537.7L389.3 539.1L389.6 540.2L390 538.1L390.3 539.4L390.6 538.4L390.9 538.7L391.2 538.3L391.5 538.8L391.8 538.2L392.1 539.7L392.4 537.7L392.7 538.1L393 536.7L393.3 539.4L393.6 539.1L394 539L394.3 538.2L394.6 539.1L394.9 539.2L395.2 537.6L395.5 539.7L395.8 538.1L396.1 538.2L396.4 539.6L396.7 538.3L397 538.5L397.3 539.2L397.6 539.4L397.9 538.1L398.3 539L398.6 539L398.9 539L399.2 540.3L399.5 538.7L399.8 538.2L400.1 537.7L400.4 539.4L400.7 537.9L401 538.4L401.3 537.8L401.6 537.7L401.9 538.9L402.3 539.5L402.6 537.7L402.9 539.2L403.2 538.9L403.5 537.7L403.8 537.9L404.1 538.4L404.4 537.8L404.7 536.6L405 539.4L405.3 539.7L405.6 538.5L405.9 539.5L406.3 540.3L406.6 539.6L406.9 538.1L407.2 539L407.5 538.9L407.8 539L408.1 538.4L408.4 540.1L408.7 538.6L409 538.7L409.3 538.2L409.6 537.8L409.9 539.1L410.3 538.4L410.6 540.2L410.9 536.5L411.2 540.1L411.5 537.7L411.8 538.6L412.1 537.5L412.4 539.2L412.7 538.3L413 538.1L413.3 537.5L413.6 538.2L413.9 538.6L414.3 536.9L414.6 538.5L414.9 537.9L415.2 537.3L415.5 537.1L415.8 535.8L416.1 538.6L416.4 538L416.7 538.7L417 537.7L417.3 538.9L417.6 539.2L417.9 537.7L418.3 537.3L418.6 536.3L418.9 539.2L419.2 537.8L419.5 538.3L419.8 538.9L420.1 537.4L420.4 537.4L420.7 539.6L421 537.4L421.3 538.6L421.6 538.7L421.9 537.8L422.3 537.7L422.6 539.9L422.9 539.1L423.2 537.5L423.5 537.9L423.8 539.3L424.1 540L424.4 539.7L424.7 538.2L425 538.3L425.3 538.3L425.6 539L425.9 538.4L426.3 538.6L426.6 537.5L426.9 538.3L427.2 537.5L427.5 536.4L427.8 537.1L428.1 536.6L428.4 539L428.7 537.6L429 537.6L429.3 537.8L429.6 537.3L429.9 538L430.3 538.7L430.6 536.8L430.9 537.4L431.2 538L431.5 536.2L431.8 539L432.1 537.4L432.4 537.1L432.7 537.6L433 538.2L433.3 538.5L433.6 538.8L433.9 537.6L434.3 538.7L434.6 539L434.9 538.3L435.2 539.4L435.5 538.3L435.8 539L436.1 536.6L436.4 538.7L436.7 538.2L437 538.3L437.3 538.5L437.6 537.8L437.9 539.2L438.2 537.7L438.6 538.2L438.9 537.6L439.2 538L439.5 538.7L439.8 537.9L440.1 539.6L440.4 537.9L440.7 537.4L441 538.8L441.3 537.7L441.6 538.1L441.9 537.9L442.2 538.6L442.6 537.9L442.9 536.6L443.2 535.5L443.5 536.7L443.8 536.6L444.1 536.5L444.4 535L444.7 538.7L445 538.3L445.3 537.5L445.6 537L445.9 537.2L446.2 537.9L446.6 536.8L446.9 535.7L447.2 538L447.5 538.1L447.8 537.7L448.1 538.6L448.4 538.3L448.7 537.4L449 536.3L449.3 536.6L449.6 537.1L449.9 537.6L450.2 537.9L450.6 537.4L450.9 538.9L451.2 539.2L451.5 537.3L451.8 537.6L452.1 536.4L452.4 538.5L452.7 538.9L453 537.6L453.3 536L453.6 537.4L453.9 537.3L454.2 537.6L454.6 537.3L454.9 536.2L455.2 536.5L455.5 536.2L455.8 536.1L456.1 536.5L456.4 537.2L456.7 535.7L457 536.9L457.3 537.3L457.6 536.6L457.9 536.6L458.2 538.1L458.6 537.2L458.9 536.4L459.2 537.3L459.5 537.8L459.8 537.5L460.1 538L460.4 537.7L460.7 537.5L461 536.6L461.3 539L461.6 537L461.9 536.7L462.2 538.1L462.6 537L462.9 536.3L463.2 538.1L463.5 536.8L463.8 536.8L464.1 537.3L464.4 537.4L464.7 537.6L465 536.6L465.3 536.4L465.6 536.7L465.9 537.4L466.2 536.6L466.6 537.7L466.9 536.1L467.2 537.2L467.5 536.8L467.8 536.8L468.1 537.4L468.4 537.9L468.7 537.4L469 536.7L469.3 536.6L469.6 535.9L469.9 537.8L470.2 536.7L470.6 537.2L470.9 539.1L471.2 537L471.5 536.2L471.8 537.7L472.1 537.2L472.4 536.9L472.7 536.4L473 536.7L473.3 536.2L473.6 536.7L473.9 536.6L474.2 536.6L474.6 537.7L474.9 537.4L475.2 537.2L475.5 537.4L475.8 537.2L476.1 536.1L476.4 537.5L476.7 538.4L477 537.1L477.3 536.4L477.6 536.8L477.9 536.5L478.2 537.2L478.6 536.3L478.9 536L479.2 537.5L479.5 536.5L479.8 536.6L480.1 536.9L480.4 538L480.7 536.9L481 537.7L481.3 537.6L481.6 537.2L481.9 537.1L482.2 538L482.5 537.7L482.9 536.2L483.2 537.9L483.5 538.2L483.8 536.5L484.1 537.5L484.4 535.3L484.7 537.2L485 536.3L485.3 536.7L485.6 537.7L485.9 536.3L486.2 536.8L486.5 537.3L486.9 537.3L487.2 537.9L487.5 538.8L487.8 535.4L488.1 538.3L488.4 537.4L488.7 536.4L489 535.7L489.3 537.4L489.6 537.5L489.9 536L490.2 538.7L490.5 535.5L490.9 535.3L491.2 534.7L491.5 535.9L491.8 536.1L492.1 537.3L492.4 535.3L492.7 535.2L493 534.7L493.3 534.5L493.6 535.7L493.9 534.5L494.2 534.9L494.5 535.3L494.9 535.3L495.2 534.7L495.5 533.9L495.8 535.3L496.1 534.3L496.4 534.8L496.7 531.9L497 530.9L497.3 532.6L497.6 531.7L497.9 531.2L498.2 531L498.5 530.6L498.9 531.7L499.2 532.5L499.5 532.9L499.8 531L500.1 531.8L500.4 530.9L500.7 529.7L501 530.5L501.3 531.5L501.6 529.9L501.9 529.9L502.2 531L502.5 530.4L502.9 530.1L503.2 528.6L503.5 528.8L503.8 528.2L504.1 527.9L504.4 527.6L504.7 526.2L505 524.4L505.3 526.5L505.6 526.1L505.9 524L506.2 525.4L506.5 522.9L506.9 520.5L507.2 519.1L507.5 519.9L507.8 518.3L508.1 518L508.4 516.8L508.7 515.3L509 514.4L509.3 513.7L509.6 510.4L509.9 508.9L510.2 506.5L510.5 506.3L510.9 502.3L511.2 503.7L511.5 503.8L511.8 501.3L512.1 502.4L512.4 499.6L512.7 501.6L513 504.1L513.3 507L513.6 504.5L513.9 506.9L514.2 507.6L514.5 509.4L514.9 511.1L515.2 513L515.5 514.6L515.8 515.3L516.1 517.5L516.4 517.6L516.7 520.5L517 521.5L517.3 522.5L517.6 522.9L517.9 524.4L518.2 526.6L518.5 523.4L518.9 525.3L519.2 526.6L519.5 528.1L519.8 528.5L520.1 528.7L520.4 529.6L520.7 528.6L521 528.2L521.3 530.9L521.6 532.1L521.9 531.1L522.2 531.5L522.5 531.6L522.8 531.1L523.2 531.1L523.5 532.4L523.8 533.5L524.1 532.9L524.4 534.2L524.7 533L525 534.2L525.3 533.3L525.6 534.4L525.9 533.3L526.2 532L526.5 535.4L526.8 534.1L527.2 536.2L527.5 535.9L527.8 534L528.1 536.7L528.4 534.2L528.7 536.3L529 535.8L529.3 535.3L529.6 536.2L529.9 534.7L530.2 535.9L530.5 534.8L530.8 537L531.2 536.4L531.5 536.9L531.8 535.1L532.1 535.5L532.4 536.2L532.7 536.3L533 535.7L533.3 537.2L533.6 536.4L533.9 537.7L534.2 537.4L534.5 539.4L534.8 537.8L535.2 536.7L535.5 539.2L535.8 538.9L536.1 536.7L536.4 538.9L536.7 538.1L537 537.6L537.3 538.6L537.6 538.1L537.9 537.6L538.2 539L538.5 538.5L538.8 537.1L539.2 538.5L539.5 538.6L539.8 540L540.1 537.2L540.4 538L540.7 538L541 538.6L541.3 539L541.6 538.1L541.9 538.8L542.2 537.9L542.5 537.7L542.8 539.7L543.2 538.4L543.5 538.8L543.8 539.3L544.1 539.4L544.4 538.9L544.7 539.4L545 540.2L545.3 537.6L545.6 538.6L545.9 539.2L546.2 538.2L546.5 539.1L546.8 538.6L547.2 539.6L547.5 538.2L547.8 538.8L548.1 539.6L548.4 537.9L548.7 538.4L549 540L549.3 536.9L549.6 539L549.9 538.3L550.2 539L550.5 537.9L550.8 538.8L551.2 538.6L551.5 539L551.8 539.2L552.1 539.5L552.4 539.3L552.7 539.1L553 539.9L553.3 538.5L553.6 539.6L553.9 539L554.2 539.2L554.5 538.1L554.8 537.5L555.2 538.5L555.5 539.4L555.8 538.5L556.1 537.6L556.4 541L556.7 539.3L557 537.9L557.3 540.2L557.6 540.7L557.9 538.9L558.2 538.5L558.5 540.4L558.8 540L559.2 539.6L559.5 537.4L559.8 539.7L560.1 540.3L560.4 537.5L560.7 538.8L561 539.2L561.3 538.9L561.6 538.2L561.9 538.9L562.2 539.9L562.5 539L562.8 538.6L563.2 539.2L563.5 539.2L563.8 539.5L564.1 539.3L564.4 541L564.7 540.5L565 538.1L565.3 539L565.6 538.5L565.9 538.6L566.2 539.3L566.5 538.5L566.8 539.1L567.1 538.7L567.5 540.6L567.8 538.6L568.1 539.4L568.4 540L568.7 540.3L569 538.3L569.3 539.3L569.6 539.9L569.9 537.9L570.2 538.4L570.5 539.4L570.8 539.6L571.1 537.7L571.5 537.6L571.8 538.9L572.1 537.9L572.4 540.2L572.7 539.6L573 539.8L573.3 539L573.6 538.7L573.9 537.1L574.2 539.2L574.5 538.5L574.8 538.1L575.1 539.3L575.5 538.6L575.8 538.2L576.1 538L576.4 538.7L576.7 538.6L577 538L577.3 537.9L577.6 539.8L577.9 538.9L578.2 540.1L578.5 538.7L578.8 539.3L579.1 538.8L579.5 537.7L579.8 536.6L580.1 539.2L580.4 537.1L580.7 536.7L581 538.2L581.3 537.9L581.6 538.8L581.9 537.9L582.2 537.3L582.5 537L582.8 538.1L583.1 539.6L583.5 536.2L583.8 537.5L584.1 537.2L584.4 537.6L584.7 537.3L585 539.4L585.3 537.7L585.6 536.9L585.9 537.5L586.2 537.4L586.5 536.9L586.8 536.4L587.1 537.5L587.5 537.4L587.8 537.7L588.1 539.1L588.4 536.3L588.7 535.8L589 536.1L589.3 536L589.6 536.4L589.9 537L590.2 536.3L590.5 534.5L590.8 536.3L591.1 536L591.5 535.8L591.8 536.3L592.1 535L592.4 534.9L592.7 534.1L593 535.5L593.3 533.8L593.6 533.7L593.9 533.4L594.2 534.6L594.5 532.9L594.8 532.6L595.1 531.8L595.5 531.4L595.8 530.8L596.1 530.7L596.4 531.5L596.7 529.2L597 528.1L597.3 528.8L597.6 528.8L597.9 529.5L598.2 525.4L598.5 525.9L598.8 526.1L599.1 525.4L599.5 525.6L599.8 525.3L600.1 524.3L600.4 524.3L600.7 522.9L601 521.9L601.3 523.4L601.6 522L601.9 524.4L602.2 523.8L602.5 523.4L602.8 522.2L603.1 523.5L603.5 522.6L603.8 522.8L604.1 520.2L604.4 523L604.7 524L605 522.7L605.3 523.1L605.6 524.9L605.9 525.1L606.2 524.8L606.5 526.4L606.8 526.1L607.1 527.8L607.4 528.3L607.8 527.4L608.1 528.1L608.4 528.8L608.7 529L609 529.9L609.3 527.7L609.6 526.8L609.9 530L610.2 527.1L610.5 529.6L610.8 528.2L611.1 528.4L611.4 529.9L611.8 529L612.1 528.7L612.4 528.7L612.7 528.7L613 526.6L613.3 529.3L613.6 529.6L613.9 528.3L614.2 527.5L614.5 528L614.8 525.9L615.1 525.5L615.4 526.9L615.8 524.8L616.1 524.4L616.4 523.4L616.7 524L617 522.8L617.3 522.3L617.6 520.4L617.9 519.9L618.2 520.1L618.5 519L618.8 521.2L619.1 518.1L619.4 518.4L619.8 519.1L620.1 517.1L620.4 518.3L620.7 520.3L621 519.5L621.3 518.6L621.6 521.5L621.9 522.6L622.2 523.3L622.5 522.4L622.8 524.3L623.1 525L623.4 526.1L623.8 524.6L624.1 526.9L624.4 527.3L624.7 526.6L625 527.8L625.3 527.3L625.6 530.1L625.9 528.6L626.2 530.9L626.5 532.2L626.8 532.2L627.1 531.1L627.4 531.8L627.8 531.8L628.1 531.9L628.4 533.9L628.7 533.6L629 533.5L629.3 534.5L629.6 535.1L629.9 534.7L630.2 536.5L630.5 536.5L630.8 536.4L631.1 536.1L631.4 536.5L631.8 536.7L632.1 536.4L632.4 537L632.7 535.8L633 536.5L633.3 537L633.6 537.6L633.9 537.2L634.2 537.5L634.5 536.7L634.8 536.4L635.1 538.5L635.4 537.8L635.8 539L636.1 537.7L636.4 537.4L636.7 536.9L637 535.9L637.3 538.4L637.6 537.8L637.9 538L638.2 538.4L638.5 536.5L638.8 539L639.1 539.4L639.4 538.5L639.8 537.3L640.1 539.8L640.4 538L640.7 540L641 536.8L641.3 539.9L641.6 539.2L641.9 539L642.2 540.1L642.5 538.3L642.8 538.4L643.1 538.9L643.4 538.8L643.8 539.5L644.1 538.9L644.4 539.5L644.7 537.6L645 537.7L645.3 538.7L645.6 539.8L645.9 538.4L646.2 538.6L646.5 538.3L646.8 539.9L647.1 538.2L647.4 539.5L647.8 537.8L648.1 538.3L648.4 539.6L648.7 538.4L649 539.9L649.3 538.6L649.6 539.4L649.9 539.9L650.2 538.9L650.5 537.4L650.8 537.8L651.1 540.3L651.4 539.2L651.7 540.1L652.1 538.5L652.4 540.2L652.7 540.5L653 539L653.3 539.1L653.6 539L653.9 538.8L654.2 539.5L654.5 538.6L654.8 540.3L655.1 538.9L655.4 539.9L655.7 538.4L656.1 538.8L656.4 538.4L656.7 539.5L657 538.9L657.3 538.3L657.6 538.5L657.9 538.9L658.2 538.8L658.5 538.8L658.8 537.6L659.1 540.3L659.4 539.9L659.7 538.8L660.1 540.7L660.4 542.1L660.7 540.6L661 541.2L661.3 540.6L661.6 541.4L661.9 540.5L662.2 540.3L662.5 541.6L662.8 541.1L663.1 539.4L663.4 540.8L663.7 539L664.1 539.7L664.4 539.8L664.7 540.2L665 538.3L665.3 539.1L665.6 539.9L665.9 538.1L666.2 539.1L666.5 541L666.8 539.1L667.1 541L667.4 539L667.7 540.4L668.1 540.6L668.4 538.8L668.7 539.6L669 540.2L669.3 540.6L669.6 540.9L669.9 540L670.2 540.1L670.5 542.1L670.8 539.7L671.1 540.8L671.4 540.4L671.7 539.6L672.1 540.3L672.4 540.9L672.7 541.1L673 540.7L673.3 540.1L673.6 539.4L673.9 539.9L674.2 541.6L674.5 540.1L674.8 542.1L675.1 541.1L675.4 542.2L675.7 541.3L676.1 542.3L676.4 541.3L676.7 540.8L677 540.3L677.3 542L677.6 540.7L677.9 540.6L678.2 541.3L678.5 539.3L678.8 541.7L679.1 541.5L679.4 540.3L679.7 539.8L680.1 540.6L680.4 541L680.7 540.5L681 541L681.3 541L681.6 540.9L681.9 540.9L682.2 541.4L682.5 542.6L682.8 542.1L683.1 539.9L683.4 539.6L683.7 541.6L684.1 542.7L684.4 540L684.7 540.5L685 540.2L685.3 540.8L685.6 541.7L685.9 540.6L686.2 541.2L686.5 540L686.8 541.8L687.1 540.8L687.4 540.9L687.7 541.2L688.1 540.5L688.4 541.1L688.7 540.2L689 541L689.3 542.1L689.6 540.7L689.9 541L690.2 540.6L690.5 537.5L690.8 540.9L691.1 540.5L691.4 541L691.7 538.4L692 540.5L692.4 543.5L692.7 541.8L693 541.7L693.3 540.8L693.6 541.4L693.9 540.6L694.2 542.2L694.5 541.2L694.8 539.9L695.1 542.6L695.4 540.8L695.7 539.9L696 540.4L696.4 539.6L696.7 539.2L697 539.9L697.3 540.2L697.6 541.1L697.9 538.7L698.2 540.3L698.5 540.3L698.8 540.4L699.1 537.8L699.4 540.4L699.7 540.6L700 542.7L700.4 541.6L700.7 540.3L701 540.8L701.3 540.7L701.6 539.2L701.9 539L702.2 540.5L702.5 539.9L702.8 540.6L703.1 539.8L703.4 541L703.7 539.4L704 541.8L704.4 539.8L704.7 540.7L705 540.6L705.3 540L705.6 539.2L705.9 537.6L706.2 539.2L706.5 538.5L706.8 538.7L707.1 539.7L707.4 538.2L707.7 538.7L708 539L708.4 539L708.7 538.7L709 539.8L709.3 538.9L709.6 539.5L709.9 539.2L710.2 539.3L710.5 539L710.8 539.2L711.1 538.1L711.4 538.9L711.7 540.9L712 539.3L712.4 538.9L712.7 540L713 540L713.3 539.9L713.6 540.7L713.9 538.7L714.2 538.9L714.5 538.8L714.8 538.6L715.1 538.8L715.4 537.1L715.7 537.9L716 539.1L716.4 537.7L716.7 537.2L717 537.5L717.3 538.1L717.6 536.8L717.9 536.4L718.2 536.6L718.5 535.4L718.8 537.8L719.1 536.4L719.4 537.8L719.7 537.3L720 535.7L720.4 537L720.7 535.6L721 538L721.3 537.5L721.6 536.6L721.9 535.5L722.2 537.6L722.5 534.7L722.8 535.3L723.1 535.7L723.4 535.5L723.7 533.9L724 535.4L724.4 534.9L724.7 534.6L725 534.9L725.3 534.7L725.6 532.7L725.9 534L726.2 533.2L726.5 532.6L726.8 533.3L727.1 532.8L727.4 533.6L727.7 532.8L728 530.9L728.4 532L728.7 531L729 532L729.3 532.4L729.6 531.6L729.9 530.5L730.2 531.1L730.5 529.5L730.8 529.4L731.1 528.5L731.4 529.3L731.7 529L732 528.8L732.3 530L732.7 529.4L733 527.7L733.3 529.9L733.6 528.9L733.9 526.9L734.2 527.2L734.5 527.6L734.8 527.9L735.1 527.4L735.4 526.5L735.7 526.9L736 526.3L736.3 527.9L736.7 528.6L737 526.8L737.3 527.6L737.6 527.6L737.9 526.9L738.2 529L738.5 528.2L738.8 530.5L739.1 529.7L739.4 528.3L739.7 528.4L740 529.4L740.3 528.7L740.7 531.3L741 530.5L741.3 529.4L741.6 529.3L741.9 530.8L742.2 532.7L742.5 533.1L742.8 534.5L743.1 532.2L743.4 533.7L743.7 534.4L744 535.3L744.3 535.1L744.7 536.2L745 536.1L745.3 537.7L745.6 536.8L745.9 536.8L746.2 536.8L746.5 535.3L746.8 536.1L747.1 537.2L747.4 538.9L747.7 538.2L748 539.8L748.3 539.7L748.7 540.3L749 539.9L749.3 539.2L749.6 538.2L749.9 539.2L750.2 538.5L750.5 538.4L750.8 538.2L751.1 539.1L751.4 538.4L751.7 539.7L752 539.6L752.3 539.3L752.7 539.8L753 539.1L753.3 539.7L753.6 539.6L753.9 539.5L754.2 540.7L754.5 539.3L754.8 540.2L755.1 540.2L755.4 541L755.7 541.3L756 541.6L756.3 539.6L756.7 539.8L757 539.4L757.3 540.7L757.6 540.6L757.9 540.8L758.2 540.2L758.5 539.9L758.8 539.6L759.1 540.8L759.4 541.6L759.7 541.8L760 544L760.3 540.5L760.7 541.3L761 541.9L761.3 540.6L761.6 541.1L761.9 539.6L762.2 541L762.5 540.3L762.8 539.5L763.1 539.9L763.4 541.2L763.7 542L764 541.2L764.3 541L764.7 540.8L765 540.2L765.3 542.6L765.6 540.9L765.9 539.9L766.2 540.5L766.5 541.4L766.8 540.6L767.1 540.3L767.4 539.9L767.7 540.4L768 540.3L768.3 541.9L768.7 540.6L769 541.4L769.3 542.1L769.6 540L769.9 540.4L770.2 541.4L770.5 541.5L770.8 540.8L771.1 541.5L771.4 540L771.7 541.6L772 541.8L772.3 540.7L772.7 540.5L773 540.5L773.3 540.6L773.6 540.7L773.9 539.9L774.2 540.3L774.5 541.1L774.8 540.8L775.1 540.7L775.4 541.1L775.7 541L776 541.4L776.3 539.7L776.6 541.6L777 541.4L777.3 541L777.6 541.3L777.9 540.8L778.2 541.6L778.5 539.5L778.8 541.2L779.1 541.5L779.4 540.2L779.7 542.9L780 539.9L780.3 539.7L780.6 541.1L781 541.3L781.3 539.6L781.6 541.9L781.9 540.3L782.2 541.7L782.5 539.2L782.8 540.8L783.1 541.7L783.4 540.5L783.7 540.4L784 540.5L784.3 540.5L784.6 541.1L785 541.6L785.3 540.7L785.6 540.2L785.9 540.9L786.2 539.2L786.5 540.7L786.8 539.5L787.1 541L787.4 541.8L787.7 540.8L788 541L788.3 542.7L788.6 542.4L789 542L789.3 541.6L789.6 543.1L789.9 542.2L790.2 541.2L790.5 541.3L790.8 540.9L791.1 541.7L791.4 541.2L791.7 542.3L792 541.3L792.3 540.8L792.6 542.1L793 541.8L793.3 542.7L793.6 541.7L793.9 540.4L794.2 541.2L794.5 542.6L794.8 541.4L795.1 541.9L795.4 541L795.7 541.8L796 540.2L796.3 541.2L796.6 541.4L797 541.3L797.3 540.9L797.6 541.6L797.9 539.7L798.2 540L798.5 540.4L798.8 542L799.1 540.8L799.4 542L799.7 541.2L800 541.3L800.3 540.4L800.6 541.3L801 540.1L801.3 542.2L801.6 541.6L801.9 541.5L802.2 540.1L802.5 541.4L802.8 541.7L803.1 541.2L803.4 541L803.7 541.2L804 539.9L804.3 541L804.6 541.5L805 541.2L805.3 542.8L805.6 542L805.9 541.4L806.2 542.3L806.5 541.4L806.8 541.2L807.1 541.5L807.4 540.3L807.7 541.9L808 540.3L808.3 541.6L808.6 542.2L809 541.9L809.3 541L809.6 541.1L809.9 542.4L810.2 540.7L810.5 541.5L810.8 541.4L811.1 540.9L811.4 540.5L811.7 540.5L812 540.2L812.3 540.1L812.6 541.5L813 539.9L813.3 540.8L813.6 540L813.9 541.2L814.2 541.6L814.5 541.1L814.8 541.1L815.1 542.1L815.4 541.5L815.7 540.5L816 542.6L816.3 541.3L816.6 540.7L816.9 540.5L817.3 540.1L817.6 540.6L817.9 540.5L818.2 539.9L818.5 540.6L818.8 542L819.1 539.8L819.4 540.5L819.7 540.2L820 540.2L820.3 540.9L820.6 541.2L820.9 541.2L821.3 540.1L821.6 539.9L821.9 539.8L822.2 540.2L822.5 539.6L822.8 539.1L823.1 539.5L823.4 538.4L823.7 538.7L824 540.2L824.3 539.4L824.6 539.1L824.9 540L825.3 539L825.6 537.7L825.9 538.2L826.2 538.5L826.5 537.9L826.8 539.1L827.1 538.7L827.4 538.8L827.7 538.7L828 537.6L828.3 538.2L828.6 538L828.9 537.6L829.3 537.1L829.6 538.5L829.9 537.6L830.2 537.6L830.5 537.8L830.8 540L831.1 537L831.4 538.2L831.7 537.2L832 537.8L832.3 537.3L832.6 538.6L832.9 536.2L833.3 537.3L833.6 538.4L833.9 538.3L834.2 536.9L834.5 537.3L834.8 537.2L835.1 536.3L835.4 538.1L835.7 538.2L836 537.1L836.3 538.8L836.6 537.6L836.9 537.5L837.3 538.4L837.6 539.3L837.9 538.3L838.2 537.7L838.5 537.6L838.8 539L839.1 536.9L839.4 537.5L839.7 537.2L840 538.8L840.3 539.9L840.6 537.2L840.9 538L841.3 537.9L841.6 538.8L841.9 539.2L842.2 539.2L842.5 538.8L842.8 537.5L843.1 538.6L843.4 539.5L843.7 538.1L844 538.9L844.3 538.8L844.6 538.8L844.9 539L845.3 538.9L845.6 538.3L845.9 539.3L846.2 538.9L846.5 539.6L846.8 539.3L847.1 540.5L847.4 538.9L847.7 539.2L848 538.6L848.3 538.8L848.6 538.1L848.9 539.3L849.3 538.7L849.6 539.7L849.9 537.5L850.2 539.2L850.5 537.5L850.8 536.6L851.1 536.1L851.4 535.3L851.7 536.3L852 534.9L852.3 537.2L852.6 537.3L852.9 535.6L853.3 536.9L853.6 535.9L853.9 535.8L854.2 537.8L854.5 538.5L854.8 536.5L855.1 535.8L855.4 537.3L855.7 537.3L856 537.7L856.3 536.6L856.6 538L856.9 537.6L857.3 538L857.6 536.5L857.9 537L858.2 538.2L858.5 537.5L858.8 537.3L859.1 537.6L859.4 536.1L859.7 537.2L860 536.5L860.3 536L860.6 538.4L860.9 538.4L861.2 538.5L861.6 540L861.9 539.7L862.2 539.6L862.5 540.4L862.8 540.9L863.1 539.5L863.4 538.4L863.7 538.8L864 538.4L864.3 537.1L864.6 540.4L864.9 540.8L865.2 540.5L865.6 540.6L865.9 539.6L866.2 538.9L866.5 540.1L866.8 539.8L867.1 540.9L867.4 540.9L867.7 540.8L868 542L868.3 540.6L868.6 540.9L868.9 540.5L869.2 540.6L869.6 541.6L869.9 540.3L870.2 540L870.5 539.4L870.8 539.8L871.1 539.6L871.4 540.7L871.7 538.9L872 538.9L872.3 539.8L872.6 541.5L872.9 542.2L873.2 541.9L873.6 541.5L873.9 541L874.2 541L874.5 541.2L874.8 542L875.1 542.7L875.4 541.4L875.7 540.5L876 540.3L876.3 540.3L876.6 539.9L876.9 539.8L877.2 540.4L877.6 539.5L877.9 541.3L878.2 542.4L878.5 542.5L878.8 542L879.1 540.2L879.4 541.1L879.7 540.6L880 538.4L880.3 539.8L880.6 540.1L880.9 539.8L881.2 540.3L881.6 541L881.9 542.6L882.2 541.7L882.5 540.8L882.8 541.4L883.1 541.3L883.4 541L883.7 540.5L884 541.6L884.3 541L884.6 542.7L884.9 540.4L885.2 541.2L885.6 542.7L885.9 540.7L886.2 540.4L886.5 542.2L886.8 540.2L887.1 541.3L887.4 540.5L887.7 540.2L888 541.2L888.3 540.2L888.6 541.4L888.9 542.4L889.2 542.3L889.6 541.2L889.9 541L890.2 542.4L890.5 541.7L890.8 542.5L891.1 542.5L891.4 540.7L891.7 542.5L892 541.5L892.3 541.8L892.6 541.5L892.9 541.7L893.2 542.5L893.6 542.6L893.9 542.4L894.2 541.2L894.5 540.5L894.8 542.5L895.1 543.1L895.4 541.2L895.7 541.1L896 541.3L896.3 541.4L896.6 541.1L896.9 541.4L897.2 542.1L897.6 541.8L897.9 540.8L898.2 540.3L898.5 540.1L898.8 540.4L899.1 540.1L899.4 540.7L899.7 541.3L900 541.1L900.3 541.5L900.6 540.7L900.9 540.3L901.2 541.5L901.5 538.8L901.9 540.6L902.2 541L902.5 542.6L902.8 540.6L903.1 540.6L903.4 540.2L903.7 540.7L904 541L904.3 541.4L904.6 540.8L904.9 541.5L905.2 542.2L905.5 539.8L905.9 541.9L906.2 541.8L906.5 541.2L906.8 541.3L907.1 542.6L907.4 540.6L907.7 541.3L908 541.3L908.3 540.6L908.6 541.4L908.9 541.5L909.2 540.2L909.5 540.1L909.9 539.6L910.2 539.8L910.5 539.5L910.8 539.2L911.1 541.1L911.4 539.5L911.7 539.5L912 540.1L912.3 539.5L912.6 538.2L912.9 539.1L913.2 539.8L913.5 539.1L913.9 537.9L914.2 538.3L914.5 539.7L914.8 540.6L915.1 538.9L915.4 541.9L915.7 540.3L916 539.4L916.3 541.2L916.6 541L916.9 539.4L917.2 541L917.5 540.1L917.9 539.8L918.2 538.6L918.5 540.6L918.8 539.4L919.1 539.1L919.4 538.4L919.7 537.3L920 538.2L920.3 537.5L920.6 537.4L920.9 536.6L921.2 538L921.5 537.2L921.9 536.3L922.2 535.4L922.5 536L922.8 536L923.1 535.2L923.4 534.7L923.7 534.6L924 535.5L924.3 535.5L924.6 535.8L924.9 533.2L925.2 534.3L925.5 533.6L925.9 531.7L926.2 533.6L926.5 534.5L926.8 534L927.1 533L927.4 532.4L927.7 533.5L928 531.9L928.3 533.7L928.6 532.6L928.9 532.4L929.2 532.4L929.5 532.7L929.9 530.3L930.2 533.6L930.5 532.8L930.8 532.6L931.1 533.8L931.4 533.9L931.7 534.4L932 534.2L932.3 533.2L932.6 534.9L932.9 533.3L933.2 533.2L933.5 532.9L933.9 532.8L934.2 534.1L934.5 533.7L934.8 534.7L935.1 535.1L935.4 535.2L935.7 536.2L936 536.1L936.3 535.3L936.6 535.9L936.9 536.8L937.2 535.5L937.5 536.1L937.9 536.4L938.2 538L938.5 536.7L938.8 536.6L939.1 535.3L939.4 536.9L939.7 537.3L940 537.8L940.3 537.8L940.6 537.8L940.9 539.2L941.2 539L941.5 539.8L941.8 539.3L942.2 539.3L942.5 540.4L942.8 540.6L943.1 541L943.4 540.1L943.7 540.9L944 540.8L944.3 541.4L944.6 540.6L944.9 540.1L945.2 540.5L945.5 538.7L945.8 540.8L946.2 539.9L946.5 540.2L946.8 541.7L947.1 540L947.4 540.5L947.7 540L948 540.9L948.3 541.6L948.6 541.5L948.9 540.4L949.2 540.5L949.5 540.2L949.8 542.6L950.2 541L950.5 541L950.8 540.2L951.1 541.3L951.4 541.7L951.7 540.5L952 540.2L952.3 538.9L952.6 540.2L952.9 541.9L953.2 540.3L953.5 541.4L953.8 540.8L954.2 540.4L954.5 542.6L954.8 540.8L955.1 540.4L955.4 540.9L955.7 541.6L956 540.2L956.3 539.8L956.6 540.1L956.9 540.2L957.2 541.2L957.5 539.9L957.8 540L958.2 540.4L958.5 543.1L958.8 541.6L959.1 540.8L959.4 540.9L959.7 541.1L960 542.3L960.3 541.9L960.6 543.3L960.9 541L961.2 541.7L961.5 542.8L961.8 543L962.2 542L962.5 543.5L962.8 542.5L963.1 542L963.4 540.1L963.7 542.3L964 542.1L964.3 541.8L964.6 542.4L964.9 542.1L965.2 541.9L965.5 542.8L965.8 542.4L966.2 542.7L966.5 541.2L966.8 542.8L967.1 541.8L967.4 543.2L967.7 542.7L968 541.8L968.3 541.9L968.6 541.3L968.9 541.1L969.2 541.8L969.5 541.9L969.8 542.5L970.2 541.1L970.5 541.5L970.8 542.4L971.1 541.4L971.4 542.2L971.7 542.3L972 542.2L972.3 541.9L972.6 542L972.9 541.2L973.2 540.4L973.5 539.4L973.8 540.7L974.2 541.9L974.5 540.9L974.8 540.5L975.1 541.3L975.4 541.5L975.7 542.6L976 541.5L976.3 543.2L976.6 541.1L976.9 541.9L977.2 541.5L977.5 541.1L977.8 541.8L978.2 541.4L978.5 541.5L978.8 542L979.1 543.1L979.4 542.8L979.7 542.2L980 542L980.3 542.8L980.6 541.9L980.9 543.1L981.2 542.2L981.5 541L981.8 542.1L982.2 540.7L982.5 543.7L982.8 543L983.1 542.7L983.4 541.5L983.7 543.1L984 541.7L984.3 540.8L984.6 540.3L984.9 542.6L985.2 541.4L985.5 540.4L985.8 541.6L986.1 541L986.5 540.5L986.8 542.2L987.1 542.4L987.4 540.4L987.7 542L988 541.9L988.3 541.9L988.6 542.1L988.9 540.5L989.2 541.5L989.5 541.6L989.8 541.6L990.1 542.4L990.5 542.2L990.8 542.4L991.1 541.5L991.4 543.2L991.7 541.5L992 542.8L992.3 541.4L992.6 541.9L992.9 541.4L993.2 541.3L993.5 542.4L993.8 542.4L994.1 541.6L994.5 542.4L994.8 541.9L995.1 541.9L995.4 541.7L995.7 541.9L996 542.5L996.3 541.6L996.6 540.9L996.9 542L997.2 540.7L997.5 542L997.8 540.7L998.1 542.4L998.5 541.9L998.8 541.4L999.1 542.5L999.4 541.5L999.7 542.6L1000 542.7L1000.3 542.2L1000.6 542.2L1000.9 541.3L1001.2 541.5L1001.5 542.8L1001.8 540.6L1002.1 541.3L1002.5 541.1L1002.8 542.1L1003.1 540.3L1003.4 540.6L1003.7 541.8L1004 540.8L1004.3 543.1"/>
<path class="cv" stroke="#000000" d="M81.7 621L82 622.7L82.3 621L82.6 624L82.9 623.5L83.2 622.4L83.5 623.2L83.9 623.4L84.2 623.8L84.5 622.3L84.8 625L85.1 620.3L85.4 624.4L85.7 619.3L86 621.4L86.3 623.8L86.6 622.2L86.9 623.3L87.2 623.2L87.5 623.1L87.9 620L88.2 620.2L88.5 621.2L88.8 622.3L89.1 622.5L89.4 621.8L89.7 621.1L90 624.1L90.3 622.6L90.6 622.6L90.9 621.4L91.2 621.6L91.5 622.7L91.9 623.4L92.2 623.7L92.5 622.4L92.8 619.8L93.1 622.8L93.4 620.4L93.7 621.2L94 621.7L94.3 621.1L94.6 623.8L94.9 623.1L95.2 623.6L95.5 621.5L95.9 622.7L96.2 623.3L96.5 619.7L96.8 619.9L97.1 619.5L97.4 618.5L97.7 619.9L98 620.4L98.3 619.5L98.6 619.2L98.9 621.5L99.2 618.8L99.5 619.8L99.9 622.2L100.2 621.6L100.5 619.5L100.8 625.3L101.1 624.1L101.4 623.6L101.7 621.5L102 621.5L102.3 624.7L102.6 623.1L102.9 622.9L103.2 623.2L103.5 620.1L103.8 622.4L104.2 621.5L104.5 623.8L104.8 622L105.1 620.7L105.4 620L105.7 621.5L106 618.4L106.3 622.5L106.6 620.1L106.9 620.9L107.2 617.7L107.5 618.8L107.8 624.4L108.2 621L108.5 621.4L108.8 618.7L109.1 617.8L109.4 619.7L109.7 621.7L110 621.2L110.3 618.8L110.6 619.7L110.9 619.9L111.2 617.2L111.5 620.7L111.8 622.1L112.2 621.7L112.5 620.9L112.8 620.4L113.1 621.2L113.4 620L113.7 619.1L114 619.9L114.3 620.1L114.6 623.4L114.9 620L115.2 620.9L115.5 620.5L115.8 619.9L116.2 622.3L116.5 620L116.8 621.4L117.1 622.2L117.4 622.5L117.7 623.1L118 622.9L118.3 620L118.6 624.7L118.9 621.4L119.2 628.2L119.5 624.7L119.8 621.9L120.2 622.6L120.5 623.2L120.8 625.5L121.1 623.3L121.4 621.9L121.7 622.6L122 622.4L122.3 621.8L122.6 622.2L122.9 622.9L123.2 622.2L123.5 619.4L123.8 619.6L124.2 620.4L124.5 621.1L124.8 619.6L125.1 621.7L125.4 619.9L125.7 619.8L126 619.9L126.3 621.7L126.6 619.9L126.9 621.1L127.2 619.9L127.5 621.1L127.8 620L128.2 619.9L128.5 619.5L128.8 620.9L129.1 621.4L129.4 622.8L129.7 620.9L130 619.7L130.3 619.6L130.6 621.9L130.9 621.2L131.2 619.7L131.5 621.9L131.8 623.7L132.2 618.7L132.5 621.7L132.8 621.4L133.1 621.1L133.4 619.9L133.7 616.9L134 618.8L134.3 620.3L134.6 619.2L134.9 619.1L135.2 624.1L135.5 619.5L135.8 623.5L136.2 620.1L136.5 620.2L136.8 621L137.1 622.2L137.4 621.4L137.7 620.7L138 621.3L138.3 622.6L138.6 620.3L138.9 620.8L139.2 618.8L139.5 619.7L139.8 621.4L140.2 622.9L140.5 618.4L140.8 620.9L141.1 621.5L141.4 622L141.7 618.3L142 618.8L142.3 620.4L142.6 617.9L142.9 619.3L143.2 619L143.5 619.3L143.8 617.6L144.2 619.1L144.5 618.7L144.8 619.7L145.1 618.6L145.4 617.9L145.7 618.6L146 618.7L146.3 617.9L146.6 619.9L146.9 617.3L147.2 616.9L147.5 616L147.8 614.1L148.1 615.7L148.5 616.2L148.8 616.5L149.1 615.6L149.4 614.6L149.7 615.7L150 613.6L150.3 612.6L150.6 614.5L150.9 612.7L151.2 611.7L151.5 609.8L151.8 608.5L152.1 608.6L152.5 608.4L152.8 608.6L153.1 609.5L153.4 608.4L153.7 607L154 606.7L154.3 602.4L154.6 603.9L154.9 600.4L155.2 598.9L155.5 597.5L155.8 593L156.1 587.1L156.5 585.3L156.8 583.7L157.1 577.4L157.4 570.7L157.7 568.3L158 558.4L158.3 555.4L158.6 547.6L158.9 542.5L159.2 528.6L159.5 517.8L159.8 511.9L160.1 493.1L160.5 485L160.8 472.3L161.1 466.1L161.4 445.6L161.7 446.4L162 446.3L162.3 462.2L162.6 470.5L162.9 488L163.2 501.1L163.5 515.3L163.8 523.4L164.1 534L164.5 543L164.8 550.5L165.1 556L165.4 564.5L165.7 567.9L166 573.3L166.3 575.5L166.6 581.2L166.9 586.1L167.2 588.1L167.5 591.2L167.8 592.3L168.1 596L168.5 598.8L168.8 601.4L169.1 602.2L169.4 605.8L169.7 606.5L170 607.8L170.3 608.5L170.6 610.1L170.9 611.4L171.2 612.3L171.5 611.2L171.8 613.1L172.1 614.3L172.5 613.6L172.8 613.5L173.1 614.5L173.4 617.8L173.7 616.6L174 615.8L174.3 614.6L174.6 617L174.9 616.9L175.2 616.1L175.5 617.3L175.8 617.7L176.1 618L176.5 620.5L176.8 619.5L177.1 620.5L177.4 619.9L177.7 619L178 620L178.3 621.1L178.6 621.4L178.9 623L179.2 623.2L179.5 622.8L179.8 621.2L180.1 622.5L180.5 622.4L180.8 622.6L181.1 622L181.4 622.7L181.7 623.3L182 621.7L182.3 621.7L182.6 619.4L182.9 620.1L183.2 620.9L183.5 620.6L183.8 622.3L184.1 622.2L184.5 623L184.8 620.9L185.1 621L185.4 623.4L185.7 621.4L186 623.4L186.3 622.7L186.6 625.5L186.9 622.1L187.2 621.8L187.5 623.5L187.8 625.1L188.1 626L188.4 623.6L188.8 625L189.1 622L189.4 625.4L189.7 623.6L190 620.6L190.3 623L190.6 621.9L190.9 621.7L191.2 623.8L191.5 621.9L191.8 622.1L192.1 624.2L192.4 624.5L192.8 622.8L193.1 622.8L193.4 623.8L193.7 625.2L194 624.5L194.3 624.7L194.6 623.7L194.9 623.4L195.2 623.4L195.5 624.2L195.8 623L196.1 623.9L196.4 624.2L196.8 623.4L197.1 624.2L197.4 624.5L197.7 625.8L198 626.7L198.3 624.4L198.6 624.8L198.9 623.5L199.2 625.4L199.5 626L199.8 623.4L200.1 624.7L200.4 625.2L200.8 625.9L201.1 625L201.4 625.5L201.7 626.4L202 624.8L202.3 625.2L202.6 625.5L202.9 625.4L203.2 625.8L203.5 625L203.8 627.5L204.1 625.3L204.4 625.2L204.8 626.5L205.1 627.3L205.4 624L205.7 627L206 626.1L206.3 623.7L206.6 625.5L206.9 624.7L207.2 625.2L207.5 625.2L207.8 624L208.1 625.7L208.4 624.1L208.8 627.7L209.1 624.3L209.4 625.8L209.7 625.1L210 624.9L210.3 626L210.6 625L210.9 625.6L211.2 626L211.5 624.9L211.8 625L212.1 626L212.4 626.1L212.8 626.1L213.1 625.7L213.4 626.2L213.7 625.4L214 626.9L214.3 625L214.6 626.7L214.9 627.3L215.2 626.7L215.5 623.7L215.8 626.3L216.1 626.6L216.4 626L216.8 627.1L217.1 626.3L217.4 627.2L217.7 624.3L218 625.5L218.3 626.7L218.6 626.5L218.9 626.4L219.2 625.7L219.5 626.2L219.8 627L220.1 625.7L220.4 625.7L220.8 627.5L221.1 624.9L221.4 627L221.7 626.7L222 626.8L222.3 627L222.6 625.6L222.9 626.3L223.2 628.2L223.5 626.4L223.8 628.6L224.1 629.2L224.4 627.1L224.8 628.1L225.1 627.8L225.4 628.2L225.7 627.6L226 627.6L226.3 627.4L226.6 626.5L226.9 626.6L227.2 627.5L227.5 625.4L227.8 625.8L228.1 628.3L228.4 627.3L228.7 628.8L229.1 628.3L229.4 628L229.7 628L230 627.9L230.3 626.8L230.6 629.2L230.9 626.8L231.2 627.8L231.5 628.7L231.8 628.6L232.1 627.7L232.4 627.4L232.7 628.7L233.1 627.8L233.4 628.6L233.7 628L234 628.2L234.3 626.9L234.6 627.2L234.9 627.2L235.2 627.5L235.5 627.4L235.8 627.7L236.1 627.6L236.4 627.5L236.7 627.9L237.1 628.3L237.4 628.2L237.7 627.4L238 628.4L238.3 628.9L238.6 628.1L238.9 628.6L239.2 628.9L239.5 629.4L239.8 629.8L240.1 630.5L240.4 628.2L240.7 629.8L241.1 628.4L241.4 627L241.7 627.7L242 626.5L242.3 627.6L242.6 627.5L242.9 627.4L243.2 628.4L243.5 627.8L243.8 626.7L244.1 628.1L244.4 627.8L244.7 627.6L245.1 628.2L245.4 626.9L245.7 628L246 627.4L246.3 628.9L246.6 626.8L246.9 629.1L247.2 627.5L247.5 629.1L247.8 627.2L248.1 628.2L248.4 628.7L248.7 626.8L249.1 629.5L249.4 627.9L249.7 629.6L250 629.8L250.3 628.2L250.6 629.9L250.9 628.7L251.2 630.7L251.5 629.2L251.8 628.5L252.1 627.7L252.4 628.9L252.7 631L253.1 630.5L253.4 630.2L253.7 628.2L254 630.6L254.3 631.3L254.6 630L254.9 629.7L255.2 629.8L255.5 630.2L255.8 629.8L256.1 630.1L256.4 630.5L256.7 630.6L257.1 629.1L257.4 630.2L257.7 631.9L258 629.9L258.3 630.8L258.6 630.1L258.9 630.9L259.2 630.7L259.5 629.9L259.8 628.2L260.1 629.4L260.4 627.5L260.7 630.4L261.1 629.2L261.4 629.8L261.7 629.4L262 629.3L262.3 629L262.6 630L262.9 630.4L263.2 630.2L263.5 630.6L263.8 628.9L264.1 629.9L264.4 630L264.7 631.3L265.1 628.5L265.4 629.4L265.7 628.7L266 628L266.3 629.3L266.6 630.8L266.9 631L267.2 629.7L267.5 628.9L267.8 629.7L268.1 629.7L268.4 629.7L268.7 629.7L269.1 632.3L269.4 629.6L269.7 630.8L270 630.4L270.3 632.5L270.6 630.6L270.9 630L271.2 630.2L271.5 629.8L271.8 630.1L272.1 629.3L272.4 628.7L272.7 630.2L273 629L273.4 630.4L273.7 628.8L274 627.9L274.3 628.5L274.6 629.7L274.9 630.3L275.2 629.7L275.5 629.1L275.8 630.4L276.1 630.2L276.4 629L276.7 629.9L277 629L277.4 629.4L277.7 629.9L278 631L278.3 629.9L278.6 631.4L278.9 629.3L279.2 629.7L279.5 628.9L279.8 631.4L280.1 631.1L280.4 632.7L280.7 631.7L281 630.8L281.4 631.5L281.7 632.6L282 631.4L282.3 630.3L282.6 631L282.9 630.6L283.2 630.9L283.5 631.7L283.8 630.6L284.1 631.1L284.4 632.1L284.7 630.5L285 632.1L285.4 631L285.7 630.1L286 631L286.3 630.3L286.6 630.5L286.9 632.5L287.2 629.1L287.5 630.5L287.8 632.2L288.1 632L288.4 629.1L288.7 631.1L289 630.9L289.4 630.2L289.7 631.8L290 631.8L290.3 631.6L290.6 631.3L290.9 630.3L291.2 631.7L291.5 631.9L291.8 630.8L292.1 631.5L292.4 630.5L292.7 631.8L293 629.7L293.4 630.5L293.7 630L294 630.4L294.3 629.7L294.6 630.6L294.9 630.9L295.2 632.4L295.5 632.9L295.8 630.1L296.1 630.1L296.4 631.8L296.7 631.7L297 631.4L297.4 631.2L297.7 630.9L298 630.6L298.3 631.7L298.6 632L298.9 633.4L299.2 632.5L299.5 632.1L299.8 630.5L300.1 630.4L300.4 631.1L300.7 630.4L301 632L301.4 632L301.7 632.5L302 632.6L302.3 631.6L302.6 633.1L302.9 630.9L303.2 633.1L303.5 633.1L303.8 633.5L304.1 631.6L304.4 631.5L304.7 631.8L305 632.4L305.4 632.1L305.7 632.4L306 631.5L306.3 631.9L306.6 633.1L306.9 633L307.2 632.3L307.5 632.7L307.8 633.3L308.1 631.3L308.4 632.1L308.7 632.8L309 633.4L309.4 632.4L309.7 632.9L310 631.9L310.3 633.1L310.6 633.8L310.9 632.5L311.2 632.8L311.5 631.5L311.8 633.3L312.1 632.9L312.4 631.8L312.7 631.2L313 633.3L313.3 634.3L313.7 631.1L314 633L314.3 632.6L314.6 632.9L314.9 632.1L315.2 633.3L315.5 634.5L315.8 632.3L316.1 632.2L316.4 632.2L316.7 631.7L317 632.3L317.3 630.6L317.7 631.8L318 633.1L318.3 631.7L318.6 631.7L318.9 632.2L319.2 632.6L319.5 631.7L319.8 632L320.1 630.9L320.4 631.7L320.7 632L321 630.2L321.3 629.5L321.7 629.9L322 629.8L322.3 631.7L322.6 630.3L322.9 630.2L323.2 631.5L323.5 632.3L323.8 632L324.1 631.2L324.4 630.9L324.7 632.4L325 631.3L325.3 631.2L325.7 631.1L326 630L326.3 631.6L326.6 632.7L326.9 632.4L327.2 631.6L327.5 631.7L327.8 631.8L328.1 631.4L328.4 631.4L328.7 631.8L329 632.4L329.3 632L329.7 632.1L330 630.8L330.3 629.4L330.6 631.7L330.9 629.8L331.2 629.4L331.5 630.4L331.8 630.8L332.1 628.8L332.4 630.9L332.7 630.9L333 630.9L333.3 629.9L333.7 630.7L334 629.2L334.3 629.9L334.6 630.7L334.9 628.3L335.2 628.7L335.5 629.8L335.8 630.2L336.1 628.7L336.4 630.3L336.7 630.2L337 628.4L337.3 630.3L337.7 627.3L338 627.7L338.3 627.6L338.6 627.6L338.9 625.2L339.2 625.6L339.5 624.2L339.8 622.3L340.1 622L340.4 621.8L340.7 621.4L341 620.6L341.3 619.3L341.7 618.7L342 618.5L342.3 617.7L342.6 618.3L342.9 618.3L343.2 617.7L343.5 619L343.8 620.2L344.1 621.6L344.4 621.6L344.7 623L345 624.1L345.3 622.6L345.7 625.1L346 625.7L346.3 626.2L346.6 626.2L346.9 625.6L347.2 626.8L347.5 626.6L347.8 625.8L348.1 625.3L348.4 624.3L348.7 623.8L349 624L349.3 626L349.7 624.4L350 623.6L350.3 622.9L350.6 619.5L350.9 621.2L351.2 619.8L351.5 619.3L351.8 617.1L352.1 614.7L352.4 614.6L352.7 612.1L353 611.7L353.3 609.2L353.7 607.9L354 606.3L354.3 603.8L354.6 601.7L354.9 601.9L355.2 601L355.5 598L355.8 598.5L356.1 597.5L356.4 600.3L356.7 600.2L357 602.3L357.3 603.4L357.6 607.3L358 607.4L358.3 610.7L358.6 611.7L358.9 613.2L359.2 616.3L359.5 618.1L359.8 618.6L360.1 618.6L360.4 619.7L360.7 620L361 619L361.3 619.3L361.6 617.8L362 619.6L362.3 618.9L362.6 620.3L362.9 620.6L363.2 621L363.5 619.8L363.8 618.9L364.1 620.7L364.4 620.5L364.7 619.7L365 618.1L365.3 617.9L365.6 618.3L366 617.9L366.3 617.8L366.6 617.7L366.9 619.3L367.2 619.4L367.5 619.2L367.8 619.9L368.1 620.2L368.4 622.4L368.7 623.8L369 624.4L369.3 624.7L369.6 623.7L370 626.8L370.3 627.2L370.6 626.5L370.9 628.1L371.2 630.5L371.5 627.5L371.8 628.6L372.1 628.8L372.4 628.9L372.7 629.8L373 630.2L373.3 630.1L373.6 629.8L374 630L374.3 630.9L374.6 630.2L374.9 630.5L375.2 630.9L375.5 630.9L375.8 631.2L376.1 631.5L376.4 629.6L376.7 631.8L377 632.2L377.3 630.5L377.6 630.7L378 631.5L378.3 629.9L378.6 631.5L378.9 630.9L379.2 631.8L379.5 629.7L379.8 630.9L380.1 632.1L380.4 631.7L380.7 632.3L381 632.7L381.3 631.1L381.6 631.8L382 631.3L382.3 632.4L382.6 632.2L382.9 631.8L383.2 631.4L383.5 631.5L383.8 631.3L384.1 630.4L384.4 630.1L384.7 632.7L385 631L385.3 630.1L385.6 631.4L386 631.2L386.3 632L386.6 631L386.9 631.1L387.2 631.3L387.5 632.3L387.8 632.1L388.1 632.7L388.4 631.9L388.7 632.3L389 632.8L389.3 632.6L389.6 631.9L390 633.1L390.3 632L390.6 632.9L390.9 632.4L391.2 632.7L391.5 633.6L391.8 632.2L392.1 632L392.4 633.3L392.7 632.2L393 632.1L393.3 631.8L393.6 631.6L394 632.6L394.3 632.1L394.6 631.1L394.9 632.2L395.2 631L395.5 630.4L395.8 629.8L396.1 631L396.4 630.8L396.7 630.1L397 630.8L397.3 630.8L397.6 631L397.9 632.2L398.3 630.9L398.6 630.7L398.9 630.9L399.2 630.2L399.5 630.7L399.8 630.8L400.1 632.3L400.4 631.2L400.7 631L401 631.4L401.3 629.7L401.6 631.7L401.9 631.6L402.3 630.3L402.6 631.3L402.9 631.4L403.2 630.9L403.5 629.6L403.8 631.8L404.1 631.6L404.4 631.9L404.7 630.9L405 631.7L405.3 631.5L405.6 630.9L405.9 631.8L406.3 630.6L406.6 632.4L406.9 631.7L407.2 630.7L407.5 631.5L407.8 630.4L408.1 631.4L408.4 630.7L408.7 632.5L409 631.3L409.3 631.2L409.6 630.6L409.9 631.9L410.3 632.4L410.6 632.6L410.9 632.4L411.2 630.9L411.5 632L411.8 631.8L412.1 631.2L412.4 632.8L412.7 633.1L413 632L413.3 630.2L413.6 632L413.9 632.8L414.3 631L414.6 631.6L414.9 631.8L415.2 628.9L415.5 629.5L415.8 629.9L416.1 631.3L416.4 630.2L416.7 631L417 630.5L417.3 631.2L417.6 630.1L417.9 630.3L418.3 630.2L418.6 630.3L418.9 631.8L419.2 630.6L419.5 629.7L419.8 630.7L420.1 631.9L420.4 632.6L420.7 632L421 629.8L421.3 630.5L421.6 631.3L421.9 630.1L422.3 630.4L422.6 629.9L422.9 628.4L423.2 630.9L423.5 631.5L423.8 631.2L424.1 630.1L424.4 630L424.7 631.6L425 630.6L425.3 631.3L425.6 631L425.9 630.2L426.3 631.5L426.6 630.3L426.9 630.9L427.2 631.2L427.5 630.5L427.8 630L428.1 629.9L428.4 631.6L428.7 629L429 629.5L429.3 630.2L429.6 630.6L429.9 631L430.3 630.8L430.6 629.1L430.9 630.4L431.2 630.5L431.5 630.6L431.8 630.4L432.1 630.2L432.4 629.5L432.7 629.3L433 629.4L433.3 630.7L433.6 630.9L433.9 629.8L434.3 631.4L434.6 630.8L434.9 630.4L435.2 629.6L435.5 629.6L435.8 629.5L436.1 628.5L436.4 630.5L436.7 630.5L437 630.6L437.3 630.7L437.6 631.9L437.9 631L438.2 631.1L438.6 630.3L438.9 629.3L439.2 628.7L439.5 630L439.8 629.1L440.1 628.1L440.4 628.9L440.7 628.6L441 628.5L441.3 628.5L441.6 629.5L441.9 630.8L442.2 629.4L442.6 629.5L442.9 629.4L443.2 629.9L443.5 629.7L443.8 629.3L444.1 629.7L444.4 629.6L444.7 630.4L445 630.2L445.3 629L445.6 630.3L445.9 630L446.2 630.3L446.6 631.5L446.9 629.9L447.2 631.4L447.5 629.7L447.8 629.7L448.1 629.6L448.4 629.9L448.7 630.1L449 629.8L449.3 629.4L449.6 629.5L449.9 629.8L450.2 630.1L450.6 628.9L450.9 630.4L451.2 629.6L451.5 630.2L451.8 629.9L452.1 629.8L452.4 630.2L452.7 630.5L453 630.1L453.3 628.8L453.6 629.3L453.9 629.9L454.2 630.5L454.6 629.8L454.9 629.2L455.2 630.1L455.5 630.3L455.8 629.9L456.1 629.9L456.4 631.6L456.7 629.3L457 629.5L457.3 629.4L457.6 630.5L457.9 630.5L458.2 631.2L458.6 630.3L458.9 629.9L459.2 630.1L459.5 629.6L459.8 630.1L460.1 630.3L460.4 629.4L460.7 629.7L461 629.6L461.3 630.4L461.6 628.5L461.9 629.9L462.2 630.4L462.6 629.8L462.9 629.6L463.2 629.9L463.5 628.2L463.8 628.8L464.1 631.3L464.4 629.4L464.7 631L465 630L465.3 630.2L465.6 629.7L465.9 629.9L466.2 630.5L466.6 629.2L466.9 630.2L467.2 629.8L467.5 630.6L467.8 629.7L468.1 629.8L468.4 629.4L468.7 630.1L469 630.3L469.3 629.1L469.6 628.7L469.9 630.1L470.2 629L470.6 629.4L470.9 629.4L471.2 629.2L471.5 630L471.8 628.5L472.1 630.4L472.4 629.2L472.7 630.5L473 630.3L473.3 629.4L473.6 630.5L473.9 630.1L474.2 629.8L474.6 629.7L474.9 630.7L475.2 629.9L475.5 630.8L475.8 629.6L476.1 630.5L476.4 629.8L476.7 629.8L477 629.8L477.3 630.6L477.6 630.5L477.9 630L478.2 629.5L478.6 630.5L478.9 631.4L479.2 629.4L479.5 629.7L479.8 629.4L480.1 630.5L480.4 630.3L480.7 632.4L481 630.2L481.3 630.3L481.6 630.5L481.9 631.2L482.2 630.5L482.5 629.6L482.9 630.8L483.2 630.9L483.5 632.3L483.8 631.1L484.1 630.1L484.4 629.1L484.7 630L485 630.7L485.3 629.4L485.6 629.5L485.9 630.1L486.2 629.4L486.5 630L486.9 631.5L487.2 630.8L487.5 630L487.8 630.4L488.1 630.8L488.4 628.8L488.7 629.9L489 630.1L489.3 629.3L489.6 629.3L489.9 630.4L490.2 629.1L490.5 629.5L490.9 630.3L491.2 629.4L491.5 630.3L491.8 630.3L492.1 630.1L492.4 630.4L492.7 631.5L493 630.2L493.3 631.1L493.6 630.7L493.9 631.3L494.2 630.8L494.5 629.8L494.9 630.3L495.2 629.1L495.5 629.3L495.8 628L496.1 629.6L496.4 629.3L496.7 627.9L497 628.4L497.3 628.1L497.6 628.7L497.9 629.1L498.2 628.2L498.5 628.8L498.9 627.6L499.2 629.9L499.5 628.5L499.8 628.2L500.1 628.1L500.4 627.2L500.7 628.3L501 628L501.3 626.9L501.6 625.6L501.9 627.8L502.2 626.3L502.5 626.3L502.9 626L503.2 624.9L503.5 625.6L503.8 625L504.1 623.8L504.4 623.5L504.7 624.5L505 622.4L505.3 623.1L505.6 620.7L505.9 622.2L506.2 620.1L506.5 618.8L506.9 617.6L507.2 615.2L507.5 615.3L507.8 612.6L508.1 612.1L508.4 610.6L508.7 607.5L509 605.1L509.3 603.1L509.6 600.1L509.9 598.6L510.2 594.3L510.5 594.4L510.9 591.2L511.2 589.5L511.5 585.6L511.8 585.9L512.1 586.1L512.4 581.6L512.7 584L513 584.5L513.3 585L513.6 588.9L513.9 589.1L514.2 592.8L514.5 595.6L514.9 597.5L515.2 601.4L515.5 601.9L515.8 604.8L516.1 606.4L516.4 611L516.7 612.5L517 613.6L517.3 614.7L517.6 616.4L517.9 617.4L518.2 619L518.5 618.8L518.9 619.1L519.2 619.2L519.5 622.6L519.8 621L520.1 622.8L520.4 623.2L520.7 622.9L521 624.7L521.3 626.9L521.6 627.7L521.9 626.8L522.2 627.1L522.5 627.4L522.8 628.2L523.2 627.5L523.5 628.1L523.8 628.1L524.1 627.7L524.4 628.1L524.7 630.3L525 629.8L525.3 628.8L525.6 629L525.9 627.3L526.2 627L526.5 628L526.8 628.8L527.2 628.3L527.5 629.3L527.8 629.3L528.1 629.5L528.4 630.3L528.7 630.3L529 629.4L529.3 630.9L529.6 630.5L529.9 631.5L530.2 630.8L530.5 631.4L530.8 630.1L531.2 628.9L531.5 629.1L531.8 630L532.1 628.3L532.4 629.4L532.7 630.2L533 630.3L533.3 629.4L533.6 631.6L533.9 632L534.2 630.9L534.5 631.7L534.8 630.9L535.2 631.7L535.5 631.5L535.8 631.3L536.1 630.3L536.4 630.8L536.7 631L537 631.4L537.3 630.8L537.6 631.3L537.9 631.2L538.2 630.9L538.5 630.2L538.8 631.7L539.2 631.1L539.5 632.5L539.8 631.2L540.1 632.6L540.4 630.3L540.7 631.7L541 631.1L541.3 632.1L541.6 630.9L541.9 631.3L542.2 631L542.5 630.9L542.8 630.6L543.2 630.9L543.5 630.7L543.8 631.1L544.1 629.8L544.4 631.2L544.7 631.5L545 632L545.3 632.3L545.6 630.9L545.9 632L546.2 631.7L546.5 632.1L546.8 632.4L547.2 631.5L547.5 630.5L547.8 632.1L548.1 631.9L548.4 630.6L548.7 630L549 631.9L549.3 630.7L549.6 631L549.9 631.6L550.2 632.1L550.5 630.8L550.8 631.7L551.2 632L551.5 631L551.8 631.1L552.1 630.1L552.4 631.2L552.7 632.1L553 631.9L553.3 632.8L553.6 630.6L553.9 631.5L554.2 631.1L554.5 630.7L554.8 631.4L555.2 631.4L555.5 631.2L555.8 634L556.1 632.6L556.4 631.8L556.7 631.9L557 632.9L557.3 632.5L557.6 632.1L557.9 631.1L558.2 630.1L558.5 631L558.8 631.5L559.2 631.2L559.5 630.7L559.8 630.4L560.1 631.3L560.4 630.9L560.7 630.3L561 631.8L561.3 632L561.6 630.3L561.9 630.1L562.2 630.7L562.5 630.3L562.8 631.7L563.2 631.7L563.5 630.4L563.8 631L564.1 630.6L564.4 630.7L564.7 631.3L565 630.6L565.3 631.2L565.6 630.5L565.9 629.9L566.2 632L566.5 630.5L566.8 631.3L567.1 631.9L567.5 632L567.8 630.8L568.1 632.4L568.4 632.2L568.7 632.2L569 631.1L569.3 631L569.6 630.9L569.9 631L570.2 630.9L570.5 630.4L570.8 631.6L571.1 631L571.5 630.9L571.8 630.9L572.1 632.3L572.4 631.7L572.7 631.9L573 630.9L573.3 632.7L573.6 631.3L573.9 631.1L574.2 629.9L574.5 632.6L574.8 630.9L575.1 630.7L575.5 631.7L575.8 632.4L576.1 629.8L576.4 630.6L576.7 631.4L577 629.9L577.3 630L577.6 630.1L577.9 629.5L578.2 631L578.5 630.1L578.8 631.2L579.1 630.5L579.5 631.1L579.8 629L580.1 630.6L580.4 630.2L580.7 629.9L581 629.8L581.3 629.5L581.6 630.4L581.9 629.7L582.2 631.6L582.5 630.4L582.8 631L583.1 632.1L583.5 630.2L583.8 631.6L584.1 631L584.4 630.3L584.7 630.3L585 629.4L585.3 631L585.6 629.5L585.9 630.4L586.2 629.1L586.5 630L586.8 630.1L587.1 630.2L587.5 629.9L587.8 629.3L588.1 631.8L588.4 629.6L588.7 629.2L589 629.4L589.3 629.4L589.6 629.8L589.9 630.1L590.2 629.3L590.5 629.2L590.8 630.5L591.1 628.2L591.5 627.9L591.8 627.9L592.1 627.6L592.4 627.8L592.7 626.7L593 628.2L593.3 626.8L593.6 627.4L593.9 627.1L594.2 624.8L594.5 626L594.8 626.5L595.1 624.4L595.5 625.6L595.8 624.5L596.1 624.2L596.4 623.4L596.7 622.5L597 623.3L597.3 621.2L597.6 622.1L597.9 621L598.2 618.8L598.5 618.3L598.8 618.1L599.1 616.6L599.5 616.3L599.8 614.5L600.1 613.8L600.4 611.3L600.7 610.6L601 608.7L601.3 608.2L601.6 606.1L601.9 607.3L602.2 604.4L602.5 603.5L602.8 604.8L603.1 604.9L603.5 604L603.8 603.6L604.1 606.1L604.4 605.1L604.7 609.2L605 607.9L605.3 608.7L605.6 611.7L605.9 611L606.2 612.4L606.5 612L606.8 614.2L607.1 613.9L607.4 617.4L607.8 616.8L608.1 617.9L608.4 619.2L608.7 618.9L609 619.3L609.3 619.4L609.6 621.9L609.9 619.3L610.2 621.8L610.5 621.7L610.8 620.6L611.1 619.7L611.4 621L611.8 620.2L612.1 620.1L612.4 620L612.7 620.1L613 620.8L613.3 620.1L613.6 619.3L613.9 618.5L614.2 618.1L614.5 619.2L614.8 617.6L615.1 616.1L615.4 615.7L615.8 616.1L616.1 613L616.4 614.5L616.7 612.5L617 611.7L617.3 610.3L617.6 608.5L617.9 607.2L618.2 607.7L618.5 607.3L618.8 605.7L619.1 603.9L619.4 604.3L619.8 606.7L620.1 605.8L620.4 603.6L620.7 605.1L621 607.5L621.3 608.8L621.6 607.2L621.9 610.7L622.2 612.5L622.5 611.6L622.8 612.4L623.1 615.2L623.4 616.6L623.8 617.9L624.1 617.4L624.4 618.9L624.7 619.9L625 619.7L625.3 618.9L625.6 621.1L625.9 622.7L626.2 622.6L626.5 625.1L626.8 624.3L627.1 624.3L627.4 626.7L627.8 627.5L628.1 626.4L628.4 627.1L628.7 628.5L629 626.3L629.3 628.3L629.6 628.5L629.9 627.7L630.2 629L630.5 628.4L630.8 629.9L631.1 629.5L631.4 629.1L631.8 629.9L632.1 628.7L632.4 631.3L632.7 629.7L633 628.9L633.3 629.6L633.6 628.9L633.9 630.3L634.2 629L634.5 629.9L634.8 629.6L635.1 629.3L635.4 629.8L635.8 630.9L636.1 629.6L636.4 630.3L636.7 629.5L637 628.9L637.3 631.4L637.6 629L637.9 630.5L638.2 629.8L638.5 631.6L638.8 630.4L639.1 632.1L639.4 632.8L639.8 631L640.1 631.3L640.4 633.2L640.7 630.6L641 633.3L641.3 631.6L641.6 631.8L641.9 632.5L642.2 632.1L642.5 631.8L642.8 631.3L643.1 632.3L643.4 631.4L643.8 630.7L644.1 632.1L644.4 632.2L644.7 631.9L645 631.1L645.3 631.6L645.6 631.9L645.9 630.8L646.2 631.6L646.5 630.4L646.8 631.6L647.1 631.3L647.4 631.3L647.8 630.5L648.1 632.1L648.4 629.9L648.7 631.6L649 631.9L649.3 632L649.6 631L649.9 633.1L650.2 630.5L650.5 632.4L650.8 630.1L651.1 630.7L651.4 631.5L651.7 631L652.1 632.2L652.4 632.3L652.7 633L653 632.1L653.3 633.1L653.6 633.8L653.9 633.4L654.2 631.4L654.5 633.6L654.8 633.6L655.1 632.4L655.4 633.3L655.7 632.1L656.1 633.4L656.4 633L656.7 632L657 630.8L657.3 633L657.6 632.9L657.9 632.1L658.2 631.5L658.5 632.8L658.8 634.3L659.1 632.4L659.4 632.1L659.7 632.4L660.1 633.3L660.4 634L660.7 633.3L661 632.6L661.3 633.7L661.6 632.2L661.9 633.1L662.2 632.1L662.5 632.8L662.8 632.4L663.1 633.1L663.4 632.9L663.7 632.1L664.1 631.4L664.4 631.9L664.7 631.6L665 634L665.3 632.1L665.6 631.8L665.9 631.2L666.2 633L666.5 632.1L666.8 632.7L667.1 633.1L667.4 632.6L667.7 632.4L668.1 631.6L668.4 633.4L668.7 631.8L669 632.6L669.3 632.6L669.6 633.6L669.9 632.3L670.2 632.9L670.5 631.6L670.8 632.5L671.1 632.7L671.4 632.5L671.7 632L672.1 632.5L672.4 632.4L672.7 633.2L673 631.9L673.3 632L673.6 633.2L673.9 631.4L674.2 632.2L674.5 632.7L674.8 632.1L675.1 632.8L675.4 632.5L675.7 631.8L676.1 633.2L676.4 633.8L676.7 633.2L677 633.4L677.3 631.8L677.6 632.7L677.9 632.8L678.2 634L678.5 632.8L678.8 632.8L679.1 633.2L679.4 633.3L679.7 634.6L680.1 632.7L680.4 632.7L680.7 634.4L681 633.5L681.3 633.4L681.6 632.6L681.9 632.1L682.2 632.4L682.5 631.3L682.8 632.9L683.1 633.2L683.4 632.2L683.7 632.5L684.1 632.3L684.4 632.3L684.7 632.5L685 632L685.3 632.9L685.6 632.4L685.9 633L686.2 632.7L686.5 633.1L686.8 632.8L687.1 632.8L687.4 633.4L687.7 633.6L688.1 632L688.4 634.1L688.7 632.3L689 633.5L689.3 631.9L689.6 633.2L689.9 632.4L690.2 631.8L690.5 633.3L690.8 632.5L691.1 633.7L691.4 633.5L691.7 632.2L692 632.8L692.4 632.3L692.7 633.1L693 631.9L693.3 633.3L693.6 631.8L693.9 631.8L694.2 632L694.5 632.9L694.8 633.5L695.1 633.9L695.4 633.4L695.7 633.6L696 632.5L696.4 633.9L696.7 633.9L697 633L697.3 632.8L697.6 632.3L697.9 632.4L698.2 632.2L698.5 632.3L698.8 633.2L699.1 633.2L699.4 632.9L699.7 633.3L700 633.2L700.4 633.7L700.7 632.3L701 632.8L701.3 633L701.6 633.5L701.9 633.3L702.2 633L702.5 633L702.8 632.2L703.1 633.3L703.4 633.6L703.7 632.7L704 632L704.4 632.5L704.7 632.6L705 632.5L705.3 632.8L705.6 632.1L705.9 632.5L706.2 632.7L706.5 630.6L706.8 632.2L707.1 632.5L707.4 631.4L707.7 632.3L708 632.2L708.4 632.2L708.7 632.7L709 632L709.3 630.9L709.6 632.3L709.9 632L710.2 633.3L710.5 631.9L710.8 631.7L711.1 633.7L711.4 633.1L711.7 632.4L712 632.4L712.4 630.7L712.7 632.9L713 631.5L713.3 632L713.6 631.6L713.9 632L714.2 631.3L714.5 633L714.8 632L715.1 631.9L715.4 632.5L715.7 630.9L716 631.6L716.4 630L716.7 630.7L717 631.4L717.3 631.2L717.6 632.4L717.9 631.3L718.2 631.2L718.5 629.9L718.8 630.3L719.1 631.3L719.4 631.3L719.7 629.8L720 631.2L720.4 629L720.7 630.5L721 628.5L721.3 628.8L721.6 631L721.9 628.4L722.2 630.9L722.5 630.4L722.8 630.6L723.1 629.2L723.4 628.2L723.7 629.1L724 628.4L724.4 626.4L724.7 628.5L725 627.6L725.3 628.7L725.6 626.2L725.9 626.7L726.2 627.5L726.5 626.9L726.8 626.7L727.1 627L727.4 626.7L727.7 626.1L728 626.4L728.4 626L728.7 625.8L729 625.7L729.3 625.4L729.6 626.3L729.9 624.2L730.2 624L730.5 624.4L730.8 626.6L731.1 624.2L731.4 623.4L731.7 624.3L732 623.3L732.3 622.7L732.7 621.5L733 621.1L733.3 620.3L733.6 620.3L733.9 619.8L734.2 619.7L734.5 618.3L734.8 619.8L735.1 617.3L735.4 618.2L735.7 616L736 616.6L736.3 616.3L736.7 612.6L737 615.6L737.3 612.5L737.6 614.3L737.9 612.2L738.2 611.2L738.5 611.3L738.8 613.6L739.1 613.7L739.4 612.8L739.7 612.7L740 614L740.3 614.5L740.7 618.5L741 617.8L741.3 618.8L741.6 618.8L741.9 619.8L742.2 620.4L742.5 620.9L742.8 621.6L743.1 622.9L743.4 623L743.7 625L744 624.1L744.3 624.4L744.7 625.6L745 627.3L745.3 627.5L745.6 626.8L745.9 627.4L746.2 628.2L746.5 628.3L746.8 629.3L747.1 629L747.4 628.7L747.7 628.6L748 629.4L748.3 629.5L748.7 629.5L749 631L749.3 630.4L749.6 631.5L749.9 630.6L750.2 630.4L750.5 630.3L750.8 631.9L751.1 629.7L751.4 631.6L751.7 631.9L752 632.5L752.3 631.7L752.7 631.2L753 632.6L753.3 632.2L753.6 631L753.9 631.3L754.2 633.1L754.5 632.7L754.8 631.6L755.1 632.5L755.4 632.4L755.7 632.4L756 633.4L756.3 633L756.7 631.4L757 633.7L757.3 632.1L757.6 633.2L757.9 632.9L758.2 633.8L758.5 632.5L758.8 633.1L759.1 633.4L759.4 632.6L759.7 633.9L760 632.3L760.3 632.1L760.7 632.3L761 632.7L761.3 633.2L761.6 632.2L761.9 633.2L762.2 633.1L762.5 633.6L762.8 632.1L763.1 633L763.4 632.4L763.7 631.6L764 632.9L764.3 632.4L764.7 631.8L765 632.7L765.3 631.7L765.6 630.6L765.9 631.8L766.2 632.6L766.5 632.4L766.8 632.3L767.1 633.3L767.4 633.5L767.7 632.9L768 632.5L768.3 633.4L768.7 633.7L769 632.8L769.3 632.7L769.6 633.1L769.9 633.7L770.2 632.7L770.5 632.5L770.8 633.5L771.1 632.6L771.4 634L771.7 631.9L772 633.3L772.3 632.7L772.7 633.6L773 633.1L773.3 633.2L773.6 632.2L773.9 632.2L774.2 632.1L774.5 632.6L774.8 633.1L775.1 633L775.4 632.8L775.7 633.8L776 632.1L776.3 632.8L776.6 632L777 632.1L777.3 633L777.6 633.1L777.9 633.4L778.2 633.3L778.5 632.8L778.8 632.8L779.1 633.6L779.4 633.2L779.7 634.4L780 633.2L780.3 633.6L780.6 633.9L781 634L781.3 633.7L781.6 633.3L781.9 633.2L782.2 633.6L782.5 633L782.8 632.8L783.1 634.1L783.4 633L783.7 633.5L784 633.4L784.3 633.4L784.6 633.5L785 633.4L785.3 632.8L785.6 633.3L785.9 633.4L786.2 632.4L786.5 634.2L786.8 633.4L787.1 632.3L787.4 634.1L787.7 634.4L788 633.5L788.3 633.2L788.6 634.5L789 632.9L789.3 634.6L789.6 634.4L789.9 633.8L790.2 634.8L790.5 633.5L790.8 634.1L791.1 634.4L791.4 635L791.7 632.9L792 633.4L792.3 632.8L792.6 632.8L793 632.3L793.3 633L793.6 631.8L793.9 632.4L794.2 633.5L794.5 633.3L794.8 633.2L795.1 633.6L795.4 633L795.7 634.2L796 632.6L796.3 633.5L796.6 633.7L797 632.3L797.3 632.8L797.6 633L797.9 632.8L798.2 632.8L798.5 631.6L798.8 632.8L799.1 633.7L799.4 634L799.7 632.9L800 634L800.3 633.5L800.6 634L801 633.4L801.3 633.1L801.6 633.9L801.9 633.2L802.2 633.2L802.5 633.4L802.8 632.3L803.1 632.8L803.4 633.3L803.7 633.9L804 634.5L804.3 633.6L804.6 633.5L805 631.9L805.3 633.2L805.6 632.1L805.9 633.2L806.2 633.3L806.5 633.2L806.8 633.6L807.1 632.8L807.4 632L807.7 633.3L808 633.2L808.3 633.1L808.6 633.3L809 633.9L809.3 634.6L809.6 633.3L809.9 633L810.2 633.2L810.5 633.6L810.8 632.7L811.1 632.9L811.4 632.4L811.7 632.4L812 631.4L812.3 632L812.6 631.2L813 632.6L813.3 632.8L813.6 633.8L813.9 632L814.2 633.3L814.5 632.6L814.8 633.5L815.1 633.2L815.4 634.2L815.7 632.2L816 632.3L816.3 634.1L816.6 633.6L816.9 632.8L817.3 633.4L817.6 633.2L817.9 633.4L818.2 633L818.5 633.3L818.8 632.1L819.1 632.7L819.4 633.4L819.7 633.9L820 632.2L820.3 633.2L820.6 632.5L820.9 631.8L821.3 633.2L821.6 632.5L821.9 632L822.2 632.2L822.5 632.7L822.8 631.9L823.1 632.1L823.4 631.4L823.7 630.9L824 630.7L824.3 629.9L824.6 631.1L824.9 631L825.3 630.2L825.6 629.5L825.9 630.2L826.2 628.9L826.5 630.1L826.8 628.9L827.1 630.1L827.4 628.5L827.7 629.1L828 629.2L828.3 628.6L828.6 627.9L828.9 628.3L829.3 627.9L829.6 627.9L829.9 627.8L830.2 627.5L830.5 626.4L830.8 628L831.1 627.5L831.4 626.9L831.7 626.3L832 626.3L832.3 626.4L832.6 625.6L832.9 626.3L833.3 627.1L833.6 625.7L833.9 625.2L834.2 626.6L834.5 626.5L834.8 627.1L835.1 626.7L835.4 628.4L835.7 628.3L836 627.9L836.3 627.3L836.6 627.3L836.9 628.9L837.3 628.3L837.6 628.3L837.9 628.2L838.2 628.2L838.5 628L838.8 629L839.1 630.1L839.4 628.2L839.7 631.1L840 630.5L840.3 629.2L840.6 629.1L840.9 629.4L841.3 629.3L841.6 630.3L841.9 629.6L842.2 630.5L842.5 630.2L842.8 629.9L843.1 631.4L843.4 630L843.7 631.1L844 630.1L844.3 632.4L844.6 631.3L844.9 631.6L845.3 630.6L845.6 631.6L845.9 630.5L846.2 630.3L846.5 630.2L846.8 629.6L847.1 629.3L847.4 630.3L847.7 629.1L848 629.4L848.3 630.1L848.6 628.6L848.9 629.4L849.3 629.4L849.6 628.7L849.9 628.6L850.2 626.7L850.5 628.2L850.8 626.7L851.1 627.6L851.4 626.6L851.7 625.6L852 627L852.3 626.1L852.6 625.7L852.9 627.1L853.3 625.3L853.6 625.3L853.9 625.3L854.2 624.7L854.5 624.9L854.8 625.7L855.1 626L855.4 625.5L855.7 624.7L856 625L856.3 626.1L856.6 626.9L856.9 627.8L857.3 627.4L857.6 628.5L857.9 628.4L858.2 629.5L858.5 628.4L858.8 628L859.1 627.4L859.4 628.3L859.7 628.5L860 628.9L860.3 628.3L860.6 630.5L860.9 627.4L861.2 628.8L861.6 628.4L861.9 630.6L862.2 629.6L862.5 629.3L862.8 629.5L863.1 629.6L863.4 630.6L863.7 630.2L864 631.5L864.3 630.6L864.6 630L864.9 631.2L865.2 631.7L865.6 630.3L865.9 631.1L866.2 632.6L866.5 631.9L866.8 631.3L867.1 632.3L867.4 631.6L867.7 631.5L868 632.7L868.3 633L868.6 634.2L868.9 633.2L869.2 632.2L869.6 632.6L869.9 633L870.2 632.8L870.5 633L870.8 632.4L871.1 633.2L871.4 632.7L871.7 632.7L872 632.5L872.3 633.2L872.6 633.7L872.9 631L873.2 631.8L873.6 633.1L873.9 631.6L874.2 632.9L874.5 633.1L874.8 633.8L875.1 632.9L875.4 633.1L875.7 632.4L876 633.4L876.3 633.4L876.6 634.1L876.9 632.6L877.2 633.3L877.6 634.1L877.9 633.2L878.2 633.9L878.5 634L878.8 633.2L879.1 633.5L879.4 633.1L879.7 633.2L880 632.1L880.3 633.7L880.6 632.4L880.9 632.7L881.2 633.4L881.6 632.1L881.9 632.6L882.2 633.1L882.5 634.1L882.8 633.8L883.1 633.8L883.4 633.5L883.7 632.3L884 633.7L884.3 634.3L884.6 632.9L884.9 633.8L885.2 633.7L885.6 633.9L885.9 634.7L886.2 633.8L886.5 633.2L886.8 634L887.1 633.4L887.4 633.4L887.7 633.4L888 634.1L888.3 633.5L888.6 634.4L888.9 633.5L889.2 633.4L889.6 632.4L889.9 633.2L890.2 632.9L890.5 632.1L890.8 633.1L891.1 631.8L891.4 633.3L891.7 633L892 633.9L892.3 631.7L892.6 634.3L892.9 633.1L893.2 634.6L893.6 634.7L893.9 634.5L894.2 634L894.5 633.2L894.8 633.5L895.1 634.1L895.4 634.9L895.7 633.9L896 634.7L896.3 633.3L896.6 633.7L896.9 633.5L897.2 634.8L897.6 634.8L897.9 633.2L898.2 632.6L898.5 632.7L898.8 633L899.1 633.4L899.4 633.2L899.7 632.4L900 633.4L900.3 634.2L900.6 631.7L900.9 631.2L901.2 632.7L901.5 632.7L901.9 633.2L902.2 632.4L902.5 632.1L902.8 633.3L903.1 631.3L903.4 632.3L903.7 634L904 633.5L904.3 633.6L904.6 634L904.9 633.4L905.2 633.4L905.5 633.7L905.9 633L906.2 633.2L906.5 632.6L906.8 633.3L907.1 633L907.4 632L907.7 634.5L908 632.7L908.3 633L908.6 633.6L908.9 632.7L909.2 632.1L909.5 632.4L909.9 631.8L910.2 631.7L910.5 632L910.8 633.5L911.1 631.6L911.4 632.6L911.7 632.9L912 632.5L912.3 632.7L912.6 633.3L912.9 632.3L913.2 631.9L913.5 633.2L913.9 631.8L914.2 632L914.5 631.9L914.8 631.9L915.1 632L915.4 630.8L915.7 631.8L916 632.9L916.3 631.8L916.6 632.9L916.9 632.3L917.2 631L917.5 632.1L917.9 632L918.2 632.3L918.5 632.3L918.8 630.6L919.1 630.7L919.4 629.3L919.7 629.8L920 628.1L920.3 628.1L920.6 627.4L920.9 628.4L921.2 628.7L921.5 627.6L921.9 626.8L922.2 627.5L922.5 626.9L922.8 627L923.1 626.8L923.4 627.1L923.7 626.3L924 624.9L924.3 625.1L924.6 626L924.9 625.7L925.2 624.5L925.5 623.7L925.9 623.9L926.2 623.1L926.5 624L926.8 623.9L927.1 623.3L927.4 622.9L927.7 622.4L928 622.2L928.3 622.8L928.6 622.6L928.9 621.7L929.2 621.4L929.5 622.7L929.9 622.4L930.2 622.2L930.5 622.2L930.8 622.5L931.1 621L931.4 622.6L931.7 623L932 624.6L932.3 622.7L932.6 624.1L932.9 624.8L933.2 624.8L933.5 625L933.9 625.4L934.2 626.4L934.5 625.1L934.8 628.3L935.1 627.8L935.4 628.2L935.7 626.9L936 627.3L936.3 628.9L936.6 628.4L936.9 629.3L937.2 629.4L937.5 629L937.9 629.1L938.2 629.8L938.5 629L938.8 629.8L939.1 628.8L939.4 630.7L939.7 629.7L940 630.5L940.3 632.2L940.6 631.4L940.9 630.3L941.2 632.7L941.5 631.6L941.8 632.6L942.2 632L942.5 632.4L942.8 633.6L943.1 631.3L943.4 631.8L943.7 631.1L944 630.8L944.3 632.1L944.6 631.4L944.9 631L945.2 633.4L945.5 631.8L945.8 632.5L946.2 632.4L946.5 632.6L946.8 633.2L947.1 632.5L947.4 632.7L947.7 633.4L948 632.1L948.3 633.7L948.6 632.6L948.9 632.7L949.2 632.1L949.5 631.9L949.8 631.7L950.2 632.3L950.5 633.2L950.8 632.9L951.1 631.9L951.4 632.7L951.7 631.9L952 633.8L952.3 633.1L952.6 632.8L952.9 634.3L953.2 632.7L953.5 634.5L953.8 633.2L954.2 632.9L954.5 633.9L954.8 633.5L955.1 634.1L955.4 634L955.7 633.2L956 633.6L956.3 632.5L956.6 633.2L956.9 632.8L957.2 632.9L957.5 632.3L957.8 633.6L958.2 633.3L958.5 632.4L958.8 633L959.1 633.6L959.4 631.8L959.7 634.4L960 633.7L960.3 633.5L960.6 633.4L960.9 633.6L961.2 632.7L961.5 633.6L961.8 632.6L962.2 631.6L962.5 633.7L962.8 633.5L963.1 633.5L963.4 632.9L963.7 633.4L964 632.4L964.3 632.6L964.6 633.4L964.9 633.1L965.2 633.7L965.5 632.8L965.8 633.8L966.2 633.1L966.5 633.7L966.8 633.1L967.1 634.2L967.4 633L967.7 633.3L968 633.9L968.3 633.3L968.6 633.1L968.9 633.1L969.2 633.6L969.5 632.9L969.8 633.6L970.2 633.4L970.5 633.6L970.8 632.5L971.1 632.9L971.4 633.9L971.7 632.9L972 634.3L972.3 632.7L972.6 633.6L972.9 634.9L973.2 633.2L973.5 635.2L973.8 633.1L974.2 632.9L974.5 633.4L974.8 632.5L975.1 633.8L975.4 632.7L975.7 633L976 633.1L976.3 633L976.6 632.5L976.9 633.2L977.2 634.3L977.5 633L977.8 633.5L978.2 633.3L978.5 632.5L978.8 633.3L979.1 632.6L979.4 633.7L979.7 633.7L980 632.9L980.3 632L980.6 633.1L980.9 634.2L981.2 633L981.5 633.4L981.8 633.9L982.2 632.3L982.5 633.3L982.8 634L983.1 632.9L983.4 633.6L983.7 632.5L984 632.5L984.3 632.7L984.6 633.2L984.9 632.4L985.2 633L985.5 632.6L985.8 633.8L986.1 633.9L986.5 633.9L986.8 633.4L987.1 633.2L987.4 635.4L987.7 634.2L988 634.4L988.3 633.7L988.6 634.2L988.9 633.4L989.2 634.2L989.5 633.2L989.8 634L990.1 633.9L990.5 634.4L990.8 633.7L991.1 633.6L991.4 633.9L991.7 634.6L992 633.1L992.3 633.3L992.6 633.9L992.9 634.4L993.2 635L993.5 633.9L993.8 633.5L994.1 634.3L994.5 633.5L994.8 633.7L995.1 634.1L995.4 633L995.7 633.3L996 635.2L996.3 633.8L996.6 633.6L996.9 633.8L997.2 634.7L997.5 634.1L997.8 633.4L998.1 632.9L998.5 632.3L998.8 633.2L999.1 633.4L999.4 634.7L999.7 634.5L1000 633.1L1000.3 633.9L1000.6 633.9L1000.9 633.6L1001.2 634.3L1001.5 632.2L1001.8 633.3L1002.1 632.8L1002.5 632.5L1002.8 632.7L1003.1 633.5L1003.4 634.1L1003.7 634.1L1004 633.5L1004.3 634"/>
</g>
<path d="M119.59 685.0V677.6M158.08 685.0V671.4M196.57 685.0V677.6M235.07 685.0V671.4M273.56 685.0V677.6M312.05 685.0V671.4M350.54 685.0V677.6M389.03 685.0V671.4M427.52 685.0V677.6M466.02 685.0V671.4M504.51 685.0V677.6M543.00 685.0V671.4M581.49 685.0V677.6M619.98 685.0V671.4M658.48 685.0V677.6M696.97 685.0V671.4M735.46 685.0V677.6M773.95 685.0V671.4M812.44 685.0V677.6M850.93 685.0V671.4M889.43 685.0V677.6M927.92 685.0V671.4M966.41 685.0V677.6" stroke="#000" stroke-width="3.6" stroke-linecap="round" fill="none"/>
<rect x="81.1" y="8.0" width="923.8" height="677.0" fill="none" stroke="#000" stroke-width="4" stroke-linejoin="round"/>
<text class="tk" transform="translate(81.1 720.8) scale(0.945 1)">20</text>
<text class="tk" transform="translate(158.1 720.8) scale(0.945 1)">25</text>
<text class="tk" transform="translate(235.1 720.8) scale(0.945 1)">30</text>
<text class="tk" transform="translate(312.0 720.8) scale(0.945 1)">35</text>
<text class="tk" transform="translate(389.0 720.8) scale(0.945 1)">40</text>
<text class="tk" transform="translate(466.0 720.8) scale(0.945 1)">45</text>
<text class="tk" transform="translate(543.0 720.8) scale(0.945 1)">50</text>
<text class="tk" transform="translate(620.0 720.8) scale(0.945 1)">55</text>
<text class="tk" transform="translate(697.0 720.8) scale(0.945 1)">60</text>
<text class="tk" transform="translate(774.0 720.8) scale(0.945 1)">65</text>
<text class="tk" transform="translate(850.9 720.8) scale(0.945 1)">70</text>
<text class="tk" transform="translate(927.9 720.8) scale(0.945 1)">75</text>
<text class="tk" transform="translate(1004.9 720.8) scale(0.945 1)">80</text>
<text class="ax" x="542.2" y="776.0" text-anchor="middle">2θ(degree)</text>
<text class="ax" transform="translate(31.8 369.1) rotate(-90)" text-anchor="middle">Intensity(a.u.)</text>
<text class="lb" x="1000.4" y="313.8" text-anchor="end">Mn/50Ti-N-WACF</text>
<text class="lb" x="768.49" y="417.1" text-anchor="end">Mn/</text><path transform="translate(768.49 417.1) scale(0.01714 -0.01714)" d="M763 0H583V1147Q518 1085 412.5 1023T223 930V1104Q374 1175 487 1276T647 1472H763Z"/><text class="lb" x="1005.6" y="417.1" text-anchor="end">00Ti-N-WACF</text>
<text class="lb" x="1000.8" y="494.6" text-anchor="end">Mn/300Ti-N-WACF</text>
<text class="lb" x="1000.4" y="573.6" text-anchor="end">Mn/600Ti-N-WACF</text>
<text class="lb" x="953.9" y="668.3" text-anchor="end">Ti-WACF</text>
<g class="pk" transform="translate(144.6 207.1) rotate(-90)"><text x="0.00" y="0">(</text><path transform="translate(13.65 0) scale(0.02002 -0.02002)" d="M763 0H583V1147Q518 1085 412.5 1023T223 930V1104Q374 1175 487 1276T647 1472H763Z"/><text x="36.45" y="0">0</text><path transform="translate(59.25 0) scale(0.02002 -0.02002)" d="M763 0H583V1147Q518 1085 412.5 1023T223 930V1104Q374 1175 487 1276T647 1472H763Z"/><text x="82.04" y="0">)(A)</text></g>
<g class="pk" transform="translate(332.0 256.0) rotate(-90)"><text x="0.00" y="0">(004)(A)</text></g>
<g class="pk" transform="translate(490.5 268.1) rotate(-90)"><text x="0.00" y="0">(200)(A)</text></g>
<g class="pk" transform="translate(607.7 254.1) rotate(-90)"><text x="0.00" y="0">(</text><path transform="translate(13.65 0) scale(0.02002 -0.02002)" d="M763 0H583V1147Q518 1085 412.5 1023T223 930V1104Q374 1175 487 1276T647 1472H763Z"/><text x="36.45" y="0">05)(A)</text></g>
<g class="pk" transform="translate(669.0 257.2) rotate(-90)"><text x="0.00" y="0">(2</text><path transform="translate(36.45 0) scale(0.02002 -0.02002)" d="M763 0H583V1147Q518 1085 412.5 1023T223 930V1104Q374 1175 487 1276T647 1472H763Z"/><path transform="translate(59.25 0) scale(0.02002 -0.02002)" d="M763 0H583V1147Q518 1085 412.5 1023T223 930V1104Q374 1175 487 1276T647 1472H763Z"/><text x="82.04" y="0">)(A)</text></g>
<g class="pk" transform="translate(732.7 253.7) rotate(-90)"><text x="0.00" y="0">(204)(A)</text></g>
<g class="pk" transform="translate(832.0 262.8) rotate(-90)"><text x="0.00" y="0">(</text><path transform="translate(13.65 0) scale(0.02002 -0.02002)" d="M763 0H583V1147Q518 1085 412.5 1023T223 930V1104Q374 1175 487 1276T647 1472H763Z"/><path transform="translate(36.45 0) scale(0.02002 -0.02002)" d="M763 0H583V1147Q518 1085 412.5 1023T223 930V1104Q374 1175 487 1276T647 1472H763Z"/><text x="59.25" y="0">6)(A)</text></g>
<g class="pk" transform="translate(880.6 262.0) rotate(-90)"><text x="0.00" y="0">(220)(A)</text></g>
<g class="pk" transform="translate(951.0 260.7) rotate(-90)"><text x="0.00" y="0">(2</text><path transform="translate(36.45 0) scale(0.02002 -0.02002)" d="M763 0H583V1147Q518 1085 412.5 1023T223 930V1104Q374 1175 487 1276T647 1472H763Z"/><text x="59.25" y="0">5)(A)</text></g>
</svg>
</body></html>
